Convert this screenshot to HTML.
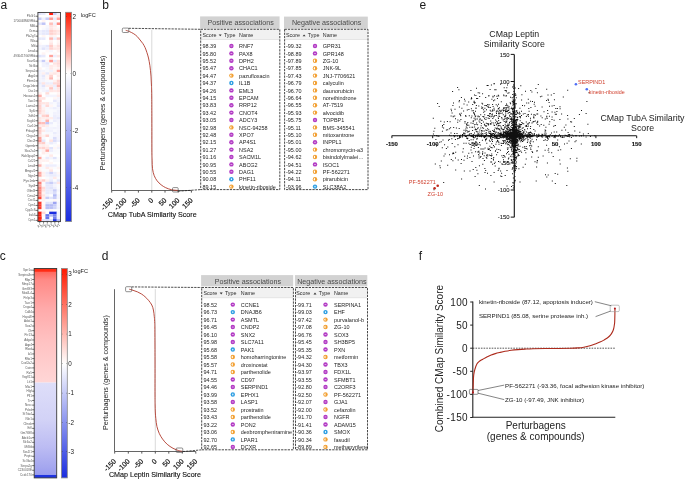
<!DOCTYPE html>
<html><head><meta charset="utf-8"><style>
html,body{margin:0;padding:0;background:#fff;}
svg{display:block;will-change:transform;}
text{font-family:"Liberation Sans",sans-serif;}
</style></head><body>
<svg width="685" height="479" viewBox="0 0 685 479" font-family="Liberation Sans, sans-serif">
<rect width="685" height="479" fill="#fff"/>
<text x="0.60" y="8.70" font-size="12" fill="#1a1a1a">a</text>
<text x="102.30" y="8.70" font-size="12" fill="#1a1a1a">b</text>
<text x="-0.20" y="260.20" font-size="12" fill="#1a1a1a">c</text>
<text x="101.80" y="260.20" font-size="12" fill="#1a1a1a">d</text>
<text x="419.60" y="8.90" font-size="12" fill="#1a1a1a">e</text>
<text x="418.80" y="260.20" font-size="12" fill="#1a1a1a">f</text>
<rect x="37.90" y="12.50" width="3.82" height="2.54" fill="#e1e4fb"/>
<rect x="41.67" y="12.50" width="3.82" height="2.54" fill="#e8eafc"/>
<rect x="49.20" y="12.50" width="3.82" height="2.54" fill="#ff1a0a"/>
<rect x="52.97" y="12.50" width="3.82" height="2.54" fill="#c8cdf8"/>
<rect x="56.73" y="12.50" width="3.82" height="2.54" fill="#f1f2fd"/>
<rect x="49.20" y="14.99" width="3.82" height="2.54" fill="#fff1f0"/>
<rect x="52.97" y="14.99" width="3.82" height="2.54" fill="#fff6f5"/>
<rect x="56.73" y="14.99" width="3.82" height="2.54" fill="#ffedeb"/>
<rect x="37.90" y="17.48" width="3.82" height="2.54" fill="#c8cdf8"/>
<rect x="41.67" y="17.48" width="3.82" height="2.54" fill="#eff0fd"/>
<rect x="45.43" y="17.48" width="3.82" height="2.54" fill="#c8cdf8"/>
<rect x="49.20" y="17.48" width="3.82" height="2.54" fill="#ff9a93"/>
<rect x="52.97" y="17.48" width="3.82" height="2.54" fill="#e8eafc"/>
<rect x="56.73" y="17.48" width="3.82" height="2.54" fill="#ffa39d"/>
<rect x="41.67" y="19.97" width="3.82" height="2.54" fill="#fff4f3"/>
<rect x="49.20" y="19.97" width="3.82" height="2.54" fill="#fffafa"/>
<rect x="52.97" y="19.97" width="3.82" height="2.54" fill="#fff6f5"/>
<rect x="37.90" y="22.46" width="3.82" height="2.54" fill="#e1e4fb"/>
<rect x="41.67" y="22.46" width="3.82" height="2.54" fill="#bfc4f6"/>
<rect x="49.20" y="22.46" width="3.82" height="2.54" fill="#ffbfba"/>
<rect x="52.97" y="22.46" width="3.82" height="2.54" fill="#f1f2fd"/>
<rect x="56.73" y="22.46" width="3.82" height="2.54" fill="#ff8c84"/>
<rect x="37.90" y="24.95" width="3.82" height="2.54" fill="#fffafa"/>
<rect x="41.67" y="24.95" width="3.82" height="2.54" fill="#fffafa"/>
<rect x="45.43" y="24.95" width="3.82" height="2.54" fill="#f6f7fe"/>
<rect x="49.20" y="24.95" width="3.82" height="2.54" fill="#ffe4e2"/>
<rect x="52.97" y="24.95" width="3.82" height="2.54" fill="#ffefee"/>
<rect x="41.67" y="27.44" width="3.82" height="2.54" fill="#f8f9fe"/>
<rect x="45.43" y="27.44" width="3.82" height="2.54" fill="#f1f2fd"/>
<rect x="49.20" y="27.44" width="3.82" height="2.54" fill="#ffe6e4"/>
<rect x="52.97" y="27.44" width="3.82" height="2.54" fill="#fff1f0"/>
<rect x="56.73" y="27.44" width="3.82" height="2.54" fill="#fff6f5"/>
<rect x="37.90" y="29.93" width="3.82" height="2.54" fill="#eff0fd"/>
<rect x="41.67" y="29.93" width="3.82" height="2.54" fill="#e6e8fc"/>
<rect x="45.43" y="29.93" width="3.82" height="2.54" fill="#e6e8fc"/>
<rect x="49.20" y="29.93" width="3.82" height="2.54" fill="#ffd1ce"/>
<rect x="52.97" y="29.93" width="3.82" height="2.54" fill="#ffddda"/>
<rect x="56.73" y="29.93" width="3.82" height="2.54" fill="#ffe6e4"/>
<rect x="37.90" y="32.41" width="3.82" height="2.54" fill="#eff0fd"/>
<rect x="41.67" y="32.41" width="3.82" height="2.54" fill="#e6e8fc"/>
<rect x="45.43" y="32.41" width="3.82" height="2.54" fill="#e6e8fc"/>
<rect x="49.20" y="32.41" width="3.82" height="2.54" fill="#ffd1ce"/>
<rect x="52.97" y="32.41" width="3.82" height="2.54" fill="#ffddda"/>
<rect x="56.73" y="32.41" width="3.82" height="2.54" fill="#ffeae9"/>
<rect x="41.67" y="34.90" width="3.82" height="2.54" fill="#fff6f5"/>
<rect x="49.20" y="34.90" width="3.82" height="2.54" fill="#fff1f0"/>
<rect x="52.97" y="34.90" width="3.82" height="2.54" fill="#fff6f5"/>
<rect x="37.90" y="37.39" width="3.82" height="2.54" fill="#e8eafc"/>
<rect x="41.67" y="37.39" width="3.82" height="2.54" fill="#e8eafc"/>
<rect x="49.20" y="37.39" width="3.82" height="2.54" fill="#ffb8b3"/>
<rect x="52.97" y="37.39" width="3.82" height="2.54" fill="#edeefd"/>
<rect x="56.73" y="37.39" width="3.82" height="2.54" fill="#ffc6c2"/>
<rect x="49.20" y="39.88" width="3.82" height="2.54" fill="#fff1f0"/>
<rect x="56.73" y="39.88" width="3.82" height="2.54" fill="#fff6f5"/>
<rect x="37.90" y="42.37" width="3.82" height="2.54" fill="#fffafa"/>
<rect x="49.20" y="42.37" width="3.82" height="2.54" fill="#ffe6e4"/>
<rect x="56.73" y="42.37" width="3.82" height="2.54" fill="#fff1f0"/>
<rect x="37.90" y="44.86" width="3.82" height="2.54" fill="#f1f2fd"/>
<rect x="41.67" y="44.86" width="3.82" height="2.54" fill="#eff0fd"/>
<rect x="45.43" y="44.86" width="3.82" height="2.54" fill="#e6e8fc"/>
<rect x="49.20" y="44.86" width="3.82" height="2.54" fill="#ffcdc9"/>
<rect x="52.97" y="44.86" width="3.82" height="2.54" fill="#fff1f0"/>
<rect x="56.73" y="44.86" width="3.82" height="2.54" fill="#ffdfdd"/>
<rect x="37.90" y="47.35" width="3.82" height="2.54" fill="#f4f4fd"/>
<rect x="41.67" y="47.35" width="3.82" height="2.54" fill="#e1e4fb"/>
<rect x="45.43" y="47.35" width="3.82" height="2.54" fill="#edeefd"/>
<rect x="49.20" y="47.35" width="3.82" height="2.54" fill="#ffd3d0"/>
<rect x="52.97" y="47.35" width="3.82" height="2.54" fill="#ffe6e4"/>
<rect x="56.73" y="47.35" width="3.82" height="2.54" fill="#ffe4e2"/>
<rect x="45.43" y="49.84" width="3.82" height="2.54" fill="#fff8f8"/>
<rect x="49.20" y="49.84" width="3.82" height="2.54" fill="#f6f7fe"/>
<rect x="56.73" y="49.84" width="3.82" height="2.54" fill="#fff1f0"/>
<rect x="41.67" y="52.33" width="3.82" height="2.54" fill="#fff4f3"/>
<rect x="52.97" y="52.33" width="3.82" height="2.54" fill="#fff8f8"/>
<rect x="37.90" y="54.82" width="3.82" height="2.54" fill="#e1e4fb"/>
<rect x="41.67" y="54.82" width="3.82" height="2.54" fill="#e8eafc"/>
<rect x="49.20" y="54.82" width="3.82" height="2.54" fill="#ffa39d"/>
<rect x="52.97" y="54.82" width="3.82" height="2.54" fill="#edeefd"/>
<rect x="56.73" y="54.82" width="3.82" height="2.54" fill="#ffe4e2"/>
<rect x="49.20" y="57.31" width="3.82" height="2.54" fill="#fff1f0"/>
<rect x="37.90" y="59.80" width="3.82" height="2.54" fill="#f1f2fd"/>
<rect x="41.67" y="59.80" width="3.82" height="2.54" fill="#c8cdf8"/>
<rect x="45.43" y="59.80" width="3.82" height="2.54" fill="#fff6f5"/>
<rect x="49.20" y="59.80" width="3.82" height="2.54" fill="#ff9a93"/>
<rect x="52.97" y="59.80" width="3.82" height="2.54" fill="#e8eafc"/>
<rect x="56.73" y="59.80" width="3.82" height="2.54" fill="#ffdfdd"/>
<rect x="41.67" y="62.29" width="3.82" height="2.54" fill="#f1f2fd"/>
<rect x="45.43" y="62.29" width="3.82" height="2.54" fill="#e6e8fc"/>
<rect x="52.97" y="62.29" width="3.82" height="2.54" fill="#ffe4e2"/>
<rect x="56.73" y="62.29" width="3.82" height="2.54" fill="#ffdad8"/>
<rect x="41.67" y="64.78" width="3.82" height="2.54" fill="#f1f2fd"/>
<rect x="45.43" y="64.78" width="3.82" height="2.54" fill="#f1f2fd"/>
<rect x="49.20" y="64.78" width="3.82" height="2.54" fill="#ffeae9"/>
<rect x="52.97" y="64.78" width="3.82" height="2.54" fill="#fff1f0"/>
<rect x="56.73" y="64.78" width="3.82" height="2.54" fill="#ffe4e2"/>
<rect x="37.90" y="67.26" width="3.82" height="2.54" fill="#fff4f3"/>
<rect x="45.43" y="67.26" width="3.82" height="2.54" fill="#f6f7fe"/>
<rect x="49.20" y="67.26" width="3.82" height="2.54" fill="#ffeae9"/>
<rect x="52.97" y="67.26" width="3.82" height="2.54" fill="#fff6f5"/>
<rect x="56.73" y="67.26" width="3.82" height="2.54" fill="#fff1f0"/>
<rect x="37.90" y="69.75" width="3.82" height="2.54" fill="#f1f2fd"/>
<rect x="41.67" y="69.75" width="3.82" height="2.54" fill="#f4f4fd"/>
<rect x="45.43" y="69.75" width="3.82" height="2.54" fill="#f8f9fe"/>
<rect x="49.20" y="69.75" width="3.82" height="2.54" fill="#f1f2fd"/>
<rect x="52.97" y="69.75" width="3.82" height="2.54" fill="#fff4f3"/>
<rect x="56.73" y="69.75" width="3.82" height="2.54" fill="#ffa39d"/>
<rect x="37.90" y="72.24" width="3.82" height="2.54" fill="#f4f4fd"/>
<rect x="41.67" y="72.24" width="3.82" height="2.54" fill="#ffefee"/>
<rect x="45.43" y="72.24" width="3.82" height="2.54" fill="#e6e8fc"/>
<rect x="49.20" y="72.24" width="3.82" height="2.54" fill="#ffedeb"/>
<rect x="52.97" y="72.24" width="3.82" height="2.54" fill="#ffe6e4"/>
<rect x="56.73" y="72.24" width="3.82" height="2.54" fill="#fff1f0"/>
<rect x="37.90" y="74.73" width="3.82" height="2.54" fill="#f4f4fd"/>
<rect x="41.67" y="74.73" width="3.82" height="2.54" fill="#e6e8fc"/>
<rect x="45.43" y="74.73" width="3.82" height="2.54" fill="#fff6f5"/>
<rect x="49.20" y="74.73" width="3.82" height="2.54" fill="#ffd3d0"/>
<rect x="56.73" y="74.73" width="3.82" height="2.54" fill="#ffeae9"/>
<rect x="37.90" y="77.22" width="3.82" height="2.54" fill="#f4f4fd"/>
<rect x="41.67" y="77.22" width="3.82" height="2.54" fill="#edeefd"/>
<rect x="45.43" y="77.22" width="3.82" height="2.54" fill="#fff6f5"/>
<rect x="49.20" y="77.22" width="3.82" height="2.54" fill="#ffb8b3"/>
<rect x="56.73" y="77.22" width="3.82" height="2.54" fill="#fff6f5"/>
<rect x="37.90" y="79.71" width="3.82" height="2.54" fill="#f4f4fd"/>
<rect x="41.67" y="79.71" width="3.82" height="2.54" fill="#f4f4fd"/>
<rect x="45.43" y="79.71" width="3.82" height="2.54" fill="#f8f9fe"/>
<rect x="49.20" y="79.71" width="3.82" height="2.54" fill="#f8f9fe"/>
<rect x="52.97" y="79.71" width="3.82" height="2.54" fill="#fff1f0"/>
<rect x="56.73" y="79.71" width="3.82" height="2.54" fill="#ffd3d0"/>
<rect x="37.90" y="82.20" width="3.82" height="2.54" fill="#eaecfc"/>
<rect x="41.67" y="82.20" width="3.82" height="2.54" fill="#ffe4e2"/>
<rect x="45.43" y="82.20" width="3.82" height="2.54" fill="#edeefd"/>
<rect x="49.20" y="82.20" width="3.82" height="2.54" fill="#edeefd"/>
<rect x="52.97" y="82.20" width="3.82" height="2.54" fill="#ffdad8"/>
<rect x="56.73" y="82.20" width="3.82" height="2.54" fill="#ffd3d0"/>
<rect x="37.90" y="84.69" width="3.82" height="2.54" fill="#f4f4fd"/>
<rect x="41.67" y="84.69" width="3.82" height="2.54" fill="#e1e4fb"/>
<rect x="45.43" y="84.69" width="3.82" height="2.54" fill="#ffedeb"/>
<rect x="49.20" y="84.69" width="3.82" height="2.54" fill="#ffeae9"/>
<rect x="52.97" y="84.69" width="3.82" height="2.54" fill="#edeefd"/>
<rect x="56.73" y="84.69" width="3.82" height="2.54" fill="#ffb8b3"/>
<rect x="37.90" y="87.18" width="3.82" height="2.54" fill="#f4f4fd"/>
<rect x="41.67" y="87.18" width="3.82" height="2.54" fill="#f1f2fd"/>
<rect x="45.43" y="87.18" width="3.82" height="2.54" fill="#fafbfe"/>
<rect x="49.20" y="87.18" width="3.82" height="2.54" fill="#ffc6c2"/>
<rect x="52.97" y="87.18" width="3.82" height="2.54" fill="#f1f2fd"/>
<rect x="56.73" y="87.18" width="3.82" height="2.54" fill="#ffe4e2"/>
<rect x="37.90" y="89.67" width="3.82" height="2.54" fill="#fafbfe"/>
<rect x="41.67" y="89.67" width="3.82" height="2.54" fill="#f4f4fd"/>
<rect x="45.43" y="89.67" width="3.82" height="2.54" fill="#edeefd"/>
<rect x="49.20" y="89.67" width="3.82" height="2.54" fill="#ffe6e4"/>
<rect x="52.97" y="89.67" width="3.82" height="2.54" fill="#ffeae9"/>
<rect x="56.73" y="89.67" width="3.82" height="2.54" fill="#ffe4e2"/>
<rect x="37.90" y="92.16" width="3.82" height="2.54" fill="#fff1f0"/>
<rect x="45.43" y="92.16" width="3.82" height="2.54" fill="#ffddda"/>
<rect x="56.73" y="92.16" width="3.82" height="2.54" fill="#fff6f5"/>
<rect x="37.90" y="94.65" width="3.82" height="2.54" fill="#ffb1ac"/>
<rect x="45.43" y="94.65" width="3.82" height="2.54" fill="#f4f4fd"/>
<rect x="49.20" y="94.65" width="3.82" height="2.54" fill="#f4f4fd"/>
<rect x="52.97" y="94.65" width="3.82" height="2.54" fill="#f4f4fd"/>
<rect x="56.73" y="94.65" width="3.82" height="2.54" fill="#ffeae9"/>
<rect x="37.90" y="97.14" width="3.82" height="2.54" fill="#ffe4e2"/>
<rect x="41.67" y="97.14" width="3.82" height="2.54" fill="#ffe4e2"/>
<rect x="52.97" y="97.14" width="3.82" height="2.54" fill="#fff6f5"/>
<rect x="56.73" y="97.14" width="3.82" height="2.54" fill="#f4f4fd"/>
<rect x="37.90" y="99.62" width="3.82" height="2.54" fill="#ffcdc9"/>
<rect x="52.97" y="99.62" width="3.82" height="2.54" fill="#e6e8fc"/>
<rect x="56.73" y="99.62" width="3.82" height="2.54" fill="#f4f4fd"/>
<rect x="37.90" y="102.11" width="3.82" height="2.54" fill="#ffdad8"/>
<rect x="41.67" y="102.11" width="3.82" height="2.54" fill="#ffe6e4"/>
<rect x="45.43" y="102.11" width="3.82" height="2.54" fill="#ffe6e4"/>
<rect x="49.20" y="102.11" width="3.82" height="2.54" fill="#f4f4fd"/>
<rect x="52.97" y="102.11" width="3.82" height="2.54" fill="#f8f9fe"/>
<rect x="56.73" y="102.11" width="3.82" height="2.54" fill="#eaecfc"/>
<rect x="37.90" y="104.60" width="3.82" height="2.54" fill="#ffd3d0"/>
<rect x="41.67" y="104.60" width="3.82" height="2.54" fill="#f6f7fe"/>
<rect x="45.43" y="104.60" width="3.82" height="2.54" fill="#ffdad8"/>
<rect x="49.20" y="104.60" width="3.82" height="2.54" fill="#fff6f5"/>
<rect x="52.97" y="104.60" width="3.82" height="2.54" fill="#fafbfe"/>
<rect x="56.73" y="104.60" width="3.82" height="2.54" fill="#e6e8fc"/>
<rect x="37.90" y="107.09" width="3.82" height="2.54" fill="#ffd3d0"/>
<rect x="41.67" y="107.09" width="3.82" height="2.54" fill="#fff1f0"/>
<rect x="45.43" y="107.09" width="3.82" height="2.54" fill="#f8f9fe"/>
<rect x="49.20" y="107.09" width="3.82" height="2.54" fill="#f4f4fd"/>
<rect x="52.97" y="107.09" width="3.82" height="2.54" fill="#edeefd"/>
<rect x="56.73" y="107.09" width="3.82" height="2.54" fill="#f4f4fd"/>
<rect x="37.90" y="109.58" width="3.82" height="2.54" fill="#ffd3d0"/>
<rect x="41.67" y="109.58" width="3.82" height="2.54" fill="#ffeae9"/>
<rect x="45.43" y="109.58" width="3.82" height="2.54" fill="#f8f9fe"/>
<rect x="49.20" y="109.58" width="3.82" height="2.54" fill="#fafbfe"/>
<rect x="52.97" y="109.58" width="3.82" height="2.54" fill="#f8f9fe"/>
<rect x="56.73" y="109.58" width="3.82" height="2.54" fill="#f1f2fd"/>
<rect x="37.90" y="112.07" width="3.82" height="2.54" fill="#ffdad8"/>
<rect x="41.67" y="112.07" width="3.82" height="2.54" fill="#ffedeb"/>
<rect x="45.43" y="112.07" width="3.82" height="2.54" fill="#f4f4fd"/>
<rect x="49.20" y="112.07" width="3.82" height="2.54" fill="#fafbfe"/>
<rect x="52.97" y="112.07" width="3.82" height="2.54" fill="#f1f2fd"/>
<rect x="56.73" y="112.07" width="3.82" height="2.54" fill="#f1f2fd"/>
<rect x="37.90" y="114.56" width="3.82" height="2.54" fill="#f6f7fe"/>
<rect x="41.67" y="114.56" width="3.82" height="2.54" fill="#ffd3d0"/>
<rect x="45.43" y="114.56" width="3.82" height="2.54" fill="#ffc6c2"/>
<rect x="49.20" y="114.56" width="3.82" height="2.54" fill="#fafbfe"/>
<rect x="52.97" y="114.56" width="3.82" height="2.54" fill="#edeefd"/>
<rect x="56.73" y="114.56" width="3.82" height="2.54" fill="#f1f2fd"/>
<rect x="37.90" y="117.05" width="3.82" height="2.54" fill="#ffe6e4"/>
<rect x="41.67" y="117.05" width="3.82" height="2.54" fill="#ffedeb"/>
<rect x="45.43" y="117.05" width="3.82" height="2.54" fill="#ffeae9"/>
<rect x="49.20" y="117.05" width="3.82" height="2.54" fill="#ffedeb"/>
<rect x="52.97" y="117.05" width="3.82" height="2.54" fill="#edeefd"/>
<rect x="56.73" y="117.05" width="3.82" height="2.54" fill="#e6e8fc"/>
<rect x="37.90" y="119.54" width="3.82" height="2.54" fill="#ffe6e4"/>
<rect x="41.67" y="119.54" width="3.82" height="2.54" fill="#f4f4fd"/>
<rect x="45.43" y="119.54" width="3.82" height="2.54" fill="#ffb1ac"/>
<rect x="49.20" y="119.54" width="3.82" height="2.54" fill="#fafbfe"/>
<rect x="52.97" y="119.54" width="3.82" height="2.54" fill="#edeefd"/>
<rect x="56.73" y="119.54" width="3.82" height="2.54" fill="#f4f4fd"/>
<rect x="37.90" y="122.03" width="3.82" height="2.54" fill="#ffb8b3"/>
<rect x="41.67" y="122.03" width="3.82" height="2.54" fill="#ffbfba"/>
<rect x="45.43" y="122.03" width="3.82" height="2.54" fill="#c1c6f7"/>
<rect x="49.20" y="122.03" width="3.82" height="2.54" fill="#eaecfc"/>
<rect x="52.97" y="122.03" width="3.82" height="2.54" fill="#fafbfe"/>
<rect x="56.73" y="122.03" width="3.82" height="2.54" fill="#f4f4fd"/>
<rect x="37.90" y="124.52" width="3.82" height="2.54" fill="#ffeae9"/>
<rect x="41.67" y="124.52" width="3.82" height="2.54" fill="#ffe4e2"/>
<rect x="45.43" y="124.52" width="3.82" height="2.54" fill="#ffedeb"/>
<rect x="49.20" y="124.52" width="3.82" height="2.54" fill="#f8f9fe"/>
<rect x="52.97" y="124.52" width="3.82" height="2.54" fill="#fafbfe"/>
<rect x="56.73" y="124.52" width="3.82" height="2.54" fill="#f4f4fd"/>
<rect x="37.90" y="127.01" width="3.82" height="2.54" fill="#ffc6c2"/>
<rect x="41.67" y="127.01" width="3.82" height="2.54" fill="#fffafa"/>
<rect x="45.43" y="127.01" width="3.82" height="2.54" fill="#f4f4fd"/>
<rect x="49.20" y="127.01" width="3.82" height="2.54" fill="#f4f4fd"/>
<rect x="52.97" y="127.01" width="3.82" height="2.54" fill="#f1f2fd"/>
<rect x="56.73" y="127.01" width="3.82" height="2.54" fill="#f4f4fd"/>
<rect x="37.90" y="129.50" width="3.82" height="2.54" fill="#ffcdc9"/>
<rect x="41.67" y="129.50" width="3.82" height="2.54" fill="#ffeae9"/>
<rect x="45.43" y="129.50" width="3.82" height="2.54" fill="#f1f2fd"/>
<rect x="49.20" y="129.50" width="3.82" height="2.54" fill="#f1f2fd"/>
<rect x="52.97" y="129.50" width="3.82" height="2.54" fill="#f8f9fe"/>
<rect x="56.73" y="129.50" width="3.82" height="2.54" fill="#f4f4fd"/>
<rect x="37.90" y="131.99" width="3.82" height="2.54" fill="#ffd3d0"/>
<rect x="41.67" y="131.99" width="3.82" height="2.54" fill="#fafbfe"/>
<rect x="45.43" y="131.99" width="3.82" height="2.54" fill="#f8f9fe"/>
<rect x="49.20" y="131.99" width="3.82" height="2.54" fill="#f8f9fe"/>
<rect x="52.97" y="131.99" width="3.82" height="2.54" fill="#eaecfc"/>
<rect x="56.73" y="131.99" width="3.82" height="2.54" fill="#f4f4fd"/>
<rect x="37.90" y="134.48" width="3.82" height="2.54" fill="#ffdfdd"/>
<rect x="41.67" y="134.48" width="3.82" height="2.54" fill="#fff1f0"/>
<rect x="45.43" y="134.48" width="3.82" height="2.54" fill="#ffd3d0"/>
<rect x="49.20" y="134.48" width="3.82" height="2.54" fill="#f8f9fe"/>
<rect x="52.97" y="134.48" width="3.82" height="2.54" fill="#f4f4fd"/>
<rect x="56.73" y="134.48" width="3.82" height="2.54" fill="#f4f4fd"/>
<rect x="37.90" y="136.96" width="3.82" height="2.54" fill="#ffa69f"/>
<rect x="41.67" y="136.96" width="3.82" height="2.54" fill="#f8f9fe"/>
<rect x="49.20" y="136.96" width="3.82" height="2.54" fill="#f8f9fe"/>
<rect x="52.97" y="136.96" width="3.82" height="2.54" fill="#daddfa"/>
<rect x="56.73" y="136.96" width="3.82" height="2.54" fill="#f4f4fd"/>
<rect x="37.90" y="139.45" width="3.82" height="2.54" fill="#ff9a93"/>
<rect x="41.67" y="139.45" width="3.82" height="2.54" fill="#e6e8fc"/>
<rect x="49.20" y="139.45" width="3.82" height="2.54" fill="#ffe4e2"/>
<rect x="52.97" y="139.45" width="3.82" height="2.54" fill="#daddfa"/>
<rect x="56.73" y="139.45" width="3.82" height="2.54" fill="#edeefd"/>
<rect x="37.90" y="141.94" width="3.82" height="2.54" fill="#ffd3d0"/>
<rect x="41.67" y="141.94" width="3.82" height="2.54" fill="#ffcdc9"/>
<rect x="45.43" y="141.94" width="3.82" height="2.54" fill="#f8f9fe"/>
<rect x="49.20" y="141.94" width="3.82" height="2.54" fill="#eaecfc"/>
<rect x="52.97" y="141.94" width="3.82" height="2.54" fill="#f4f4fd"/>
<rect x="37.90" y="144.43" width="3.82" height="2.54" fill="#fff1f0"/>
<rect x="41.67" y="144.43" width="3.82" height="2.54" fill="#ffedeb"/>
<rect x="45.43" y="144.43" width="3.82" height="2.54" fill="#fff1f0"/>
<rect x="52.97" y="144.43" width="3.82" height="2.54" fill="#fafbfe"/>
<rect x="56.73" y="144.43" width="3.82" height="2.54" fill="#fff6f5"/>
<rect x="37.90" y="146.92" width="3.82" height="2.54" fill="#ffdad8"/>
<rect x="41.67" y="146.92" width="3.82" height="2.54" fill="#ffd3d0"/>
<rect x="45.43" y="146.92" width="3.82" height="2.54" fill="#ffe4e2"/>
<rect x="49.20" y="146.92" width="3.82" height="2.54" fill="#e1e4fb"/>
<rect x="52.97" y="146.92" width="3.82" height="2.54" fill="#fff6f5"/>
<rect x="56.73" y="146.92" width="3.82" height="2.54" fill="#f1f2fd"/>
<rect x="37.90" y="149.41" width="3.82" height="2.54" fill="#f8f9fe"/>
<rect x="41.67" y="149.41" width="3.82" height="2.54" fill="#fff1f0"/>
<rect x="45.43" y="149.41" width="3.82" height="2.54" fill="#ffa8a2"/>
<rect x="49.20" y="149.41" width="3.82" height="2.54" fill="#edeefd"/>
<rect x="52.97" y="149.41" width="3.82" height="2.54" fill="#f8f9fe"/>
<rect x="56.73" y="149.41" width="3.82" height="2.54" fill="#fafbfe"/>
<rect x="41.67" y="151.90" width="3.82" height="2.54" fill="#ffedeb"/>
<rect x="45.43" y="151.90" width="3.82" height="2.54" fill="#fff6f5"/>
<rect x="49.20" y="151.90" width="3.82" height="2.54" fill="#fafbfe"/>
<rect x="52.97" y="151.90" width="3.82" height="2.54" fill="#fafbfe"/>
<rect x="56.73" y="151.90" width="3.82" height="2.54" fill="#fafbfe"/>
<rect x="37.90" y="154.39" width="3.82" height="2.54" fill="#fff6f5"/>
<rect x="45.43" y="154.39" width="3.82" height="2.54" fill="#fafbfe"/>
<rect x="49.20" y="154.39" width="3.82" height="2.54" fill="#ffeae9"/>
<rect x="37.90" y="156.88" width="3.82" height="2.54" fill="#ffa69f"/>
<rect x="41.67" y="156.88" width="3.82" height="2.54" fill="#fafbfe"/>
<rect x="45.43" y="156.88" width="3.82" height="2.54" fill="#eaecfc"/>
<rect x="49.20" y="156.88" width="3.82" height="2.54" fill="#f4f4fd"/>
<rect x="52.97" y="156.88" width="3.82" height="2.54" fill="#e1e4fb"/>
<rect x="56.73" y="156.88" width="3.82" height="2.54" fill="#fafbfe"/>
<rect x="37.90" y="159.37" width="3.82" height="2.54" fill="#fff1f0"/>
<rect x="41.67" y="159.37" width="3.82" height="2.54" fill="#fff1f0"/>
<rect x="45.43" y="159.37" width="3.82" height="2.54" fill="#fff1f0"/>
<rect x="52.97" y="159.37" width="3.82" height="2.54" fill="#f8f9fe"/>
<rect x="56.73" y="159.37" width="3.82" height="2.54" fill="#fafbfe"/>
<rect x="37.90" y="161.86" width="3.82" height="2.54" fill="#fff1f0"/>
<rect x="49.20" y="161.86" width="3.82" height="2.54" fill="#fff6f5"/>
<rect x="37.90" y="164.35" width="3.82" height="2.54" fill="#ffb1ac"/>
<rect x="41.67" y="164.35" width="3.82" height="2.54" fill="#fff6f5"/>
<rect x="45.43" y="164.35" width="3.82" height="2.54" fill="#edeefd"/>
<rect x="49.20" y="164.35" width="3.82" height="2.54" fill="#edeefd"/>
<rect x="52.97" y="164.35" width="3.82" height="2.54" fill="#edeefd"/>
<rect x="56.73" y="164.35" width="3.82" height="2.54" fill="#fafbfe"/>
<rect x="37.90" y="166.84" width="3.82" height="2.54" fill="#fff6f5"/>
<rect x="41.67" y="166.84" width="3.82" height="2.54" fill="#f8f9fe"/>
<rect x="45.43" y="166.84" width="3.82" height="2.54" fill="#ffeae9"/>
<rect x="49.20" y="166.84" width="3.82" height="2.54" fill="#fff6f5"/>
<rect x="52.97" y="166.84" width="3.82" height="2.54" fill="#fafbfe"/>
<rect x="56.73" y="166.84" width="3.82" height="2.54" fill="#fff4f3"/>
<rect x="37.90" y="169.32" width="3.82" height="2.54" fill="#fff1f0"/>
<rect x="41.67" y="169.32" width="3.82" height="2.54" fill="#fafbfe"/>
<rect x="45.43" y="169.32" width="3.82" height="2.54" fill="#fafbfe"/>
<rect x="49.20" y="169.32" width="3.82" height="2.54" fill="#ffe6e4"/>
<rect x="37.90" y="171.81" width="3.82" height="2.54" fill="#ffa8a2"/>
<rect x="41.67" y="171.81" width="3.82" height="2.54" fill="#fff1f0"/>
<rect x="45.43" y="171.81" width="3.82" height="2.54" fill="#edeefd"/>
<rect x="49.20" y="171.81" width="3.82" height="2.54" fill="#d1d5f9"/>
<rect x="52.97" y="171.81" width="3.82" height="2.54" fill="#edeefd"/>
<rect x="56.73" y="171.81" width="3.82" height="2.54" fill="#fff6f5"/>
<rect x="37.90" y="174.30" width="3.82" height="2.54" fill="#ffa8a2"/>
<rect x="41.67" y="174.30" width="3.82" height="2.54" fill="#fff1f0"/>
<rect x="45.43" y="174.30" width="3.82" height="2.54" fill="#f1f2fd"/>
<rect x="49.20" y="174.30" width="3.82" height="2.54" fill="#eaecfc"/>
<rect x="52.97" y="174.30" width="3.82" height="2.54" fill="#eaecfc"/>
<rect x="56.73" y="174.30" width="3.82" height="2.54" fill="#f4f4fd"/>
<rect x="37.90" y="176.79" width="3.82" height="2.54" fill="#fff6f5"/>
<rect x="45.43" y="176.79" width="3.82" height="2.54" fill="#fafbfe"/>
<rect x="49.20" y="176.79" width="3.82" height="2.54" fill="#f4f4fd"/>
<rect x="52.97" y="176.79" width="3.82" height="2.54" fill="#ffeae9"/>
<rect x="56.73" y="176.79" width="3.82" height="2.54" fill="#fafbfe"/>
<rect x="37.90" y="179.28" width="3.82" height="2.54" fill="#ffe4e2"/>
<rect x="41.67" y="179.28" width="3.82" height="2.54" fill="#ffcdc9"/>
<rect x="45.43" y="179.28" width="3.82" height="2.54" fill="#fff1f0"/>
<rect x="49.20" y="179.28" width="3.82" height="2.54" fill="#eaecfc"/>
<rect x="52.97" y="179.28" width="3.82" height="2.54" fill="#fafbfe"/>
<rect x="56.73" y="179.28" width="3.82" height="2.54" fill="#e6e8fc"/>
<rect x="37.90" y="181.77" width="3.82" height="2.54" fill="#ff7f76"/>
<rect x="41.67" y="181.77" width="3.82" height="2.54" fill="#fafbfe"/>
<rect x="45.43" y="181.77" width="3.82" height="2.54" fill="#daddfa"/>
<rect x="49.20" y="181.77" width="3.82" height="2.54" fill="#c8cdf8"/>
<rect x="52.97" y="181.77" width="3.82" height="2.54" fill="#e6e8fc"/>
<rect x="56.73" y="181.77" width="3.82" height="2.54" fill="#ffe6e4"/>
<rect x="37.90" y="184.26" width="3.82" height="2.54" fill="#ffa69f"/>
<rect x="41.67" y="184.26" width="3.82" height="2.54" fill="#fafbfe"/>
<rect x="45.43" y="184.26" width="3.82" height="2.54" fill="#e6e8fc"/>
<rect x="49.20" y="184.26" width="3.82" height="2.54" fill="#e6e8fc"/>
<rect x="52.97" y="184.26" width="3.82" height="2.54" fill="#f4f4fd"/>
<rect x="56.73" y="184.26" width="3.82" height="2.54" fill="#fafbfe"/>
<rect x="37.90" y="186.75" width="3.82" height="2.54" fill="#ff8880"/>
<rect x="41.67" y="186.75" width="3.82" height="2.54" fill="#ffdad8"/>
<rect x="45.43" y="186.75" width="3.82" height="2.54" fill="#e8eafc"/>
<rect x="49.20" y="186.75" width="3.82" height="2.54" fill="#e1e4fb"/>
<rect x="52.97" y="186.75" width="3.82" height="2.54" fill="#edeefd"/>
<rect x="56.73" y="186.75" width="3.82" height="2.54" fill="#fafbfe"/>
<rect x="37.90" y="189.24" width="3.82" height="2.54" fill="#ff8a82"/>
<rect x="41.67" y="189.24" width="3.82" height="2.54" fill="#ffe1df"/>
<rect x="45.43" y="189.24" width="3.82" height="2.54" fill="#e8eafc"/>
<rect x="49.20" y="189.24" width="3.82" height="2.54" fill="#e8eafc"/>
<rect x="52.97" y="189.24" width="3.82" height="2.54" fill="#c8cdf8"/>
<rect x="56.73" y="189.24" width="3.82" height="2.54" fill="#f4f4fd"/>
<rect x="37.90" y="191.73" width="3.82" height="2.54" fill="#ff8a82"/>
<rect x="41.67" y="191.73" width="3.82" height="2.54" fill="#fff4f3"/>
<rect x="45.43" y="191.73" width="3.82" height="2.54" fill="#e8eafc"/>
<rect x="49.20" y="191.73" width="3.82" height="2.54" fill="#edeefd"/>
<rect x="52.97" y="191.73" width="3.82" height="2.54" fill="#daddfa"/>
<rect x="56.73" y="191.73" width="3.82" height="2.54" fill="#fafbfe"/>
<rect x="37.90" y="194.22" width="3.82" height="2.54" fill="#ff8f87"/>
<rect x="41.67" y="194.22" width="3.82" height="2.54" fill="#ffe4e2"/>
<rect x="45.43" y="194.22" width="3.82" height="2.54" fill="#f4f4fd"/>
<rect x="52.97" y="194.22" width="3.82" height="2.54" fill="#b3baf5"/>
<rect x="56.73" y="194.22" width="3.82" height="2.54" fill="#f4f4fd"/>
<rect x="37.90" y="196.71" width="3.82" height="2.54" fill="#ff483b"/>
<rect x="41.67" y="196.71" width="3.82" height="2.54" fill="#ffedeb"/>
<rect x="45.43" y="196.71" width="3.82" height="2.54" fill="#c8cdf8"/>
<rect x="49.20" y="196.71" width="3.82" height="2.54" fill="#e1e4fb"/>
<rect x="52.97" y="196.71" width="3.82" height="2.54" fill="#c8cdf8"/>
<rect x="56.73" y="196.71" width="3.82" height="2.54" fill="#f4f4fd"/>
<rect x="41.67" y="199.20" width="3.82" height="2.54" fill="#fff1f0"/>
<rect x="45.43" y="199.20" width="3.82" height="2.54" fill="#fafbfe"/>
<rect x="49.20" y="199.20" width="3.82" height="2.54" fill="#fafbfe"/>
<rect x="52.97" y="199.20" width="3.82" height="2.54" fill="#fff6f5"/>
<rect x="56.73" y="199.20" width="3.82" height="2.54" fill="#fafbfe"/>
<rect x="37.90" y="201.69" width="3.82" height="2.54" fill="#ff382a"/>
<rect x="41.67" y="201.69" width="3.82" height="2.54" fill="#fffafa"/>
<rect x="45.43" y="201.69" width="3.82" height="2.54" fill="#e1e4fb"/>
<rect x="49.20" y="201.69" width="3.82" height="2.54" fill="#e1e4fb"/>
<rect x="52.97" y="201.69" width="3.82" height="2.54" fill="#9da5f2"/>
<rect x="56.73" y="201.69" width="3.82" height="2.54" fill="#f4f4fd"/>
<rect x="37.90" y="204.18" width="3.82" height="2.54" fill="#ff382a"/>
<rect x="41.67" y="204.18" width="3.82" height="2.54" fill="#fff6f5"/>
<rect x="45.43" y="204.18" width="3.82" height="2.54" fill="#b3baf5"/>
<rect x="49.20" y="204.18" width="3.82" height="2.54" fill="#b3baf5"/>
<rect x="52.97" y="204.18" width="3.82" height="2.54" fill="#c8cdf8"/>
<rect x="56.73" y="204.18" width="3.82" height="2.54" fill="#f4f4fd"/>
<rect x="37.90" y="206.66" width="3.82" height="2.54" fill="#ff382a"/>
<rect x="41.67" y="206.66" width="3.82" height="2.54" fill="#fff6f5"/>
<rect x="45.43" y="206.66" width="3.82" height="2.54" fill="#bac0f6"/>
<rect x="49.20" y="206.66" width="3.82" height="2.54" fill="#bac0f6"/>
<rect x="52.97" y="206.66" width="3.82" height="2.54" fill="#d1d5f9"/>
<rect x="56.73" y="206.66" width="3.82" height="2.54" fill="#f1f2fd"/>
<rect x="41.67" y="209.15" width="3.82" height="2.54" fill="#fff6f5"/>
<rect x="49.20" y="209.15" width="3.82" height="2.54" fill="#fff6f5"/>
<rect x="56.73" y="209.15" width="3.82" height="2.54" fill="#fafbfe"/>
<rect x="37.90" y="211.64" width="3.82" height="2.54" fill="#ff2111"/>
<rect x="41.67" y="211.64" width="3.82" height="2.54" fill="#ffdad8"/>
<rect x="49.20" y="211.64" width="3.82" height="2.54" fill="#1a2de0"/>
<rect x="52.97" y="211.64" width="3.82" height="2.54" fill="#1a2de0"/>
<rect x="56.73" y="211.64" width="3.82" height="2.54" fill="#f4f4fd"/>
<rect x="37.90" y="214.13" width="3.82" height="2.54" fill="#ff2111"/>
<rect x="41.67" y="214.13" width="3.82" height="2.54" fill="#fff6f5"/>
<rect x="45.43" y="214.13" width="3.82" height="2.54" fill="#6a76eb"/>
<rect x="49.20" y="214.13" width="3.82" height="2.54" fill="#b3baf5"/>
<rect x="52.97" y="214.13" width="3.82" height="2.54" fill="#7681ec"/>
<rect x="56.73" y="214.13" width="3.82" height="2.54" fill="#f1f2fd"/>
<rect x="37.90" y="216.62" width="3.82" height="2.54" fill="#ff2111"/>
<rect x="45.43" y="216.62" width="3.82" height="2.54" fill="#6a76eb"/>
<rect x="52.97" y="216.62" width="3.82" height="2.54" fill="#7681ec"/>
<rect x="56.73" y="216.62" width="3.82" height="2.54" fill="#f1f2fd"/>
<rect x="37.90" y="219.11" width="3.82" height="2.54" fill="#ff2111"/>
<rect x="41.67" y="219.11" width="3.82" height="2.54" fill="#e1e4fb"/>
<rect x="45.43" y="219.11" width="3.82" height="2.54" fill="#d6d9f9"/>
<rect x="49.20" y="219.11" width="3.82" height="2.54" fill="#e1e4fb"/>
<rect x="52.97" y="219.11" width="3.82" height="2.54" fill="#2335e1"/>
<rect x="56.73" y="219.11" width="3.82" height="2.54" fill="#b3baf5"/>
<rect x="37.90" y="12.50" width="22.60" height="209.10" fill="none" stroke="#3a3a3a" stroke-width="0.9"/>
<text x="35.30" y="17.28" font-size="3.0" fill="#5a5a5a" text-anchor="end">Pik3r1</text>
<line x1="35.50" y1="16.23" x2="37.90" y2="16.23" stroke="#333" stroke-width="0.7"/>
<text x="35.30" y="22.26" font-size="3.0" fill="#5a5a5a" text-anchor="end">1700048M09Rik</text>
<line x1="35.50" y1="21.21" x2="37.90" y2="21.21" stroke="#333" stroke-width="0.7"/>
<text x="35.30" y="27.24" font-size="3.0" fill="#5a5a5a" text-anchor="end">Mlkl</text>
<line x1="35.50" y1="26.19" x2="37.90" y2="26.19" stroke="#333" stroke-width="0.7"/>
<text x="35.30" y="32.22" font-size="3.0" fill="#5a5a5a" text-anchor="end">Ocm</text>
<line x1="35.50" y1="31.17" x2="37.90" y2="31.17" stroke="#333" stroke-width="0.7"/>
<text x="35.30" y="37.20" font-size="3.0" fill="#5a5a5a" text-anchor="end">Pla2g7</text>
<line x1="35.50" y1="36.15" x2="37.90" y2="36.15" stroke="#333" stroke-width="0.7"/>
<text x="35.30" y="42.18" font-size="3.0" fill="#5a5a5a" text-anchor="end">Wls</text>
<line x1="35.50" y1="41.13" x2="37.90" y2="41.13" stroke="#333" stroke-width="0.7"/>
<text x="35.30" y="47.16" font-size="3.0" fill="#5a5a5a" text-anchor="end">Mif</text>
<line x1="35.50" y1="46.11" x2="37.90" y2="46.11" stroke="#333" stroke-width="0.7"/>
<text x="35.30" y="52.13" font-size="3.0" fill="#5a5a5a" text-anchor="end">Lmo4</text>
<line x1="35.50" y1="51.08" x2="37.90" y2="51.08" stroke="#333" stroke-width="0.7"/>
<text x="35.30" y="57.11" font-size="3.0" fill="#5a5a5a" text-anchor="end">4930417G09Rik</text>
<line x1="35.50" y1="56.06" x2="37.90" y2="56.06" stroke="#333" stroke-width="0.7"/>
<text x="35.30" y="62.09" font-size="3.0" fill="#5a5a5a" text-anchor="end">Scarf1</text>
<line x1="35.50" y1="61.04" x2="37.90" y2="61.04" stroke="#333" stroke-width="0.7"/>
<text x="35.30" y="67.07" font-size="3.0" fill="#5a5a5a" text-anchor="end">Ncf4</text>
<line x1="35.50" y1="66.02" x2="37.90" y2="66.02" stroke="#333" stroke-width="0.7"/>
<text x="35.30" y="72.05" font-size="3.0" fill="#5a5a5a" text-anchor="end">Snrpa1</text>
<line x1="35.50" y1="71.00" x2="37.90" y2="71.00" stroke="#333" stroke-width="0.7"/>
<text x="35.30" y="77.03" font-size="3.0" fill="#5a5a5a" text-anchor="end">Aqp1</text>
<line x1="35.50" y1="75.98" x2="37.90" y2="75.98" stroke="#333" stroke-width="0.7"/>
<text x="35.30" y="82.01" font-size="3.0" fill="#5a5a5a" text-anchor="end">Pitrm1</text>
<line x1="35.50" y1="80.96" x2="37.90" y2="80.96" stroke="#333" stroke-width="0.7"/>
<text x="35.30" y="86.98" font-size="3.0" fill="#5a5a5a" text-anchor="end">Cnga1nb</text>
<line x1="35.50" y1="85.93" x2="37.90" y2="85.93" stroke="#333" stroke-width="0.7"/>
<text x="35.30" y="91.96" font-size="3.0" fill="#5a5a5a" text-anchor="end">Dsc1</text>
<line x1="35.50" y1="90.91" x2="37.90" y2="90.91" stroke="#333" stroke-width="0.7"/>
<text x="35.30" y="96.94" font-size="3.0" fill="#5a5a5a" text-anchor="end">Hoxaas1</text>
<line x1="35.50" y1="95.89" x2="37.90" y2="95.89" stroke="#333" stroke-width="0.7"/>
<text x="35.30" y="101.92" font-size="3.0" fill="#5a5a5a" text-anchor="end">Tacr2</text>
<line x1="35.50" y1="100.87" x2="37.90" y2="100.87" stroke="#333" stroke-width="0.7"/>
<text x="35.30" y="106.90" font-size="3.0" fill="#5a5a5a" text-anchor="end">Lama1</text>
<line x1="35.50" y1="105.85" x2="37.90" y2="105.85" stroke="#333" stroke-width="0.7"/>
<text x="35.30" y="111.88" font-size="3.0" fill="#5a5a5a" text-anchor="end">Syt5</text>
<line x1="35.50" y1="110.83" x2="37.90" y2="110.83" stroke="#333" stroke-width="0.7"/>
<text x="35.30" y="116.86" font-size="3.0" fill="#5a5a5a" text-anchor="end">Xdh1</text>
<line x1="35.50" y1="115.81" x2="37.90" y2="115.81" stroke="#333" stroke-width="0.7"/>
<text x="35.30" y="121.83" font-size="3.0" fill="#5a5a5a" text-anchor="end">Scgb1</text>
<line x1="35.50" y1="120.78" x2="37.90" y2="120.78" stroke="#333" stroke-width="0.7"/>
<text x="35.30" y="126.81" font-size="3.0" fill="#5a5a5a" text-anchor="end">Car10</text>
<line x1="35.50" y1="125.76" x2="37.90" y2="125.76" stroke="#333" stroke-width="0.7"/>
<text x="35.30" y="131.79" font-size="3.0" fill="#5a5a5a" text-anchor="end">Prkag3</text>
<line x1="35.50" y1="130.74" x2="37.90" y2="130.74" stroke="#333" stroke-width="0.7"/>
<text x="35.30" y="136.77" font-size="3.0" fill="#5a5a5a" text-anchor="end">Chga1</text>
<line x1="35.50" y1="135.72" x2="37.90" y2="135.72" stroke="#333" stroke-width="0.7"/>
<text x="35.30" y="141.75" font-size="3.0" fill="#5a5a5a" text-anchor="end">Clec2l</text>
<line x1="35.50" y1="140.70" x2="37.90" y2="140.70" stroke="#333" stroke-width="0.7"/>
<text x="35.30" y="146.73" font-size="3.0" fill="#5a5a5a" text-anchor="end">Gpnmb</text>
<line x1="35.50" y1="145.68" x2="37.90" y2="145.68" stroke="#333" stroke-width="0.7"/>
<text x="35.30" y="151.71" font-size="3.0" fill="#5a5a5a" text-anchor="end">Slco2a1</text>
<line x1="35.50" y1="150.66" x2="37.90" y2="150.66" stroke="#333" stroke-width="0.7"/>
<text x="35.30" y="156.68" font-size="3.0" fill="#5a5a5a" text-anchor="end">Rab3gap2</text>
<line x1="35.50" y1="155.63" x2="37.90" y2="155.63" stroke="#333" stroke-width="0.7"/>
<text x="35.30" y="161.66" font-size="3.0" fill="#5a5a5a" text-anchor="end">Ccl21</text>
<line x1="35.50" y1="160.61" x2="37.90" y2="160.61" stroke="#333" stroke-width="0.7"/>
<text x="35.30" y="166.64" font-size="3.0" fill="#5a5a5a" text-anchor="end">Lmo3</text>
<line x1="35.50" y1="165.59" x2="37.90" y2="165.59" stroke="#333" stroke-width="0.7"/>
<text x="35.30" y="171.62" font-size="3.0" fill="#5a5a5a" text-anchor="end">Mmgal1</text>
<line x1="35.50" y1="170.57" x2="37.90" y2="170.57" stroke="#333" stroke-width="0.7"/>
<text x="35.30" y="176.60" font-size="3.0" fill="#5a5a5a" text-anchor="end">Ngn1</text>
<line x1="35.50" y1="175.55" x2="37.90" y2="175.55" stroke="#333" stroke-width="0.7"/>
<text x="35.30" y="181.58" font-size="3.0" fill="#5a5a5a" text-anchor="end">Pyrc1mb</text>
<line x1="35.50" y1="180.53" x2="37.90" y2="180.53" stroke="#333" stroke-width="0.7"/>
<text x="35.30" y="186.56" font-size="3.0" fill="#5a5a5a" text-anchor="end">Syn3</text>
<line x1="35.50" y1="185.51" x2="37.90" y2="185.51" stroke="#333" stroke-width="0.7"/>
<text x="35.30" y="191.53" font-size="3.0" fill="#5a5a5a" text-anchor="end">Olfml3</text>
<line x1="35.50" y1="190.48" x2="37.90" y2="190.48" stroke="#333" stroke-width="0.7"/>
<text x="35.30" y="196.51" font-size="3.0" fill="#5a5a5a" text-anchor="end">Cma1</text>
<line x1="35.50" y1="195.46" x2="37.90" y2="195.46" stroke="#333" stroke-width="0.7"/>
<text x="35.30" y="201.49" font-size="3.0" fill="#5a5a5a" text-anchor="end">Cxcl1</text>
<line x1="35.50" y1="200.44" x2="37.90" y2="200.44" stroke="#333" stroke-width="0.7"/>
<text x="35.30" y="206.47" font-size="3.0" fill="#5a5a5a" text-anchor="end">Cpn1</text>
<line x1="35.50" y1="205.42" x2="37.90" y2="205.42" stroke="#333" stroke-width="0.7"/>
<text x="35.30" y="211.45" font-size="3.0" fill="#5a5a5a" text-anchor="end">Cyp2c8</text>
<line x1="35.50" y1="210.40" x2="37.90" y2="210.40" stroke="#333" stroke-width="0.7"/>
<text x="35.30" y="216.43" font-size="3.0" fill="#5a5a5a" text-anchor="end">Irak3</text>
<line x1="35.50" y1="215.38" x2="37.90" y2="215.38" stroke="#333" stroke-width="0.7"/>
<text x="35.30" y="221.41" font-size="3.0" fill="#5a5a5a" text-anchor="end">Cpn1</text>
<line x1="35.50" y1="220.36" x2="37.90" y2="220.36" stroke="#333" stroke-width="0.7"/>
<line x1="39.78" y1="221.60" x2="39.78" y2="223.20" stroke="#333" stroke-width="0.6"/>
<text font-size="3.4" fill="#444" font-style="italic" text-anchor="end" transform="translate(41.38,225.00) rotate(-40)">A1</text>
<line x1="43.55" y1="221.60" x2="43.55" y2="223.20" stroke="#333" stroke-width="0.6"/>
<text font-size="3.4" fill="#444" font-style="italic" text-anchor="end" transform="translate(45.15,225.00) rotate(-40)">A2</text>
<line x1="47.32" y1="221.60" x2="47.32" y2="223.20" stroke="#333" stroke-width="0.6"/>
<text font-size="3.4" fill="#444" font-style="italic" text-anchor="end" transform="translate(48.92,225.00) rotate(-40)">E3</text>
<line x1="51.08" y1="221.60" x2="51.08" y2="223.20" stroke="#333" stroke-width="0.6"/>
<text font-size="3.4" fill="#444" font-style="italic" text-anchor="end" transform="translate(52.68,225.00) rotate(-40)">X3</text>
<line x1="54.85" y1="221.60" x2="54.85" y2="223.20" stroke="#333" stroke-width="0.6"/>
<text font-size="3.4" fill="#444" font-style="italic" text-anchor="end" transform="translate(56.45,225.00) rotate(-40)">X2</text>
<line x1="58.62" y1="221.60" x2="58.62" y2="223.20" stroke="#333" stroke-width="0.6"/>
<text font-size="3.4" fill="#444" font-style="italic" text-anchor="end" transform="translate(60.22,225.00) rotate(-40)">V1</text>
<defs><linearGradient id="cba" x1="0" y1="0" x2="0" y2="1"><stop offset="0" stop-color="#ff1a00"/><stop offset="0.29" stop-color="#ffffff"/><stop offset="1" stop-color="#1a2de0"/></linearGradient><linearGradient id="cbc" x1="0" y1="0" x2="0" y2="1"><stop offset="0" stop-color="#ff1a00"/><stop offset="0.455" stop-color="#ffffff"/><stop offset="1" stop-color="#1a2de0"/></linearGradient></defs>
<rect x="65.60" y="12.30" width="5.80" height="209.30" fill="url(#cba)" stroke="#888" stroke-width="0.8"/>
<text x="72.60" y="18.80" font-size="6.3" fill="#222">2</text>
<circle cx="66.4" cy="16.60" r="0.35" fill="#333"/><circle cx="70.6" cy="16.60" r="0.35" fill="#333"/>
<text x="72.60" y="75.95" font-size="6.3" fill="#222">0</text>
<circle cx="66.4" cy="73.75" r="0.35" fill="#333"/><circle cx="70.6" cy="73.75" r="0.35" fill="#333"/>
<text x="72.60" y="132.80" font-size="6.3" fill="#222">-2</text>
<circle cx="66.4" cy="130.60" r="0.35" fill="#333"/><circle cx="70.6" cy="130.60" r="0.35" fill="#333"/>
<text x="72.60" y="189.70" font-size="6.3" fill="#222">-4</text>
<circle cx="66.4" cy="187.50" r="0.35" fill="#333"/><circle cx="70.6" cy="187.50" r="0.35" fill="#333"/>
<text x="80.80" y="16.60" font-size="5.6" fill="#222">logFC</text>
<defs><linearGradient id="hcr" x1="0" y1="0" x2="0" y2="1"><stop offset="0" stop-color="#ff5a4c"/><stop offset="0.1" stop-color="#ff8a86"/><stop offset="0.35" stop-color="#ffaaaa"/><stop offset="0.65" stop-color="#ffc3c3"/><stop offset="1" stop-color="#ffd6d6"/></linearGradient><linearGradient id="hcb" x1="0" y1="0" x2="0" y2="1"><stop offset="0" stop-color="#dedef9"/><stop offset="0.4" stop-color="#d2d2f6"/><stop offset="0.7" stop-color="#bcbcf3"/><stop offset="0.92" stop-color="#a4a6ef"/><stop offset="1" stop-color="#9a9cee"/></linearGradient></defs>
<rect x="34.20" y="268.50" width="22.50" height="114.10" fill="url(#hcr)"/>
<rect x="34.20" y="268.50" width="22.50" height="3.20" fill="#ff2c14"/>
<rect x="34.20" y="382.60" width="22.50" height="92.30" fill="url(#hcb)"/>
<rect x="34.20" y="474.90" width="22.50" height="3.00" fill="#1f33df"/>
<rect x="34.20" y="268.50" width="22.50" height="209.40" fill="none" stroke="#3a3a3a" stroke-width="0.9"/>
<text x="31.90" y="271.23" font-size="3.0" fill="#5a5a5a" text-anchor="end">Sprr1a</text>
<line x1="32.20" y1="270.18" x2="34.20" y2="270.18" stroke="#333" stroke-width="0.7"/>
<text x="31.90" y="275.88" font-size="3.0" fill="#5a5a5a" text-anchor="end">Serpina3n</text>
<line x1="32.20" y1="274.83" x2="34.20" y2="274.83" stroke="#333" stroke-width="0.7"/>
<text x="31.90" y="280.53" font-size="3.0" fill="#5a5a5a" text-anchor="end">Rbp1</text>
<line x1="32.20" y1="279.48" x2="34.20" y2="279.48" stroke="#333" stroke-width="0.7"/>
<text x="31.90" y="285.19" font-size="3.0" fill="#5a5a5a" text-anchor="end">Mmp17</text>
<line x1="32.20" y1="284.14" x2="34.20" y2="284.14" stroke="#333" stroke-width="0.7"/>
<text x="31.90" y="289.84" font-size="3.0" fill="#5a5a5a" text-anchor="end">Gm693</text>
<line x1="32.20" y1="288.79" x2="34.20" y2="288.79" stroke="#333" stroke-width="0.7"/>
<text x="31.90" y="294.49" font-size="3.0" fill="#5a5a5a" text-anchor="end">Mxd4-4</text>
<line x1="32.20" y1="293.44" x2="34.20" y2="293.44" stroke="#333" stroke-width="0.7"/>
<text x="31.90" y="299.15" font-size="3.0" fill="#5a5a5a" text-anchor="end">Pnlip3</text>
<line x1="32.20" y1="298.10" x2="34.20" y2="298.10" stroke="#333" stroke-width="0.7"/>
<text x="31.90" y="303.80" font-size="3.0" fill="#5a5a5a" text-anchor="end">Tacr1</text>
<line x1="32.20" y1="302.75" x2="34.20" y2="302.75" stroke="#333" stroke-width="0.7"/>
<text x="31.90" y="308.45" font-size="3.0" fill="#5a5a5a" text-anchor="end">Cnga4</text>
<line x1="32.20" y1="307.40" x2="34.20" y2="307.40" stroke="#333" stroke-width="0.7"/>
<text x="31.90" y="313.11" font-size="3.0" fill="#5a5a5a" text-anchor="end">Cd44</text>
<line x1="32.20" y1="312.06" x2="34.20" y2="312.06" stroke="#333" stroke-width="0.7"/>
<text x="31.90" y="317.76" font-size="3.0" fill="#5a5a5a" text-anchor="end">Hspa8l</text>
<line x1="32.20" y1="316.71" x2="34.20" y2="316.71" stroke="#333" stroke-width="0.7"/>
<text x="31.90" y="322.41" font-size="3.0" fill="#5a5a5a" text-anchor="end">Adat1</text>
<line x1="32.20" y1="321.36" x2="34.20" y2="321.36" stroke="#333" stroke-width="0.7"/>
<text x="31.90" y="327.07" font-size="3.0" fill="#5a5a5a" text-anchor="end">Sox2</text>
<line x1="32.20" y1="326.02" x2="34.20" y2="326.02" stroke="#333" stroke-width="0.7"/>
<text x="31.90" y="331.72" font-size="3.0" fill="#5a5a5a" text-anchor="end">Olr</text>
<line x1="32.20" y1="330.67" x2="34.20" y2="330.67" stroke="#333" stroke-width="0.7"/>
<text x="31.90" y="336.37" font-size="3.0" fill="#5a5a5a" text-anchor="end">Prr13</text>
<line x1="32.20" y1="335.32" x2="34.20" y2="335.32" stroke="#333" stroke-width="0.7"/>
<text x="31.90" y="341.03" font-size="3.0" fill="#5a5a5a" text-anchor="end">Adgal</text>
<line x1="32.20" y1="339.98" x2="34.20" y2="339.98" stroke="#333" stroke-width="0.7"/>
<text x="31.90" y="345.68" font-size="3.0" fill="#5a5a5a" text-anchor="end">Aqp4</text>
<line x1="32.20" y1="344.63" x2="34.20" y2="344.63" stroke="#333" stroke-width="0.7"/>
<text x="31.90" y="350.33" font-size="3.0" fill="#5a5a5a" text-anchor="end">Rlwd</text>
<line x1="32.20" y1="349.28" x2="34.20" y2="349.28" stroke="#333" stroke-width="0.7"/>
<text x="31.90" y="354.99" font-size="3.0" fill="#5a5a5a" text-anchor="end">Ia5</text>
<line x1="32.20" y1="353.94" x2="34.20" y2="353.94" stroke="#333" stroke-width="0.7"/>
<text x="31.90" y="359.64" font-size="3.0" fill="#5a5a5a" text-anchor="end">Rfto1</text>
<line x1="32.20" y1="358.59" x2="34.20" y2="358.59" stroke="#333" stroke-width="0.7"/>
<text x="31.90" y="364.29" font-size="3.0" fill="#5a5a5a" text-anchor="end">Cxxl2a2</text>
<line x1="32.20" y1="363.24" x2="34.20" y2="363.24" stroke="#333" stroke-width="0.7"/>
<text x="31.90" y="368.95" font-size="3.0" fill="#5a5a5a" text-anchor="end">Cwin</text>
<line x1="32.20" y1="367.90" x2="34.20" y2="367.90" stroke="#333" stroke-width="0.7"/>
<text x="31.90" y="373.60" font-size="3.0" fill="#5a5a5a" text-anchor="end">Rx5</text>
<line x1="32.20" y1="372.55" x2="34.20" y2="372.55" stroke="#333" stroke-width="0.7"/>
<text x="31.90" y="378.25" font-size="3.0" fill="#5a5a5a" text-anchor="end">Vegfl11</text>
<line x1="32.20" y1="377.20" x2="34.20" y2="377.20" stroke="#333" stroke-width="0.7"/>
<text x="31.90" y="382.91" font-size="3.0" fill="#5a5a5a" text-anchor="end">Lit1</text>
<line x1="32.20" y1="381.86" x2="34.20" y2="381.86" stroke="#333" stroke-width="0.7"/>
<text x="31.90" y="387.56" font-size="3.0" fill="#5a5a5a" text-anchor="end">Mta1</text>
<line x1="32.20" y1="386.51" x2="34.20" y2="386.51" stroke="#333" stroke-width="0.7"/>
<text x="31.90" y="392.21" font-size="3.0" fill="#5a5a5a" text-anchor="end">Hlgf</text>
<line x1="32.20" y1="391.16" x2="34.20" y2="391.16" stroke="#333" stroke-width="0.7"/>
<text x="31.90" y="396.87" font-size="3.0" fill="#5a5a5a" text-anchor="end">Pll1</text>
<line x1="32.20" y1="395.82" x2="34.20" y2="395.82" stroke="#333" stroke-width="0.7"/>
<text x="31.90" y="401.52" font-size="3.0" fill="#5a5a5a" text-anchor="end">Trv</text>
<line x1="32.20" y1="400.47" x2="34.20" y2="400.47" stroke="#333" stroke-width="0.7"/>
<text x="31.90" y="406.17" font-size="3.0" fill="#5a5a5a" text-anchor="end">Necc</text>
<line x1="32.20" y1="405.12" x2="34.20" y2="405.12" stroke="#333" stroke-width="0.7"/>
<text x="31.90" y="410.83" font-size="3.0" fill="#5a5a5a" text-anchor="end">Pcbd</text>
<line x1="32.20" y1="409.78" x2="34.20" y2="409.78" stroke="#333" stroke-width="0.7"/>
<text x="31.90" y="415.48" font-size="3.0" fill="#5a5a5a" text-anchor="end">St7ita4</text>
<line x1="32.20" y1="414.43" x2="34.20" y2="414.43" stroke="#333" stroke-width="0.7"/>
<text x="31.90" y="420.13" font-size="3.0" fill="#5a5a5a" text-anchor="end">Nkr1</text>
<line x1="32.20" y1="419.08" x2="34.20" y2="419.08" stroke="#333" stroke-width="0.7"/>
<text x="31.90" y="424.79" font-size="3.0" fill="#5a5a5a" text-anchor="end">Cltnsb</text>
<line x1="32.20" y1="423.74" x2="34.20" y2="423.74" stroke="#333" stroke-width="0.7"/>
<text x="31.90" y="429.44" font-size="3.0" fill="#5a5a5a" text-anchor="end">Erll</text>
<line x1="32.20" y1="428.39" x2="34.20" y2="428.39" stroke="#333" stroke-width="0.7"/>
<text x="31.90" y="434.09" font-size="3.0" fill="#5a5a5a" text-anchor="end">Gm7698</text>
<line x1="32.20" y1="433.04" x2="34.20" y2="433.04" stroke="#333" stroke-width="0.7"/>
<text x="31.90" y="438.75" font-size="3.0" fill="#5a5a5a" text-anchor="end">Abcb1a</text>
<line x1="32.20" y1="437.70" x2="34.20" y2="437.70" stroke="#333" stroke-width="0.7"/>
<text x="31.90" y="443.40" font-size="3.0" fill="#5a5a5a" text-anchor="end">Slc6a2</text>
<line x1="32.20" y1="442.35" x2="34.20" y2="442.35" stroke="#333" stroke-width="0.7"/>
<text x="31.90" y="448.05" font-size="3.0" fill="#5a5a5a" text-anchor="end">Mt3fd</text>
<line x1="32.20" y1="447.00" x2="34.20" y2="447.00" stroke="#333" stroke-width="0.7"/>
<text x="31.90" y="452.71" font-size="3.0" fill="#5a5a5a" text-anchor="end">Sos1l1</text>
<line x1="32.20" y1="451.66" x2="34.20" y2="451.66" stroke="#333" stroke-width="0.7"/>
<text x="31.90" y="457.36" font-size="3.0" fill="#5a5a5a" text-anchor="end">Pepts</text>
<line x1="32.20" y1="456.31" x2="34.20" y2="456.31" stroke="#333" stroke-width="0.7"/>
<text x="31.90" y="462.01" font-size="3.0" fill="#5a5a5a" text-anchor="end">Sc3fa4</text>
<line x1="32.20" y1="460.96" x2="34.20" y2="460.96" stroke="#333" stroke-width="0.7"/>
<text x="31.90" y="466.67" font-size="3.0" fill="#5a5a5a" text-anchor="end">Serpa2g</text>
<line x1="32.20" y1="465.62" x2="34.20" y2="465.62" stroke="#333" stroke-width="0.7"/>
<text x="31.90" y="471.32" font-size="3.0" fill="#5a5a5a" text-anchor="end">C230018E</text>
<line x1="32.20" y1="470.27" x2="34.20" y2="470.27" stroke="#333" stroke-width="0.7"/>
<text x="31.90" y="475.97" font-size="3.0" fill="#5a5a5a" text-anchor="end">Ccdc170</text>
<line x1="32.20" y1="474.92" x2="34.20" y2="474.92" stroke="#333" stroke-width="0.7"/>
<rect x="61.40" y="268.50" width="5.90" height="209.40" fill="url(#cbc)" stroke="#888" stroke-width="0.8"/>
<text x="68.30" y="276.40" font-size="6.3" fill="#222">3</text>
<circle cx="62.2" cy="274.20" r="0.35" fill="#333"/><circle cx="66.5" cy="274.20" r="0.35" fill="#333"/>
<text x="68.30" y="306.60" font-size="6.3" fill="#222">2</text>
<circle cx="62.2" cy="304.40" r="0.35" fill="#333"/><circle cx="66.5" cy="304.40" r="0.35" fill="#333"/>
<text x="68.30" y="336.20" font-size="6.3" fill="#222">1</text>
<circle cx="62.2" cy="334.00" r="0.35" fill="#333"/><circle cx="66.5" cy="334.00" r="0.35" fill="#333"/>
<text x="68.30" y="365.80" font-size="6.3" fill="#222">0</text>
<circle cx="62.2" cy="363.60" r="0.35" fill="#333"/><circle cx="66.5" cy="363.60" r="0.35" fill="#333"/>
<text x="68.30" y="395.30" font-size="6.3" fill="#222">-1</text>
<circle cx="62.2" cy="393.10" r="0.35" fill="#333"/><circle cx="66.5" cy="393.10" r="0.35" fill="#333"/>
<text x="68.30" y="424.60" font-size="6.3" fill="#222">-2</text>
<circle cx="62.2" cy="422.40" r="0.35" fill="#333"/><circle cx="66.5" cy="422.40" r="0.35" fill="#333"/>
<text x="68.30" y="453.90" font-size="6.3" fill="#222">-3</text>
<circle cx="62.2" cy="451.70" r="0.35" fill="#333"/><circle cx="66.5" cy="451.70" r="0.35" fill="#333"/>
<text x="73.10" y="273.40" font-size="5.6" fill="#222">logFC</text>
<line x1="151.80" y1="30.00" x2="151.80" y2="190.50" stroke="#c8c8c8" stroke-width="0.7"/>
<line x1="111.50" y1="30.00" x2="111.50" y2="190.50" stroke="#555" stroke-width="0.9"/>
<line x1="111.50" y1="190.50" x2="191.40" y2="190.50" stroke="#555" stroke-width="0.9"/>
<line x1="111.70" y1="190.50" x2="111.70" y2="192.60" stroke="#444" stroke-width="0.9"/>
<text font-size="7.0" fill="#111" stroke="#111" stroke-width="0.18" text-anchor="end" transform="translate(113.60,200.80) rotate(-45)">-150</text>
<line x1="125.00" y1="190.50" x2="125.00" y2="192.60" stroke="#444" stroke-width="0.9"/>
<text font-size="7.0" fill="#111" stroke="#111" stroke-width="0.18" text-anchor="end" transform="translate(126.90,200.80) rotate(-45)">-100</text>
<line x1="138.40" y1="190.50" x2="138.40" y2="192.60" stroke="#444" stroke-width="0.9"/>
<text font-size="7.0" fill="#111" stroke="#111" stroke-width="0.18" text-anchor="end" transform="translate(140.30,200.80) rotate(-45)">-50</text>
<line x1="151.80" y1="190.50" x2="151.80" y2="192.60" stroke="#444" stroke-width="0.9"/>
<text font-size="7.0" fill="#111" stroke="#111" stroke-width="0.18" text-anchor="end" transform="translate(153.70,200.80) rotate(-45)">0</text>
<line x1="165.00" y1="190.50" x2="165.00" y2="192.60" stroke="#444" stroke-width="0.9"/>
<text font-size="7.0" fill="#111" stroke="#111" stroke-width="0.18" text-anchor="end" transform="translate(166.90,200.80) rotate(-45)">50</text>
<line x1="178.20" y1="190.50" x2="178.20" y2="192.60" stroke="#444" stroke-width="0.9"/>
<text font-size="7.0" fill="#111" stroke="#111" stroke-width="0.18" text-anchor="end" transform="translate(180.10,200.80) rotate(-45)">100</text>
<line x1="191.40" y1="190.50" x2="191.40" y2="192.60" stroke="#444" stroke-width="0.9"/>
<text font-size="7.0" fill="#111" stroke="#111" stroke-width="0.18" text-anchor="end" transform="translate(193.30,200.80) rotate(-45)">150</text>
<text x="107.80" y="216.50" font-size="7.15" fill="#111" stroke="#111" stroke-width="0.12">CMap TubA Similarity Score</text>
<text font-size="7.15" fill="#222" text-anchor="middle" transform="translate(104.80,112.90) rotate(-90)">Perturbagens (genes &amp; compounds)</text>
<path d="M125.70,30.30 C126.33,30.52 128.15,31.02 129.50,31.60 C130.85,32.18 132.50,32.97 133.80,33.80 C135.10,34.63 136.25,35.57 137.30,36.60 C138.35,37.63 139.17,38.83 140.10,40.00 C141.03,41.17 142.07,42.33 142.90,43.60 C143.73,44.87 144.43,46.12 145.10,47.60 C145.77,49.08 146.33,50.77 146.90,52.50 C147.47,54.23 148.00,55.80 148.50,58.00 C149.00,60.20 149.48,62.68 149.90,65.70 C150.32,68.72 150.73,72.63 151.00,76.10 C151.27,79.57 151.38,83.02 151.50,86.50 C151.62,89.98 151.69,91.42 151.75,97.00 C151.81,102.58 151.82,111.17 151.85,120.00 C151.88,128.83 151.86,143.32 151.90,150.00 C151.94,156.68 152.00,156.98 152.10,160.10 C152.20,163.22 152.15,166.12 152.50,168.70 C152.85,171.28 153.43,173.58 154.20,175.60 C154.97,177.62 155.95,179.27 157.10,180.80 C158.25,182.33 159.67,183.65 161.10,184.80 C162.53,185.95 163.98,186.88 165.70,187.70 C167.42,188.52 169.68,189.27 171.40,189.70 C173.12,190.13 174.90,190.18 176.00,190.30 C177.10,190.42 177.67,190.38 178.00,190.40" fill="none" stroke="#b0392b" stroke-width="0.9"/>
<rect x="122.30" y="28.10" width="6.50" height="4.40" fill="none" stroke="#444" stroke-width="0.6" rx="1"/>
<rect x="172.50" y="187.60" width="5.70" height="4.40" fill="none" stroke="#444" stroke-width="0.6" rx="1"/>
<line x1="155.30" y1="289.20" x2="155.30" y2="451.50" stroke="#c8c8c8" stroke-width="0.7"/>
<line x1="114.50" y1="289.20" x2="114.50" y2="451.50" stroke="#555" stroke-width="0.9"/>
<line x1="114.50" y1="451.50" x2="195.80" y2="451.50" stroke="#555" stroke-width="0.9"/>
<line x1="114.70" y1="451.50" x2="114.70" y2="453.60" stroke="#444" stroke-width="0.9"/>
<text font-size="7.0" fill="#111" stroke="#111" stroke-width="0.18" text-anchor="end" transform="translate(116.60,461.80) rotate(-45)">-150</text>
<line x1="128.30" y1="451.50" x2="128.30" y2="453.60" stroke="#444" stroke-width="0.9"/>
<text font-size="7.0" fill="#111" stroke="#111" stroke-width="0.18" text-anchor="end" transform="translate(130.20,461.80) rotate(-45)">-100</text>
<line x1="141.80" y1="451.50" x2="141.80" y2="453.60" stroke="#444" stroke-width="0.9"/>
<text font-size="7.0" fill="#111" stroke="#111" stroke-width="0.18" text-anchor="end" transform="translate(143.70,461.80) rotate(-45)">-50</text>
<line x1="155.30" y1="451.50" x2="155.30" y2="453.60" stroke="#444" stroke-width="0.9"/>
<text font-size="7.0" fill="#111" stroke="#111" stroke-width="0.18" text-anchor="end" transform="translate(157.20,461.80) rotate(-45)">0</text>
<line x1="168.80" y1="451.50" x2="168.80" y2="453.60" stroke="#444" stroke-width="0.9"/>
<text font-size="7.0" fill="#111" stroke="#111" stroke-width="0.18" text-anchor="end" transform="translate(170.70,461.80) rotate(-45)">50</text>
<line x1="182.30" y1="451.50" x2="182.30" y2="453.60" stroke="#444" stroke-width="0.9"/>
<text font-size="7.0" fill="#111" stroke="#111" stroke-width="0.18" text-anchor="end" transform="translate(184.20,461.80) rotate(-45)">100</text>
<line x1="195.80" y1="451.50" x2="195.80" y2="453.60" stroke="#444" stroke-width="0.9"/>
<text font-size="7.0" fill="#111" stroke="#111" stroke-width="0.18" text-anchor="end" transform="translate(197.70,461.80) rotate(-45)">150</text>
<text x="108.90" y="476.80" font-size="7.15" fill="#111" stroke="#111" stroke-width="0.12">CMap Leptin Similarity Score</text>
<text font-size="7.15" fill="#222" text-anchor="middle" transform="translate(108.40,372.60) rotate(-90)">Perturbagens (genes &amp; compounds)</text>
<path d="M129.20,289.20 C129.83,289.38 131.62,289.85 133.00,290.30 C134.38,290.75 136.08,291.28 137.50,291.90 C138.92,292.52 140.25,293.20 141.50,294.00 C142.75,294.80 143.83,295.65 145.00,296.70 C146.17,297.75 147.37,298.92 148.50,300.30 C149.63,301.68 150.98,303.38 151.80,305.00 C152.62,306.62 152.98,308.03 153.40,310.00 C153.82,311.97 154.08,314.57 154.30,316.80 C154.53,319.03 154.65,320.37 154.75,323.40 C154.85,326.43 154.86,328.90 154.90,335.00 C154.94,341.10 154.98,350.00 155.00,360.00 C155.02,370.00 154.98,387.50 155.00,395.00 C155.02,402.50 155.05,402.17 155.10,405.00 C155.15,407.83 155.18,409.75 155.30,412.00 C155.42,414.25 155.53,416.10 155.80,418.50 C156.07,420.90 156.33,423.93 156.90,426.40 C157.47,428.87 158.25,431.18 159.20,433.30 C160.15,435.42 161.27,437.27 162.60,439.10 C163.93,440.93 165.47,442.77 167.20,444.30 C168.93,445.83 171.08,447.25 173.00,448.30 C174.92,449.35 177.17,450.10 178.70,450.60 C180.23,451.10 181.62,451.18 182.20,451.30" fill="none" stroke="#b0392b" stroke-width="0.9"/>
<rect x="125.60" y="286.70" width="6.10" height="5.00" fill="none" stroke="#444" stroke-width="0.6" rx="1"/>
<rect x="176.10" y="448.00" width="6.70" height="4.40" fill="none" stroke="#444" stroke-width="0.6" rx="1"/>
<line x1="128.60" y1="28.30" x2="200.70" y2="29.30" stroke="#222" stroke-width="0.8" stroke-dasharray="2.3,1"/>
<line x1="178.20" y1="191.20" x2="200.70" y2="189.60" stroke="#222" stroke-width="0.8" stroke-dasharray="2.3,1"/>
<rect x="200.10" y="16.40" width="79.50" height="12.30" fill="#d2d2d2"/>
<text x="240.65" y="25.20" font-size="7.15" fill="#4a4a4a" text-anchor="middle">Positive associations</text>
<rect x="200.70" y="29.30" width="79.10" height="160.30" fill="#fff"/>
<rect x="201.10" y="29.90" width="78.30" height="9.60" fill="#f1f1f1"/>
<line x1="201.10" y1="39.50" x2="279.40" y2="39.50" stroke="#d8d8d8" stroke-width="0.6"/>
<text transform="translate(202.50,36.90) scale(0.92,1)" font-size="5.8" fill="#2a2a2a">Score</text>
<path d="M218.70,34.40 h3.0 l-1.5,1.9z" fill="#333"/>
<text transform="translate(223.90,36.90) scale(0.92,1)" font-size="5.8" fill="#2a2a2a">Type</text>
<text transform="translate(239.10,36.90) scale(0.92,1)" font-size="5.8" fill="#2a2a2a">Name</text>
<rect x="200.70" y="29.30" width="79.10" height="160.30" fill="none" stroke="#1a1a1a" stroke-width="0.8" stroke-dasharray="2.3,1"/>
<text transform="translate(202.50,48.15) scale(0.92,1)" font-size="5.95" fill="#1e1e1e">98.39</text>
<circle cx="231.40" cy="46.00" r="2.2" fill="#b23ac4"/><rect x="230.50" y="45.65" width="1.8" height="0.7" fill="#fff" fill-opacity="0.8"/>
<text transform="translate(239.10,48.15) scale(0.92,1)" font-size="5.95" fill="#1e1e1e">RNF7</text>
<text transform="translate(202.50,55.55) scale(0.92,1)" font-size="5.95" fill="#1e1e1e">95.80</text>
<circle cx="231.40" cy="53.40" r="2.2" fill="#b23ac4"/><rect x="230.50" y="53.05" width="1.8" height="0.7" fill="#fff" fill-opacity="0.8"/>
<text transform="translate(239.10,55.55) scale(0.92,1)" font-size="5.95" fill="#1e1e1e">PAX8</text>
<text transform="translate(202.50,62.95) scale(0.92,1)" font-size="5.95" fill="#1e1e1e">95.52</text>
<circle cx="231.40" cy="60.80" r="2.2" fill="#b23ac4"/><rect x="230.50" y="60.45" width="1.8" height="0.7" fill="#fff" fill-opacity="0.8"/>
<text transform="translate(239.10,62.95) scale(0.92,1)" font-size="5.95" fill="#1e1e1e">DPH2</text>
<text transform="translate(202.50,70.35) scale(0.92,1)" font-size="5.95" fill="#1e1e1e">95.47</text>
<circle cx="231.40" cy="68.20" r="2.2" fill="#b23ac4"/><rect x="230.50" y="67.85" width="1.8" height="0.7" fill="#fff" fill-opacity="0.8"/>
<text transform="translate(239.10,70.35) scale(0.92,1)" font-size="5.95" fill="#1e1e1e">CHAC1</text>
<text transform="translate(202.50,77.75) scale(0.92,1)" font-size="5.95" fill="#1e1e1e">94.47</text>
<circle cx="231.40" cy="75.60" r="2.2" fill="#f2a033"/><path d="M231.40,74.40 A1.2,1.2 0 0 0 231.40,76.80 Z" fill="#fff"/>
<text transform="translate(239.10,77.75) scale(0.92,1)" font-size="5.95" fill="#1e1e1e">pazufloxacin</text>
<text transform="translate(202.50,85.15) scale(0.92,1)" font-size="5.95" fill="#1e1e1e">94.37</text>
<circle cx="231.40" cy="83.00" r="2.2" fill="#2f9fe3"/><ellipse cx="231.40" cy="83.00" rx="0.6" ry="0.9" fill="#fff"/>
<text transform="translate(239.10,85.15) scale(0.92,1)" font-size="5.95" fill="#1e1e1e">IL1B</text>
<text transform="translate(202.50,92.55) scale(0.92,1)" font-size="5.95" fill="#1e1e1e">94.26</text>
<circle cx="231.40" cy="90.40" r="2.2" fill="#b23ac4"/><rect x="230.50" y="90.05" width="1.8" height="0.7" fill="#fff" fill-opacity="0.8"/>
<text transform="translate(239.10,92.55) scale(0.92,1)" font-size="5.95" fill="#1e1e1e">EML3</text>
<text transform="translate(202.50,99.95) scale(0.92,1)" font-size="5.95" fill="#1e1e1e">94.15</text>
<circle cx="231.40" cy="97.80" r="2.2" fill="#b23ac4"/><rect x="230.50" y="97.45" width="1.8" height="0.7" fill="#fff" fill-opacity="0.8"/>
<text transform="translate(239.10,99.95) scale(0.92,1)" font-size="5.95" fill="#1e1e1e">EPCAM</text>
<text transform="translate(202.50,107.35) scale(0.92,1)" font-size="5.95" fill="#1e1e1e">93.83</text>
<circle cx="231.40" cy="105.20" r="2.2" fill="#b23ac4"/><rect x="230.50" y="104.85" width="1.8" height="0.7" fill="#fff" fill-opacity="0.8"/>
<text transform="translate(239.10,107.35) scale(0.92,1)" font-size="5.95" fill="#1e1e1e">RRP12</text>
<text transform="translate(202.50,114.75) scale(0.92,1)" font-size="5.95" fill="#1e1e1e">93.42</text>
<circle cx="231.40" cy="112.60" r="2.2" fill="#b23ac4"/><rect x="230.50" y="112.25" width="1.8" height="0.7" fill="#fff" fill-opacity="0.8"/>
<text transform="translate(239.10,114.75) scale(0.92,1)" font-size="5.95" fill="#1e1e1e">CNOT4</text>
<text transform="translate(202.50,122.15) scale(0.92,1)" font-size="5.95" fill="#1e1e1e">93.05</text>
<circle cx="231.40" cy="120.00" r="2.2" fill="#b23ac4"/><rect x="230.50" y="119.65" width="1.8" height="0.7" fill="#fff" fill-opacity="0.8"/>
<text transform="translate(239.10,122.15) scale(0.92,1)" font-size="5.95" fill="#1e1e1e">ADCY3</text>
<text transform="translate(202.50,129.55) scale(0.92,1)" font-size="5.95" fill="#1e1e1e">92.98</text>
<circle cx="231.40" cy="127.40" r="2.2" fill="#f2a033"/><path d="M231.40,126.20 A1.2,1.2 0 0 0 231.40,128.60 Z" fill="#fff"/>
<text transform="translate(239.10,129.55) scale(0.92,1)" font-size="5.95" fill="#1e1e1e">NSC-94258</text>
<text transform="translate(202.50,136.95) scale(0.92,1)" font-size="5.95" fill="#1e1e1e">92.48</text>
<circle cx="231.40" cy="134.80" r="2.2" fill="#b23ac4"/><rect x="230.50" y="134.45" width="1.8" height="0.7" fill="#fff" fill-opacity="0.8"/>
<text transform="translate(239.10,136.95) scale(0.92,1)" font-size="5.95" fill="#1e1e1e">XPO7</text>
<text transform="translate(202.50,144.35) scale(0.92,1)" font-size="5.95" fill="#1e1e1e">92.15</text>
<circle cx="231.40" cy="142.20" r="2.2" fill="#b23ac4"/><rect x="230.50" y="141.85" width="1.8" height="0.7" fill="#fff" fill-opacity="0.8"/>
<text transform="translate(239.10,144.35) scale(0.92,1)" font-size="5.95" fill="#1e1e1e">AP4S1</text>
<text transform="translate(202.50,151.75) scale(0.92,1)" font-size="5.95" fill="#1e1e1e">91.27</text>
<circle cx="231.40" cy="149.60" r="2.2" fill="#b23ac4"/><rect x="230.50" y="149.25" width="1.8" height="0.7" fill="#fff" fill-opacity="0.8"/>
<text transform="translate(239.10,151.75) scale(0.92,1)" font-size="5.95" fill="#1e1e1e">NSA2</text>
<text transform="translate(202.50,159.15) scale(0.92,1)" font-size="5.95" fill="#1e1e1e">91.16</text>
<circle cx="231.40" cy="157.00" r="2.2" fill="#b23ac4"/><rect x="230.50" y="156.65" width="1.8" height="0.7" fill="#fff" fill-opacity="0.8"/>
<text transform="translate(239.10,159.15) scale(0.92,1)" font-size="5.95" fill="#1e1e1e">SACM1L</text>
<text transform="translate(202.50,166.55) scale(0.92,1)" font-size="5.95" fill="#1e1e1e">90.95</text>
<circle cx="231.40" cy="164.40" r="2.2" fill="#b23ac4"/><rect x="230.50" y="164.05" width="1.8" height="0.7" fill="#fff" fill-opacity="0.8"/>
<text transform="translate(239.10,166.55) scale(0.92,1)" font-size="5.95" fill="#1e1e1e">ABCG2</text>
<text transform="translate(202.50,173.95) scale(0.92,1)" font-size="5.95" fill="#1e1e1e">90.55</text>
<circle cx="231.40" cy="171.80" r="2.2" fill="#b23ac4"/><rect x="230.50" y="171.45" width="1.8" height="0.7" fill="#fff" fill-opacity="0.8"/>
<text transform="translate(239.10,173.95) scale(0.92,1)" font-size="5.95" fill="#1e1e1e">DAG1</text>
<text transform="translate(202.50,181.35) scale(0.92,1)" font-size="5.95" fill="#1e1e1e">90.08</text>
<circle cx="231.40" cy="179.20" r="2.2" fill="#2f9fe3"/><ellipse cx="231.40" cy="179.20" rx="0.6" ry="0.9" fill="#fff"/>
<text transform="translate(239.10,181.35) scale(0.92,1)" font-size="5.95" fill="#1e1e1e">PHF11</text>
<text transform="translate(202.50,188.75) scale(0.92,1)" font-size="5.95" fill="#1e1e1e">89.15</text>
<circle cx="231.40" cy="186.60" r="2.2" fill="#f2a033"/><path d="M231.40,185.40 A1.2,1.2 0 0 0 231.40,187.80 Z" fill="#fff"/>
<text transform="translate(239.10,188.75) scale(0.92,1)" font-size="5.95" fill="#1e1e1e">kinetin-riboside</text>
<rect x="284.00" y="16.60" width="83.80" height="12.10" fill="#d2d2d2"/>
<text x="326.70" y="25.40" font-size="7.15" fill="#4a4a4a" text-anchor="middle">Negative associations</text>
<rect x="284.60" y="29.30" width="83.40" height="160.30" fill="#fff"/>
<rect x="285.00" y="29.90" width="82.60" height="9.60" fill="#f1f1f1"/>
<line x1="285.00" y1="39.50" x2="367.60" y2="39.50" stroke="#d8d8d8" stroke-width="0.6"/>
<text transform="translate(286.00,36.90) scale(0.92,1)" font-size="5.8" fill="#2a2a2a">Score</text>
<path d="M302.60,36.30 h3.0 l-1.5,-1.9z" fill="#333"/>
<text transform="translate(307.80,36.90) scale(0.92,1)" font-size="5.8" fill="#2a2a2a">Type</text>
<text transform="translate(322.80,36.90) scale(0.92,1)" font-size="5.8" fill="#2a2a2a">Name</text>
<rect x="284.60" y="29.30" width="83.40" height="160.30" fill="none" stroke="#1a1a1a" stroke-width="0.8" stroke-dasharray="2.3,1"/>
<text transform="translate(286.00,48.15) scale(0.92,1)" font-size="5.95" fill="#1e1e1e">-99.32</text>
<circle cx="315.00" cy="46.00" r="2.2" fill="#b23ac4"/><rect x="314.10" y="45.65" width="1.8" height="0.7" fill="#fff" fill-opacity="0.8"/>
<text transform="translate(322.80,48.15) scale(0.92,1)" font-size="5.95" fill="#1e1e1e">GPR31</text>
<text transform="translate(286.00,55.55) scale(0.92,1)" font-size="5.95" fill="#1e1e1e">-98.89</text>
<circle cx="315.00" cy="53.40" r="2.2" fill="#b23ac4"/><rect x="314.10" y="53.05" width="1.8" height="0.7" fill="#fff" fill-opacity="0.8"/>
<text transform="translate(322.80,55.55) scale(0.92,1)" font-size="5.95" fill="#1e1e1e">GPR148</text>
<text transform="translate(286.00,62.95) scale(0.92,1)" font-size="5.95" fill="#1e1e1e">-97.89</text>
<circle cx="315.00" cy="60.80" r="2.2" fill="#f2a033"/><path d="M315.00,59.60 A1.2,1.2 0 0 0 315.00,62.00 Z" fill="#fff"/>
<text transform="translate(322.80,62.95) scale(0.92,1)" font-size="5.95" fill="#1e1e1e">ZG-10</text>
<text transform="translate(286.00,70.35) scale(0.92,1)" font-size="5.95" fill="#1e1e1e">-97.85</text>
<circle cx="315.00" cy="68.20" r="2.2" fill="#f2a033"/><path d="M315.00,67.00 A1.2,1.2 0 0 0 315.00,69.40 Z" fill="#fff"/>
<text transform="translate(322.80,70.35) scale(0.92,1)" font-size="5.95" fill="#1e1e1e">JNK-9L</text>
<text transform="translate(286.00,77.75) scale(0.92,1)" font-size="5.95" fill="#1e1e1e">-97.43</text>
<circle cx="315.00" cy="75.60" r="2.2" fill="#f2a033"/><path d="M315.00,74.40 A1.2,1.2 0 0 0 315.00,76.80 Z" fill="#fff"/>
<text transform="translate(322.80,77.75) scale(0.92,1)" font-size="5.95" fill="#1e1e1e">JNJ-7706621</text>
<text transform="translate(286.00,85.15) scale(0.92,1)" font-size="5.95" fill="#1e1e1e">-96.79</text>
<circle cx="315.00" cy="83.00" r="2.2" fill="#f2a033"/><path d="M315.00,81.80 A1.2,1.2 0 0 0 315.00,84.20 Z" fill="#fff"/>
<text transform="translate(322.80,85.15) scale(0.92,1)" font-size="5.95" fill="#1e1e1e">calyculin</text>
<text transform="translate(286.00,92.55) scale(0.92,1)" font-size="5.95" fill="#1e1e1e">-96.70</text>
<circle cx="315.00" cy="90.40" r="2.2" fill="#f2a033"/><path d="M315.00,89.20 A1.2,1.2 0 0 0 315.00,91.60 Z" fill="#fff"/>
<text transform="translate(322.80,92.55) scale(0.92,1)" font-size="5.95" fill="#1e1e1e">daunorubicin</text>
<text transform="translate(286.00,99.95) scale(0.92,1)" font-size="5.95" fill="#1e1e1e">-96.64</text>
<circle cx="315.00" cy="97.80" r="2.2" fill="#f2a033"/><path d="M315.00,96.60 A1.2,1.2 0 0 0 315.00,99.00 Z" fill="#fff"/>
<text transform="translate(322.80,99.95) scale(0.92,1)" font-size="5.95" fill="#1e1e1e">norethindrone</text>
<text transform="translate(286.00,107.35) scale(0.92,1)" font-size="5.95" fill="#1e1e1e">-96.55</text>
<circle cx="315.00" cy="105.20" r="2.2" fill="#f2a033"/><path d="M315.00,104.00 A1.2,1.2 0 0 0 315.00,106.40 Z" fill="#fff"/>
<text transform="translate(322.80,107.35) scale(0.92,1)" font-size="5.95" fill="#1e1e1e">AT-7519</text>
<text transform="translate(286.00,114.75) scale(0.92,1)" font-size="5.95" fill="#1e1e1e">-95.93</text>
<circle cx="315.00" cy="112.60" r="2.2" fill="#f2a033"/><path d="M315.00,111.40 A1.2,1.2 0 0 0 315.00,113.80 Z" fill="#fff"/>
<text transform="translate(322.80,114.75) scale(0.92,1)" font-size="5.95" fill="#1e1e1e">alvocidib</text>
<text transform="translate(286.00,122.15) scale(0.92,1)" font-size="5.95" fill="#1e1e1e">-95.75</text>
<circle cx="315.00" cy="120.00" r="2.2" fill="#b23ac4"/><rect x="314.10" y="119.65" width="1.8" height="0.7" fill="#fff" fill-opacity="0.8"/>
<text transform="translate(322.80,122.15) scale(0.92,1)" font-size="5.95" fill="#1e1e1e">TOPBP1</text>
<text transform="translate(286.00,129.55) scale(0.92,1)" font-size="5.95" fill="#1e1e1e">-95.11</text>
<circle cx="315.00" cy="127.40" r="2.2" fill="#f2a033"/><path d="M315.00,126.20 A1.2,1.2 0 0 0 315.00,128.60 Z" fill="#fff"/>
<text transform="translate(322.80,129.55) scale(0.92,1)" font-size="5.95" fill="#1e1e1e">BMS-345541</text>
<text transform="translate(286.00,136.95) scale(0.92,1)" font-size="5.95" fill="#1e1e1e">-95.10</text>
<circle cx="315.00" cy="134.80" r="2.2" fill="#f2a033"/><path d="M315.00,133.60 A1.2,1.2 0 0 0 315.00,136.00 Z" fill="#fff"/>
<text transform="translate(322.80,136.95) scale(0.92,1)" font-size="5.95" fill="#1e1e1e">mitoxantrone</text>
<text transform="translate(286.00,144.35) scale(0.92,1)" font-size="5.95" fill="#1e1e1e">-95.01</text>
<circle cx="315.00" cy="142.20" r="2.2" fill="#b23ac4"/><rect x="314.10" y="141.85" width="1.8" height="0.7" fill="#fff" fill-opacity="0.8"/>
<text transform="translate(322.80,144.35) scale(0.92,1)" font-size="5.95" fill="#1e1e1e">INPPL1</text>
<text transform="translate(286.00,151.75) scale(0.92,1)" font-size="5.95" fill="#1e1e1e">-95.00</text>
<circle cx="315.00" cy="149.60" r="2.2" fill="#f2a033"/><path d="M315.00,148.40 A1.2,1.2 0 0 0 315.00,150.80 Z" fill="#fff"/>
<text transform="translate(322.80,151.75) scale(0.92,1)" font-size="5.95" fill="#1e1e1e">chromomycin-a3</text>
<text transform="translate(286.00,159.15) scale(0.92,1)" font-size="5.95" fill="#1e1e1e">-94.62</text>
<circle cx="315.00" cy="157.00" r="2.2" fill="#f2a033"/><path d="M315.00,155.80 A1.2,1.2 0 0 0 315.00,158.20 Z" fill="#fff"/>
<text transform="translate(322.80,159.15) scale(0.92,1)" font-size="5.95" fill="#1e1e1e">bisindolylmalei…</text>
<text transform="translate(286.00,166.55) scale(0.92,1)" font-size="5.95" fill="#1e1e1e">-94.51</text>
<circle cx="315.00" cy="164.40" r="2.2" fill="#b23ac4"/><rect x="314.10" y="164.05" width="1.8" height="0.7" fill="#fff" fill-opacity="0.8"/>
<text transform="translate(322.80,166.55) scale(0.92,1)" font-size="5.95" fill="#1e1e1e">ISOC1</text>
<text transform="translate(286.00,173.95) scale(0.92,1)" font-size="5.95" fill="#1e1e1e">-94.22</text>
<circle cx="315.00" cy="171.80" r="2.2" fill="#f2a033"/><path d="M315.00,170.60 A1.2,1.2 0 0 0 315.00,173.00 Z" fill="#fff"/>
<text transform="translate(322.80,173.95) scale(0.92,1)" font-size="5.95" fill="#1e1e1e">PF-562271</text>
<text transform="translate(286.00,181.35) scale(0.92,1)" font-size="5.95" fill="#1e1e1e">-94.11</text>
<circle cx="315.00" cy="179.20" r="2.2" fill="#f2a033"/><path d="M315.00,178.00 A1.2,1.2 0 0 0 315.00,180.40 Z" fill="#fff"/>
<text transform="translate(322.80,181.35) scale(0.92,1)" font-size="5.95" fill="#1e1e1e">pirarubicin</text>
<text transform="translate(286.00,188.75) scale(0.92,1)" font-size="5.95" fill="#1e1e1e">-93.96</text>
<circle cx="315.00" cy="186.60" r="2.2" fill="#2f9fe3"/><ellipse cx="315.00" cy="186.60" rx="0.6" ry="0.9" fill="#fff"/>
<text transform="translate(322.80,188.75) scale(0.92,1)" font-size="5.95" fill="#1e1e1e">SLC38A2</text>
<line x1="131.50" y1="286.90" x2="201.70" y2="287.50" stroke="#222" stroke-width="0.8" stroke-dasharray="2.3,1"/>
<line x1="182.80" y1="451.60" x2="201.70" y2="449.80" stroke="#222" stroke-width="0.8" stroke-dasharray="2.3,1"/>
<rect x="201.10" y="275.10" width="92.10" height="11.30" fill="#d2d2d2"/>
<text x="247.95" y="283.90" font-size="7.15" fill="#4a4a4a" text-anchor="middle">Positive associations</text>
<rect x="201.70" y="287.50" width="91.70" height="162.30" fill="#fff"/>
<rect x="202.10" y="288.10" width="90.90" height="9.60" fill="#f1f1f1"/>
<line x1="202.10" y1="297.70" x2="293.00" y2="297.70" stroke="#d8d8d8" stroke-width="0.6"/>
<text transform="translate(203.40,295.10) scale(0.92,1)" font-size="5.8" fill="#2a2a2a">Score</text>
<path d="M219.70,292.60 h3.0 l-1.5,1.9z" fill="#333"/>
<text transform="translate(224.90,295.10) scale(0.92,1)" font-size="5.8" fill="#2a2a2a">Type</text>
<text transform="translate(240.80,295.10) scale(0.92,1)" font-size="5.8" fill="#2a2a2a">Name</text>
<rect x="201.70" y="287.50" width="91.70" height="162.30" fill="none" stroke="#1a1a1a" stroke-width="0.8" stroke-dasharray="2.3,1"/>
<text transform="translate(203.40,306.75) scale(0.92,1)" font-size="5.95" fill="#1e1e1e">98.52</text>
<circle cx="232.80" cy="304.60" r="2.2" fill="#b23ac4"/><rect x="231.90" y="304.25" width="1.8" height="0.7" fill="#fff" fill-opacity="0.8"/>
<text transform="translate(240.80,306.75) scale(0.92,1)" font-size="5.95" fill="#1e1e1e">CCNE1</text>
<text transform="translate(203.40,314.24) scale(0.92,1)" font-size="5.95" fill="#1e1e1e">96.73</text>
<circle cx="232.80" cy="312.09" r="2.2" fill="#2f9fe3"/><ellipse cx="232.80" cy="312.09" rx="0.6" ry="0.9" fill="#fff"/>
<text transform="translate(240.80,314.24) scale(0.92,1)" font-size="5.95" fill="#1e1e1e">DNAJB6</text>
<text transform="translate(203.40,321.73) scale(0.92,1)" font-size="5.95" fill="#1e1e1e">96.71</text>
<circle cx="232.80" cy="319.58" r="2.2" fill="#b23ac4"/><rect x="231.90" y="319.23" width="1.8" height="0.7" fill="#fff" fill-opacity="0.8"/>
<text transform="translate(240.80,321.73) scale(0.92,1)" font-size="5.95" fill="#1e1e1e">ASMTL</text>
<text transform="translate(203.40,329.22) scale(0.92,1)" font-size="5.95" fill="#1e1e1e">96.45</text>
<circle cx="232.80" cy="327.07" r="2.2" fill="#b23ac4"/><rect x="231.90" y="326.72" width="1.8" height="0.7" fill="#fff" fill-opacity="0.8"/>
<text transform="translate(240.80,329.22) scale(0.92,1)" font-size="5.95" fill="#1e1e1e">CNDP2</text>
<text transform="translate(203.40,336.71) scale(0.92,1)" font-size="5.95" fill="#1e1e1e">96.10</text>
<circle cx="232.80" cy="334.56" r="2.2" fill="#b23ac4"/><rect x="231.90" y="334.21" width="1.8" height="0.7" fill="#fff" fill-opacity="0.8"/>
<text transform="translate(240.80,336.71) scale(0.92,1)" font-size="5.95" fill="#1e1e1e">SNX2</text>
<text transform="translate(203.40,344.20) scale(0.92,1)" font-size="5.95" fill="#1e1e1e">95.98</text>
<circle cx="232.80" cy="342.05" r="2.2" fill="#b23ac4"/><rect x="231.90" y="341.70" width="1.8" height="0.7" fill="#fff" fill-opacity="0.8"/>
<text transform="translate(240.80,344.20) scale(0.92,1)" font-size="5.95" fill="#1e1e1e">SLC7A11</text>
<text transform="translate(203.40,351.69) scale(0.92,1)" font-size="5.95" fill="#1e1e1e">95.68</text>
<circle cx="232.80" cy="349.54" r="2.2" fill="#2f9fe3"/><ellipse cx="232.80" cy="349.54" rx="0.6" ry="0.9" fill="#fff"/>
<text transform="translate(240.80,351.69) scale(0.92,1)" font-size="5.95" fill="#1e1e1e">PAK1</text>
<text transform="translate(203.40,359.18) scale(0.92,1)" font-size="5.95" fill="#1e1e1e">95.58</text>
<circle cx="232.80" cy="357.03" r="2.2" fill="#f2a033"/><path d="M232.80,355.83 A1.2,1.2 0 0 0 232.80,358.23 Z" fill="#fff"/>
<text transform="translate(240.80,359.18) scale(0.92,1)" font-size="5.95" fill="#1e1e1e">homoharringtonine</text>
<text transform="translate(203.40,366.67) scale(0.92,1)" font-size="5.95" fill="#1e1e1e">95.57</text>
<circle cx="232.80" cy="364.52" r="2.2" fill="#f2a033"/><path d="M232.80,363.32 A1.2,1.2 0 0 0 232.80,365.72 Z" fill="#fff"/>
<text transform="translate(240.80,366.67) scale(0.92,1)" font-size="5.95" fill="#1e1e1e">droxinostat</text>
<text transform="translate(203.40,374.16) scale(0.92,1)" font-size="5.95" fill="#1e1e1e">94.71</text>
<circle cx="232.80" cy="372.01" r="2.2" fill="#f2a033"/><path d="M232.80,370.81 A1.2,1.2 0 0 0 232.80,373.21 Z" fill="#fff"/>
<text transform="translate(240.80,374.16) scale(0.92,1)" font-size="5.95" fill="#1e1e1e">parthenolide</text>
<text transform="translate(203.40,381.65) scale(0.92,1)" font-size="5.95" fill="#1e1e1e">94.55</text>
<circle cx="232.80" cy="379.50" r="2.2" fill="#b23ac4"/><rect x="231.90" y="379.15" width="1.8" height="0.7" fill="#fff" fill-opacity="0.8"/>
<text transform="translate(240.80,381.65) scale(0.92,1)" font-size="5.95" fill="#1e1e1e">CD97</text>
<text transform="translate(203.40,389.14) scale(0.92,1)" font-size="5.95" fill="#1e1e1e">94.46</text>
<circle cx="232.80" cy="386.99" r="2.2" fill="#b23ac4"/><rect x="231.90" y="386.64" width="1.8" height="0.7" fill="#fff" fill-opacity="0.8"/>
<text transform="translate(240.80,389.14) scale(0.92,1)" font-size="5.95" fill="#1e1e1e">SERPIND1</text>
<text transform="translate(203.40,396.63) scale(0.92,1)" font-size="5.95" fill="#1e1e1e">93.99</text>
<circle cx="232.80" cy="394.48" r="2.2" fill="#2f9fe3"/><ellipse cx="232.80" cy="394.48" rx="0.6" ry="0.9" fill="#fff"/>
<text transform="translate(240.80,396.63) scale(0.92,1)" font-size="5.95" fill="#1e1e1e">EPHX1</text>
<text transform="translate(203.40,404.12) scale(0.92,1)" font-size="5.95" fill="#1e1e1e">93.58</text>
<circle cx="232.80" cy="401.97" r="2.2" fill="#b23ac4"/><rect x="231.90" y="401.62" width="1.8" height="0.7" fill="#fff" fill-opacity="0.8"/>
<text transform="translate(240.80,404.12) scale(0.92,1)" font-size="5.95" fill="#1e1e1e">LASP1</text>
<text transform="translate(203.40,411.61) scale(0.92,1)" font-size="5.95" fill="#1e1e1e">93.52</text>
<circle cx="232.80" cy="409.46" r="2.2" fill="#f2a033"/><path d="M232.80,408.26 A1.2,1.2 0 0 0 232.80,410.66 Z" fill="#fff"/>
<text transform="translate(240.80,411.61) scale(0.92,1)" font-size="5.95" fill="#1e1e1e">prostratin</text>
<text transform="translate(203.40,419.10) scale(0.92,1)" font-size="5.95" fill="#1e1e1e">93.43</text>
<circle cx="232.80" cy="416.95" r="2.2" fill="#f2a033"/><path d="M232.80,415.75 A1.2,1.2 0 0 0 232.80,418.15 Z" fill="#fff"/>
<text transform="translate(240.80,419.10) scale(0.92,1)" font-size="5.95" fill="#1e1e1e">parthenolide</text>
<text transform="translate(203.40,426.59) scale(0.92,1)" font-size="5.95" fill="#1e1e1e">93.22</text>
<circle cx="232.80" cy="424.44" r="2.2" fill="#b23ac4"/><rect x="231.90" y="424.09" width="1.8" height="0.7" fill="#fff" fill-opacity="0.8"/>
<text transform="translate(240.80,426.59) scale(0.92,1)" font-size="5.95" fill="#1e1e1e">PON2</text>
<text transform="translate(203.40,434.08) scale(0.92,1)" font-size="5.95" fill="#1e1e1e">93.06</text>
<circle cx="232.80" cy="431.93" r="2.2" fill="#f2a033"/><path d="M232.80,430.73 A1.2,1.2 0 0 0 232.80,433.13 Z" fill="#fff"/>
<text transform="translate(240.80,434.08) scale(0.92,1)" font-size="5.95" fill="#1e1e1e">dexbrompheniramine</text>
<text transform="translate(203.40,441.57) scale(0.92,1)" font-size="5.95" fill="#1e1e1e">92.70</text>
<circle cx="232.80" cy="439.42" r="2.2" fill="#2f9fe3"/><ellipse cx="232.80" cy="439.42" rx="0.6" ry="0.9" fill="#fff"/>
<text transform="translate(240.80,441.57) scale(0.92,1)" font-size="5.95" fill="#1e1e1e">LPAR1</text>
<text transform="translate(203.40,449.06) scale(0.92,1)" font-size="5.95" fill="#1e1e1e">92.65</text>
<circle cx="232.80" cy="446.91" r="2.2" fill="#b23ac4"/><rect x="231.90" y="446.56" width="1.8" height="0.7" fill="#fff" fill-opacity="0.8"/>
<text transform="translate(240.80,449.06) scale(0.92,1)" font-size="5.95" fill="#1e1e1e">DCXR</text>
<rect x="294.90" y="275.10" width="72.40" height="11.30" fill="#d2d2d2"/>
<text x="331.90" y="283.90" font-size="7.15" fill="#4a4a4a" text-anchor="middle">Negative associations</text>
<rect x="295.50" y="287.50" width="72.00" height="162.30" fill="#fff"/>
<rect x="295.90" y="288.10" width="71.20" height="9.60" fill="#f1f1f1"/>
<line x1="295.90" y1="297.70" x2="367.10" y2="297.70" stroke="#d8d8d8" stroke-width="0.6"/>
<text transform="translate(296.30,295.10) scale(0.92,1)" font-size="5.8" fill="#2a2a2a">Score</text>
<path d="M313.50,294.50 h3.0 l-1.5,-1.9z" fill="#333"/>
<text transform="translate(318.70,295.10) scale(0.92,1)" font-size="5.8" fill="#2a2a2a">Type</text>
<text transform="translate(334.00,295.10) scale(0.92,1)" font-size="5.8" fill="#2a2a2a">Name</text>
<rect x="295.50" y="287.50" width="72.00" height="162.30" fill="none" stroke="#1a1a1a" stroke-width="0.8" stroke-dasharray="2.3,1"/>
<text transform="translate(296.30,306.75) scale(0.92,1)" font-size="5.95" fill="#1e1e1e">-99.71</text>
<circle cx="325.50" cy="304.60" r="2.2" fill="#b23ac4"/><rect x="324.60" y="304.25" width="1.8" height="0.7" fill="#fff" fill-opacity="0.8"/>
<text transform="translate(334.00,306.75) scale(0.92,1)" font-size="5.95" fill="#1e1e1e">SERPINA1</text>
<text transform="translate(296.30,314.24) scale(0.92,1)" font-size="5.95" fill="#1e1e1e">-99.03</text>
<circle cx="325.50" cy="312.09" r="2.2" fill="#2f9fe3"/><ellipse cx="325.50" cy="312.09" rx="0.6" ry="0.9" fill="#fff"/>
<text transform="translate(334.00,314.24) scale(0.92,1)" font-size="5.95" fill="#1e1e1e">EHF</text>
<text transform="translate(296.30,321.73) scale(0.92,1)" font-size="5.95" fill="#1e1e1e">-97.42</text>
<circle cx="325.50" cy="319.58" r="2.2" fill="#f2a033"/><path d="M325.50,318.38 A1.2,1.2 0 0 0 325.50,320.78 Z" fill="#fff"/>
<text transform="translate(334.00,321.73) scale(0.92,1)" font-size="5.95" fill="#1e1e1e">purvalanol-b</text>
<text transform="translate(296.30,329.22) scale(0.92,1)" font-size="5.95" fill="#1e1e1e">-97.08</text>
<circle cx="325.50" cy="327.07" r="2.2" fill="#f2a033"/><path d="M325.50,325.87 A1.2,1.2 0 0 0 325.50,328.27 Z" fill="#fff"/>
<text transform="translate(334.00,329.22) scale(0.92,1)" font-size="5.95" fill="#1e1e1e">ZG-10</text>
<text transform="translate(296.30,336.71) scale(0.92,1)" font-size="5.95" fill="#1e1e1e">-96.76</text>
<circle cx="325.50" cy="334.56" r="2.2" fill="#b23ac4"/><rect x="324.60" y="334.21" width="1.8" height="0.7" fill="#fff" fill-opacity="0.8"/>
<text transform="translate(334.00,336.71) scale(0.92,1)" font-size="5.95" fill="#1e1e1e">SOX3</text>
<text transform="translate(296.30,344.20) scale(0.92,1)" font-size="5.95" fill="#1e1e1e">-95.45</text>
<circle cx="325.50" cy="342.05" r="2.2" fill="#b23ac4"/><rect x="324.60" y="341.70" width="1.8" height="0.7" fill="#fff" fill-opacity="0.8"/>
<text transform="translate(334.00,344.20) scale(0.92,1)" font-size="5.95" fill="#1e1e1e">SH3BP5</text>
<text transform="translate(296.30,351.69) scale(0.92,1)" font-size="5.95" fill="#1e1e1e">-95.35</text>
<circle cx="325.50" cy="349.54" r="2.2" fill="#b23ac4"/><rect x="324.60" y="349.19" width="1.8" height="0.7" fill="#fff" fill-opacity="0.8"/>
<text transform="translate(334.00,351.69) scale(0.92,1)" font-size="5.95" fill="#1e1e1e">PXN</text>
<text transform="translate(296.30,359.18) scale(0.92,1)" font-size="5.95" fill="#1e1e1e">-94.32</text>
<circle cx="325.50" cy="357.03" r="2.2" fill="#f2a033"/><path d="M325.50,355.83 A1.2,1.2 0 0 0 325.50,358.23 Z" fill="#fff"/>
<text transform="translate(334.00,359.18) scale(0.92,1)" font-size="5.95" fill="#1e1e1e">metformin</text>
<text transform="translate(296.30,366.67) scale(0.92,1)" font-size="5.95" fill="#1e1e1e">-94.30</text>
<circle cx="325.50" cy="364.52" r="2.2" fill="#b23ac4"/><rect x="324.60" y="364.17" width="1.8" height="0.7" fill="#fff" fill-opacity="0.8"/>
<text transform="translate(334.00,366.67) scale(0.92,1)" font-size="5.95" fill="#1e1e1e">TBX3</text>
<text transform="translate(296.30,374.16) scale(0.92,1)" font-size="5.95" fill="#1e1e1e">-93.97</text>
<circle cx="325.50" cy="372.01" r="2.2" fill="#b23ac4"/><rect x="324.60" y="371.66" width="1.8" height="0.7" fill="#fff" fill-opacity="0.8"/>
<text transform="translate(334.00,374.16) scale(0.92,1)" font-size="5.95" fill="#1e1e1e">FDX1L</text>
<text transform="translate(296.30,381.65) scale(0.92,1)" font-size="5.95" fill="#1e1e1e">-93.55</text>
<circle cx="325.50" cy="379.50" r="2.2" fill="#b23ac4"/><rect x="324.60" y="379.15" width="1.8" height="0.7" fill="#fff" fill-opacity="0.8"/>
<text transform="translate(334.00,381.65) scale(0.92,1)" font-size="5.95" fill="#1e1e1e">SFMBT1</text>
<text transform="translate(296.30,389.14) scale(0.92,1)" font-size="5.95" fill="#1e1e1e">-92.80</text>
<circle cx="325.50" cy="386.99" r="2.2" fill="#b23ac4"/><rect x="324.60" y="386.64" width="1.8" height="0.7" fill="#fff" fill-opacity="0.8"/>
<text transform="translate(334.00,389.14) scale(0.92,1)" font-size="5.95" fill="#1e1e1e">C2ORF3</text>
<text transform="translate(296.30,396.63) scale(0.92,1)" font-size="5.95" fill="#1e1e1e">-92.50</text>
<circle cx="325.50" cy="394.48" r="2.2" fill="#f2a033"/><path d="M325.50,393.28 A1.2,1.2 0 0 0 325.50,395.68 Z" fill="#fff"/>
<text transform="translate(334.00,396.63) scale(0.92,1)" font-size="5.95" fill="#1e1e1e">PF-562271</text>
<text transform="translate(296.30,404.12) scale(0.92,1)" font-size="5.95" fill="#1e1e1e">-92.07</text>
<circle cx="325.50" cy="401.97" r="2.2" fill="#b23ac4"/><rect x="324.60" y="401.62" width="1.8" height="0.7" fill="#fff" fill-opacity="0.8"/>
<text transform="translate(334.00,404.12) scale(0.92,1)" font-size="5.95" fill="#1e1e1e">GJA1</text>
<text transform="translate(296.30,411.61) scale(0.92,1)" font-size="5.95" fill="#1e1e1e">-92.00</text>
<circle cx="325.50" cy="409.46" r="2.2" fill="#f2a033"/><path d="M325.50,408.26 A1.2,1.2 0 0 0 325.50,410.66 Z" fill="#fff"/>
<text transform="translate(334.00,411.61) scale(0.92,1)" font-size="5.95" fill="#1e1e1e">cefazolin</text>
<text transform="translate(296.30,419.10) scale(0.92,1)" font-size="5.95" fill="#1e1e1e">-91.70</text>
<circle cx="325.50" cy="416.95" r="2.2" fill="#b23ac4"/><rect x="324.60" y="416.60" width="1.8" height="0.7" fill="#fff" fill-opacity="0.8"/>
<text transform="translate(334.00,419.10) scale(0.92,1)" font-size="5.95" fill="#1e1e1e">NGFR</text>
<text transform="translate(296.30,426.59) scale(0.92,1)" font-size="5.95" fill="#1e1e1e">-91.41</text>
<circle cx="325.50" cy="424.44" r="2.2" fill="#b23ac4"/><rect x="324.60" y="424.09" width="1.8" height="0.7" fill="#fff" fill-opacity="0.8"/>
<text transform="translate(334.00,426.59) scale(0.92,1)" font-size="5.95" fill="#1e1e1e">ADAM15</text>
<text transform="translate(296.30,434.08) scale(0.92,1)" font-size="5.95" fill="#1e1e1e">-90.36</text>
<circle cx="325.50" cy="431.93" r="2.2" fill="#2f9fe3"/><ellipse cx="325.50" cy="431.93" rx="0.6" ry="0.9" fill="#fff"/>
<text transform="translate(334.00,434.08) scale(0.92,1)" font-size="5.95" fill="#1e1e1e">SMOX</text>
<text transform="translate(296.30,441.57) scale(0.92,1)" font-size="5.95" fill="#1e1e1e">-90.34</text>
<circle cx="325.50" cy="439.42" r="2.2" fill="#f2a033"/><path d="M325.50,438.22 A1.2,1.2 0 0 0 325.50,440.62 Z" fill="#fff"/>
<text transform="translate(334.00,441.57) scale(0.92,1)" font-size="5.95" fill="#1e1e1e">fasudil</text>
<text transform="translate(296.30,449.06) scale(0.92,1)" font-size="5.95" fill="#1e1e1e">-89.89</text>
<circle cx="325.50" cy="446.91" r="2.2" fill="#f2a033"/><path d="M325.50,445.71 A1.2,1.2 0 0 0 325.50,448.11 Z" fill="#fff"/>
<text transform="translate(334.00,449.06) scale(0.92,1)" font-size="5.95" fill="#1e1e1e">methapyrilene</text>
<text x="391.90" y="146.20" font-size="6.0" fill="#111" text-anchor="middle" font-weight="bold" stroke="#111" stroke-width="0.12">-150</text>
<text x="432.70" y="146.20" font-size="6.0" fill="#111" text-anchor="middle" font-weight="bold" stroke="#111" stroke-width="0.12">-100</text>
<text x="473.50" y="146.20" font-size="6.0" fill="#111" text-anchor="middle" font-weight="bold" stroke="#111" stroke-width="0.12">-50</text>
<text x="555.10" y="146.20" font-size="6.0" fill="#111" text-anchor="middle" font-weight="bold" stroke="#111" stroke-width="0.12">50</text>
<text x="595.90" y="146.20" font-size="6.0" fill="#111" text-anchor="middle" font-weight="bold" stroke="#111" stroke-width="0.12">100</text>
<text x="636.70" y="146.20" font-size="6.0" fill="#111" text-anchor="middle" font-weight="bold" stroke="#111" stroke-width="0.12">150</text>
<text x="509.60" y="56.59" font-size="5.9" fill="#1a1a1a" text-anchor="end" stroke="#1a1a1a" stroke-width="0.08">150</text>
<text x="509.60" y="83.71" font-size="5.9" fill="#1a1a1a" text-anchor="end" stroke="#1a1a1a" stroke-width="0.08">100</text>
<text x="509.60" y="110.83" font-size="5.9" fill="#1a1a1a" text-anchor="end" stroke="#1a1a1a" stroke-width="0.08">50</text>
<text x="509.60" y="165.07" font-size="5.9" fill="#1a1a1a" text-anchor="end" stroke="#1a1a1a" stroke-width="0.08">-50</text>
<text x="509.60" y="192.19" font-size="5.9" fill="#1a1a1a" text-anchor="end" stroke="#1a1a1a" stroke-width="0.08">-100</text>
<text x="509.60" y="219.31" font-size="5.9" fill="#1a1a1a" text-anchor="end" stroke="#1a1a1a" stroke-width="0.08">-150</text>
<path d="M528.0 115.7h1v1h-1zM491.2 153.6h1v1h-1zM554.6 125.0h1v1h-1zM470.6 139.2h1v1h-1zM557.2 139.5h1v1h-1zM483.2 111.7h1v1h-1zM458.9 106.4h1v1h-1zM512.2 94.0h1v1h-1zM472.7 121.3h1v1h-1zM487.9 124.0h1v1h-1zM503.7 118.8h1v1h-1zM513.4 126.2h1v1h-1zM500.6 126.6h1v1h-1zM494.0 83.2h1v1h-1zM498.2 123.1h1v1h-1zM568.5 140.5h1v1h-1zM525.8 121.4h1v1h-1zM491.4 136.0h1v1h-1zM514.6 145.3h1v1h-1zM507.4 92.7h1v1h-1zM479.6 118.3h1v1h-1zM481.7 148.5h1v1h-1zM504.2 137.1h1v1h-1zM518.9 116.3h1v1h-1zM512.8 102.0h1v1h-1zM464.4 132.7h1v1h-1zM513.2 137.8h1v1h-1zM485.1 140.3h1v1h-1zM467.3 122.0h1v1h-1zM586.4 101.0h1v1h-1zM510.1 130.4h1v1h-1zM498.0 103.8h1v1h-1zM536.1 166.4h1v1h-1zM506.7 133.1h1v1h-1zM507.6 126.2h1v1h-1zM463.4 142.8h1v1h-1zM507.6 112.7h1v1h-1zM521.0 110.8h1v1h-1zM520.2 124.0h1v1h-1zM487.9 115.1h1v1h-1zM519.7 120.2h1v1h-1zM534.6 105.8h1v1h-1zM495.9 134.8h1v1h-1zM487.1 128.3h1v1h-1zM463.8 170.5h1v1h-1zM468.2 101.4h1v1h-1zM521.1 124.1h1v1h-1zM491.4 98.7h1v1h-1zM505.9 107.2h1v1h-1zM475.8 130.7h1v1h-1zM560.2 149.3h1v1h-1zM567.4 118.4h1v1h-1zM571.6 134.5h1v1h-1zM463.2 133.4h1v1h-1zM468.7 140.1h1v1h-1zM513.9 135.3h1v1h-1zM573.8 126.0h1v1h-1zM497.9 134.2h1v1h-1zM518.6 154.9h1v1h-1zM539.9 96.2h1v1h-1zM526.5 137.7h1v1h-1zM470.7 98.6h1v1h-1zM467.0 155.4h1v1h-1zM493.6 171.9h1v1h-1zM561.4 129.8h1v1h-1zM497.9 118.1h1v1h-1zM487.6 117.6h1v1h-1zM484.4 107.8h1v1h-1zM461.0 158.9h1v1h-1zM494.1 124.9h1v1h-1zM491.9 115.5h1v1h-1zM501.7 163.9h1v1h-1zM529.5 141.7h1v1h-1zM513.8 154.1h1v1h-1zM530.9 113.7h1v1h-1zM489.2 113.0h1v1h-1zM493.7 115.7h1v1h-1zM474.7 134.8h1v1h-1zM486.1 105.3h1v1h-1zM579.3 131.8h1v1h-1zM495.8 131.7h1v1h-1zM546.3 176.6h1v1h-1zM530.0 135.8h1v1h-1zM505.5 125.2h1v1h-1zM490.4 123.7h1v1h-1zM565.1 129.6h1v1h-1zM500.6 142.8h1v1h-1zM505.5 110.4h1v1h-1zM522.0 104.9h1v1h-1zM491.1 161.6h1v1h-1zM476.3 144.4h1v1h-1zM488.9 139.7h1v1h-1zM553.6 104.9h1v1h-1zM503.7 87.3h1v1h-1zM507.5 123.5h1v1h-1zM484.2 114.2h1v1h-1zM520.2 125.6h1v1h-1zM459.9 114.2h1v1h-1zM504.6 115.4h1v1h-1zM475.8 129.1h1v1h-1zM505.4 95.6h1v1h-1zM488.7 154.5h1v1h-1zM498.1 107.9h1v1h-1zM452.4 160.3h1v1h-1zM552.7 155.9h1v1h-1zM515.5 131.3h1v1h-1zM501.2 117.1h1v1h-1zM449.0 154.2h1v1h-1zM482.5 158.1h1v1h-1zM465.4 116.0h1v1h-1zM490.9 84.5h1v1h-1zM511.2 149.5h1v1h-1zM485.6 117.3h1v1h-1zM476.0 138.4h1v1h-1zM506.8 124.9h1v1h-1zM503.2 109.8h1v1h-1zM445.9 129.6h1v1h-1zM515.2 129.5h1v1h-1zM492.6 106.1h1v1h-1zM492.3 117.9h1v1h-1zM533.0 116.5h1v1h-1zM505.9 111.1h1v1h-1zM546.3 116.4h1v1h-1zM511.2 132.4h1v1h-1zM522.7 127.3h1v1h-1zM453.2 152.9h1v1h-1zM442.0 125.0h1v1h-1zM497.8 128.4h1v1h-1zM512.2 137.4h1v1h-1zM506.4 128.3h1v1h-1zM496.3 128.3h1v1h-1zM463.5 129.7h1v1h-1zM446.9 121.1h1v1h-1zM488.5 149.0h1v1h-1zM542.6 155.6h1v1h-1zM486.3 142.8h1v1h-1zM534.5 161.2h1v1h-1zM505.0 111.1h1v1h-1zM530.3 131.9h1v1h-1zM490.3 161.4h1v1h-1zM469.3 126.7h1v1h-1zM470.5 149.4h1v1h-1zM554.4 111.7h1v1h-1zM495.3 131.6h1v1h-1zM516.1 119.0h1v1h-1zM481.6 119.8h1v1h-1zM504.1 134.5h1v1h-1zM492.3 109.2h1v1h-1zM489.6 88.9h1v1h-1zM505.3 105.0h1v1h-1zM490.6 136.1h1v1h-1zM502.7 119.6h1v1h-1zM559.2 159.4h1v1h-1zM528.1 135.2h1v1h-1zM486.6 84.9h1v1h-1zM486.8 154.2h1v1h-1zM496.2 128.5h1v1h-1zM479.3 129.5h1v1h-1zM472.9 110.2h1v1h-1zM557.2 173.8h1v1h-1zM506.5 104.8h1v1h-1zM506.3 136.6h1v1h-1zM531.2 156.4h1v1h-1zM500.9 145.1h1v1h-1zM528.3 132.7h1v1h-1zM517.7 153.7h1v1h-1zM465.2 115.1h1v1h-1zM564.0 143.6h1v1h-1zM482.3 163.7h1v1h-1zM475.4 141.1h1v1h-1zM474.2 114.5h1v1h-1zM524.0 146.3h1v1h-1zM509.5 133.8h1v1h-1zM514.6 133.8h1v1h-1zM496.3 148.7h1v1h-1zM442.5 139.4h1v1h-1zM477.2 98.1h1v1h-1zM526.2 102.4h1v1h-1zM450.6 108.7h1v1h-1zM551.0 132.6h1v1h-1zM505.3 122.0h1v1h-1zM512.8 151.9h1v1h-1zM499.2 115.9h1v1h-1zM477.4 173.2h1v1h-1zM508.1 110.0h1v1h-1zM463.1 110.6h1v1h-1zM527.3 140.4h1v1h-1zM547.5 98.7h1v1h-1zM513.6 130.3h1v1h-1zM506.9 128.4h1v1h-1zM465.8 135.9h1v1h-1zM513.0 127.4h1v1h-1zM454.9 138.9h1v1h-1zM485.0 139.1h1v1h-1zM537.2 113.6h1v1h-1zM504.9 116.3h1v1h-1zM534.0 101.8h1v1h-1zM488.4 131.3h1v1h-1zM459.3 120.5h1v1h-1zM511.0 119.3h1v1h-1zM503.1 155.0h1v1h-1zM490.3 122.9h1v1h-1zM487.2 155.5h1v1h-1zM542.3 134.6h1v1h-1zM499.6 130.2h1v1h-1zM479.1 92.5h1v1h-1zM547.7 174.5h1v1h-1zM545.4 126.8h1v1h-1zM533.4 114.5h1v1h-1zM499.3 122.5h1v1h-1zM485.3 129.4h1v1h-1zM482.9 109.2h1v1h-1zM507.0 84.4h1v1h-1zM522.6 166.8h1v1h-1zM522.1 122.7h1v1h-1zM474.6 175.9h1v1h-1zM477.5 135.5h1v1h-1zM503.0 143.0h1v1h-1zM506.3 87.3h1v1h-1zM468.8 130.8h1v1h-1zM473.6 117.8h1v1h-1zM544.8 118.4h1v1h-1zM497.5 125.5h1v1h-1zM479.2 96.0h1v1h-1zM588.5 92.2h1v1h-1zM513.7 100.7h1v1h-1zM504.2 118.4h1v1h-1zM507.4 105.5h1v1h-1zM483.9 123.8h1v1h-1zM500.4 113.1h1v1h-1zM506.0 153.3h1v1h-1zM519.5 181.5h1v1h-1zM490.6 133.6h1v1h-1zM470.5 122.5h1v1h-1zM484.0 118.3h1v1h-1zM461.4 107.8h1v1h-1zM553.7 131.5h1v1h-1zM443.1 127.4h1v1h-1zM489.1 133.0h1v1h-1zM537.8 83.9h1v1h-1zM497.1 140.7h1v1h-1zM563.8 126.7h1v1h-1zM493.0 131.0h1v1h-1zM494.3 89.3h1v1h-1zM478.4 150.7h1v1h-1zM546.9 137.3h1v1h-1zM496.0 124.3h1v1h-1zM518.5 140.3h1v1h-1zM536.7 160.6h1v1h-1zM514.0 132.4h1v1h-1zM480.9 131.6h1v1h-1zM478.6 157.6h1v1h-1zM533.6 114.1h1v1h-1zM509.8 119.1h1v1h-1zM531.5 122.4h1v1h-1zM500.5 134.0h1v1h-1zM475.5 108.1h1v1h-1zM470.4 89.9h1v1h-1zM505.2 112.4h1v1h-1zM503.7 161.4h1v1h-1zM479.4 121.8h1v1h-1zM444.6 153.6h1v1h-1zM500.2 122.0h1v1h-1zM535.4 87.9h1v1h-1zM493.6 136.8h1v1h-1zM440.3 120.7h1v1h-1zM488.1 135.1h1v1h-1zM474.7 129.2h1v1h-1zM562.8 96.5h1v1h-1zM467.7 134.6h1v1h-1zM567.6 131.9h1v1h-1zM491.3 143.2h1v1h-1zM455.0 157.4h1v1h-1zM501.7 143.0h1v1h-1zM485.7 139.0h1v1h-1zM478.4 143.7h1v1h-1zM474.9 128.6h1v1h-1zM512.5 162.7h1v1h-1zM507.0 152.1h1v1h-1zM540.4 115.5h1v1h-1zM475.5 124.0h1v1h-1zM475.3 118.4h1v1h-1zM506.0 133.0h1v1h-1zM488.7 118.0h1v1h-1zM503.6 128.7h1v1h-1zM490.5 147.0h1v1h-1zM474.5 119.6h1v1h-1zM517.1 118.8h1v1h-1zM484.3 124.8h1v1h-1zM510.9 160.0h1v1h-1zM491.7 138.7h1v1h-1zM480.4 135.8h1v1h-1zM550.8 94.4h1v1h-1zM471.0 133.3h1v1h-1zM506.3 121.3h1v1h-1zM478.9 116.3h1v1h-1zM513.5 100.2h1v1h-1zM480.2 114.2h1v1h-1zM497.2 152.1h1v1h-1zM477.6 115.6h1v1h-1zM495.7 104.3h1v1h-1zM510.1 113.6h1v1h-1zM465.6 142.8h1v1h-1zM477.7 92.2h1v1h-1zM500.4 131.7h1v1h-1zM530.8 132.5h1v1h-1zM473.2 112.2h1v1h-1zM506.7 118.5h1v1h-1zM511.2 116.7h1v1h-1zM523.5 132.3h1v1h-1zM475.3 167.1h1v1h-1zM453.0 102.5h1v1h-1zM486.4 130.0h1v1h-1zM489.4 145.8h1v1h-1zM435.6 144.0h1v1h-1zM553.6 119.8h1v1h-1zM450.8 159.1h1v1h-1zM546.9 162.5h1v1h-1zM498.3 111.5h1v1h-1zM487.6 105.7h1v1h-1zM543.4 140.1h1v1h-1zM474.5 102.0h1v1h-1zM509.4 116.2h1v1h-1zM438.7 105.9h1v1h-1zM475.0 110.8h1v1h-1zM460.4 119.1h1v1h-1zM457.4 119.6h1v1h-1zM511.4 121.4h1v1h-1zM518.1 88.1h1v1h-1zM501.5 118.2h1v1h-1zM466.8 131.4h1v1h-1zM504.6 90.1h1v1h-1zM516.0 151.9h1v1h-1zM445.9 148.0h1v1h-1zM476.9 138.2h1v1h-1zM489.9 113.1h1v1h-1zM483.7 155.2h1v1h-1zM505.7 90.1h1v1h-1zM511.0 120.6h1v1h-1zM511.5 119.0h1v1h-1zM440.8 160.6h1v1h-1zM484.4 105.1h1v1h-1zM547.1 110.0h1v1h-1zM499.9 149.7h1v1h-1zM492.4 110.3h1v1h-1zM528.6 110.7h1v1h-1zM489.3 114.4h1v1h-1zM527.8 124.6h1v1h-1zM534.9 114.8h1v1h-1zM498.5 114.5h1v1h-1zM511.1 129.5h1v1h-1zM485.8 156.8h1v1h-1zM455.0 118.2h1v1h-1zM501.1 172.8h1v1h-1zM494.0 95.3h1v1h-1zM493.1 116.4h1v1h-1zM545.0 174.3h1v1h-1zM533.3 116.5h1v1h-1zM454.5 108.8h1v1h-1zM486.1 125.6h1v1h-1zM466.5 123.2h1v1h-1zM548.9 115.7h1v1h-1zM559.6 108.2h1v1h-1zM511.8 113.3h1v1h-1zM548.0 99.8h1v1h-1zM466.7 124.9h1v1h-1zM545.2 130.2h1v1h-1zM455.9 127.4h1v1h-1zM487.9 123.3h1v1h-1zM521.8 136.2h1v1h-1zM493.9 131.2h1v1h-1zM466.8 157.7h1v1h-1zM505.8 91.2h1v1h-1zM555.9 113.8h1v1h-1zM516.4 138.8h1v1h-1zM489.1 135.2h1v1h-1zM488.4 94.9h1v1h-1zM505.1 143.2h1v1h-1zM490.2 120.4h1v1h-1zM487.4 106.2h1v1h-1zM490.5 116.2h1v1h-1zM434.3 127.7h1v1h-1zM480.9 122.9h1v1h-1zM507.4 144.2h1v1h-1zM541.7 117.2h1v1h-1zM507.0 140.9h1v1h-1zM497.8 132.5h1v1h-1zM458.6 101.2h1v1h-1zM553.9 99.2h1v1h-1zM526.0 131.6h1v1h-1zM500.1 170.5h1v1h-1zM453.2 126.9h1v1h-1zM505.9 121.4h1v1h-1zM513.8 95.6h1v1h-1zM483.9 160.1h1v1h-1zM530.4 148.9h1v1h-1zM483.5 116.6h1v1h-1zM527.8 98.8h1v1h-1zM496.1 154.3h1v1h-1zM511.2 139.8h1v1h-1zM478.9 165.3h1v1h-1zM466.6 104.4h1v1h-1zM476.0 87.8h1v1h-1zM435.4 139.1h1v1h-1zM508.9 132.2h1v1h-1zM558.9 146.3h1v1h-1zM480.4 148.4h1v1h-1zM443.3 124.0h1v1h-1zM533.5 120.9h1v1h-1zM518.8 137.2h1v1h-1zM447.2 164.8h1v1h-1zM457.5 144.3h1v1h-1zM506.9 147.6h1v1h-1zM462.0 135.1h1v1h-1zM457.1 138.2h1v1h-1zM537.8 156.8h1v1h-1zM432.9 133.5h1v1h-1zM499.2 137.7h1v1h-1zM473.3 111.9h1v1h-1zM472.5 123.0h1v1h-1zM479.1 142.0h1v1h-1zM496.7 134.7h1v1h-1zM517.1 117.0h1v1h-1zM506.9 161.2h1v1h-1zM512.4 147.7h1v1h-1zM450.6 115.5h1v1h-1zM452.1 91.1h1v1h-1zM496.8 127.5h1v1h-1zM464.2 155.8h1v1h-1zM498.2 113.1h1v1h-1zM497.9 132.2h1v1h-1zM498.9 107.2h1v1h-1zM506.4 119.5h1v1h-1zM508.4 124.9h1v1h-1zM506.6 117.1h1v1h-1zM498.9 129.0h1v1h-1zM476.4 169.8h1v1h-1zM472.2 104.1h1v1h-1zM520.0 117.3h1v1h-1zM517.9 154.5h1v1h-1zM490.4 174.9h1v1h-1zM481.2 134.7h1v1h-1zM508.0 131.3h1v1h-1zM547.4 112.9h1v1h-1zM496.1 128.0h1v1h-1zM520.3 85.3h1v1h-1zM491.4 155.0h1v1h-1zM533.8 133.1h1v1h-1zM490.9 155.6h1v1h-1zM530.1 126.1h1v1h-1zM536.9 109.9h1v1h-1zM511.0 186.0h1v1h-1zM439.4 165.3h1v1h-1zM498.2 119.9h1v1h-1zM494.2 99.4h1v1h-1zM485.8 122.8h1v1h-1zM497.9 141.4h1v1h-1zM514.5 126.0h1v1h-1zM521.7 127.7h1v1h-1zM469.5 132.9h1v1h-1zM472.8 120.2h1v1h-1zM496.7 123.2h1v1h-1zM551.5 119.0h1v1h-1zM494.0 134.9h1v1h-1zM498.3 149.0h1v1h-1zM489.7 109.8h1v1h-1zM474.0 94.4h1v1h-1zM510.2 129.9h1v1h-1zM532.6 121.2h1v1h-1zM500.9 110.4h1v1h-1zM509.0 122.1h1v1h-1zM493.2 122.4h1v1h-1zM475.5 107.4h1v1h-1zM495.9 115.0h1v1h-1zM452.7 116.3h1v1h-1zM503.2 94.5h1v1h-1zM500.8 101.3h1v1h-1zM460.6 163.1h1v1h-1zM517.9 126.6h1v1h-1zM433.4 130.7h1v1h-1zM519.5 113.3h1v1h-1zM484.6 147.4h1v1h-1zM493.9 163.1h1v1h-1zM546.6 118.1h1v1h-1zM498.4 132.7h1v1h-1zM538.2 133.7h1v1h-1zM452.7 115.7h1v1h-1zM551.6 111.6h1v1h-1zM460.2 115.3h1v1h-1zM497.7 108.6h1v1h-1zM543.3 124.7h1v1h-1zM502.8 131.3h1v1h-1zM519.6 127.1h1v1h-1zM509.7 129.1h1v1h-1zM485.2 169.9h1v1h-1zM521.3 122.1h1v1h-1zM494.5 138.0h1v1h-1zM481.6 133.0h1v1h-1zM477.1 124.2h1v1h-1zM511.0 118.9h1v1h-1zM539.1 125.6h1v1h-1zM548.4 151.8h1v1h-1zM516.6 145.2h1v1h-1zM458.8 135.0h1v1h-1zM530.0 117.8h1v1h-1zM464.6 100.6h1v1h-1zM495.1 150.2h1v1h-1zM561.1 113.5h1v1h-1zM502.9 140.8h1v1h-1zM537.3 124.0h1v1h-1zM457.2 121.7h1v1h-1zM450.1 127.3h1v1h-1zM507.2 139.6h1v1h-1zM505.8 137.6h1v1h-1zM493.8 146.5h1v1h-1zM527.9 113.9h1v1h-1zM489.8 150.1h1v1h-1zM529.9 128.0h1v1h-1zM530.1 100.7h1v1h-1zM482.5 133.5h1v1h-1zM493.5 107.8h1v1h-1zM554.8 182.9h1v1h-1zM493.9 109.6h1v1h-1zM480.3 133.6h1v1h-1zM505.3 114.8h1v1h-1zM482.0 127.2h1v1h-1zM487.0 172.8h1v1h-1zM503.2 132.2h1v1h-1zM443.8 121.6h1v1h-1zM531.6 151.0h1v1h-1zM508.3 157.6h1v1h-1zM565.4 124.5h1v1h-1zM553.4 136.7h1v1h-1zM517.3 149.4h1v1h-1zM533.7 103.7h1v1h-1zM471.2 98.0h1v1h-1zM479.4 118.9h1v1h-1zM457.4 138.1h1v1h-1zM485.7 132.1h1v1h-1zM514.9 130.9h1v1h-1zM463.5 159.8h1v1h-1zM521.1 99.4h1v1h-1zM509.0 123.4h1v1h-1zM460.7 112.8h1v1h-1zM470.9 108.3h1v1h-1zM492.0 110.4h1v1h-1zM497.2 121.4h1v1h-1zM485.1 125.4h1v1h-1zM527.5 126.0h1v1h-1zM441.9 130.7h1v1h-1zM544.9 136.4h1v1h-1zM468.4 142.8h1v1h-1zM488.2 129.3h1v1h-1zM496.5 95.7h1v1h-1zM471.4 115.6h1v1h-1zM496.1 120.8h1v1h-1zM482.0 153.7h1v1h-1zM500.1 83.7h1v1h-1zM476.1 122.6h1v1h-1zM469.5 170.4h1v1h-1zM473.0 155.4h1v1h-1zM474.0 113.6h1v1h-1zM504.0 131.6h1v1h-1zM503.3 141.7h1v1h-1zM451.0 110.2h1v1h-1zM546.3 115.8h1v1h-1zM479.8 144.4h1v1h-1zM478.4 135.0h1v1h-1zM485.7 105.1h1v1h-1zM472.7 168.9h1v1h-1zM473.9 124.2h1v1h-1zM502.1 134.0h1v1h-1zM494.9 150.7h1v1h-1zM481.2 106.4h1v1h-1zM502.6 125.0h1v1h-1zM525.7 158.5h1v1h-1zM570.9 147.9h1v1h-1zM516.6 144.6h1v1h-1zM502.5 156.9h1v1h-1zM525.3 152.3h1v1h-1zM544.6 149.8h1v1h-1zM451.6 112.4h1v1h-1zM491.7 139.2h1v1h-1zM483.3 148.4h1v1h-1zM483.1 116.2h1v1h-1zM491.6 147.2h1v1h-1zM493.7 130.4h1v1h-1zM511.7 168.8h1v1h-1zM468.4 109.0h1v1h-1zM509.1 128.6h1v1h-1zM511.8 140.3h1v1h-1zM530.4 140.7h1v1h-1zM511.8 135.0h1v1h-1zM504.5 141.6h1v1h-1zM528.2 102.4h1v1h-1zM474.1 126.5h1v1h-1zM546.1 144.8h1v1h-1zM479.2 152.4h1v1h-1zM506.9 110.9h1v1h-1zM488.4 132.4h1v1h-1zM492.1 163.8h1v1h-1zM503.1 161.2h1v1h-1zM497.3 110.5h1v1h-1zM492.5 96.6h1v1h-1zM498.4 128.1h1v1h-1zM587.4 123.8h1v1h-1zM508.2 117.9h1v1h-1zM485.0 188.4h1v1h-1zM437.1 103.0h1v1h-1zM487.3 115.1h1v1h-1zM482.2 152.8h1v1h-1zM473.7 100.8h1v1h-1zM508.5 92.2h1v1h-1zM504.0 116.3h1v1h-1zM515.8 132.0h1v1h-1zM546.1 99.9h1v1h-1zM501.1 137.2h1v1h-1zM507.9 144.1h1v1h-1zM502.4 139.9h1v1h-1zM555.3 135.2h1v1h-1zM457.7 159.6h1v1h-1zM452.7 152.2h1v1h-1zM506.5 185.4h1v1h-1zM527.9 122.7h1v1h-1zM441.8 147.2h1v1h-1zM493.9 129.2h1v1h-1zM493.2 157.0h1v1h-1zM535.7 180.4h1v1h-1zM512.0 109.2h1v1h-1zM490.2 134.3h1v1h-1zM503.0 129.0h1v1h-1zM512.2 111.0h1v1h-1zM508.6 106.3h1v1h-1zM489.8 130.9h1v1h-1zM529.7 132.0h1v1h-1zM481.1 130.0h1v1h-1zM533.7 134.6h1v1h-1zM493.0 144.9h1v1h-1zM500.6 128.4h1v1h-1zM499.6 161.4h1v1h-1zM441.9 126.4h1v1h-1zM580.8 143.5h1v1h-1zM485.2 96.9h1v1h-1zM482.1 103.4h1v1h-1zM484.4 167.9h1v1h-1zM530.0 119.7h1v1h-1zM567.2 89.7h1v1h-1zM486.3 157.8h1v1h-1zM556.9 108.0h1v1h-1zM503.0 159.3h1v1h-1zM482.9 121.4h1v1h-1zM489.7 123.6h1v1h-1zM472.1 129.9h1v1h-1zM514.8 157.3h1v1h-1zM463.5 103.4h1v1h-1zM537.8 146.2h1v1h-1zM436.0 145.5h1v1h-1zM487.6 85.0h1v1h-1zM491.4 122.2h1v1h-1zM505.7 138.5h1v1h-1zM499.6 125.3h1v1h-1zM495.1 119.6h1v1h-1zM447.3 146.6h1v1h-1zM546.6 139.9h1v1h-1zM451.3 138.2h1v1h-1zM524.2 139.3h1v1h-1zM513.2 129.5h1v1h-1zM537.7 135.7h1v1h-1zM531.6 138.8h1v1h-1zM498.5 143.8h1v1h-1zM510.6 113.2h1v1h-1zM459.0 113.4h1v1h-1zM466.4 130.1h1v1h-1zM507.5 117.5h1v1h-1zM503.0 110.4h1v1h-1zM515.2 122.5h1v1h-1zM532.6 121.6h1v1h-1zM484.5 152.6h1v1h-1zM496.0 113.1h1v1h-1zM504.7 174.9h1v1h-1zM507.2 149.0h1v1h-1zM525.0 90.7h1v1h-1zM454.3 146.3h1v1h-1zM480.4 156.1h1v1h-1zM507.7 124.4h1v1h-1zM482.2 130.6h1v1h-1zM575.6 140.3h1v1h-1zM460.9 96.9h1v1h-1zM513.5 126.9h1v1h-1zM439.8 167.2h1v1h-1zM547.6 149.7h1v1h-1zM460.0 136.7h1v1h-1zM482.2 107.3h1v1h-1zM466.8 109.5h1v1h-1zM554.9 125.1h1v1h-1zM515.3 123.7h1v1h-1zM569.8 158.3h1v1h-1zM486.0 154.8h1v1h-1zM501.4 155.3h1v1h-1zM485.8 134.0h1v1h-1zM507.9 158.4h1v1h-1zM480.8 119.7h1v1h-1zM524.2 129.0h1v1h-1zM567.3 170.8h1v1h-1zM509.0 114.8h1v1h-1zM467.8 131.3h1v1h-1zM512.1 144.4h1v1h-1zM525.7 146.1h1v1h-1zM512.5 122.6h1v1h-1zM477.1 128.2h1v1h-1zM497.7 170.0h1v1h-1zM517.8 130.2h1v1h-1zM540.7 124.0h1v1h-1zM493.4 124.4h1v1h-1zM549.2 121.2h1v1h-1zM553.2 125.8h1v1h-1zM473.4 112.7h1v1h-1zM491.5 115.6h1v1h-1zM566.9 167.6h1v1h-1zM490.4 132.4h1v1h-1zM502.8 114.2h1v1h-1zM524.5 112.9h1v1h-1zM529.0 122.2h1v1h-1zM490.9 158.1h1v1h-1zM493.6 181.4h1v1h-1zM507.3 162.1h1v1h-1zM548.6 123.8h1v1h-1zM478.6 131.6h1v1h-1zM465.8 126.5h1v1h-1zM520.2 150.6h1v1h-1zM495.8 111.4h1v1h-1zM554.7 172.9h1v1h-1zM536.4 113.5h1v1h-1zM452.2 153.2h1v1h-1zM471.4 152.2h1v1h-1zM475.1 151.3h1v1h-1zM512.0 173.3h1v1h-1zM458.4 89.2h1v1h-1zM458.7 128.0h1v1h-1zM448.9 128.3h1v1h-1zM484.5 172.1h1v1h-1zM532.1 152.1h1v1h-1zM504.9 140.2h1v1h-1zM470.8 146.7h1v1h-1zM516.1 113.8h1v1h-1zM526.8 114.5h1v1h-1zM533.4 117.6h1v1h-1zM471.0 97.3h1v1h-1zM449.6 121.3h1v1h-1zM494.7 165.4h1v1h-1zM465.3 128.5h1v1h-1zM528.2 134.2h1v1h-1zM476.5 131.2h1v1h-1zM513.4 170.6h1v1h-1zM494.7 161.7h1v1h-1zM468.3 124.8h1v1h-1zM512.6 116.4h1v1h-1zM557.7 149.7h1v1h-1zM487.9 124.5h1v1h-1zM497.8 116.4h1v1h-1zM537.1 121.7h1v1h-1zM482.4 115.9h1v1h-1zM432.8 117.7h1v1h-1zM464.5 121.1h1v1h-1zM493.9 146.2h1v1h-1zM448.8 139.0h1v1h-1zM497.0 139.9h1v1h-1zM501.7 109.6h1v1h-1zM570.1 121.2h1v1h-1zM498.3 168.4h1v1h-1zM485.8 135.5h1v1h-1zM507.6 161.4h1v1h-1zM492.2 129.9h1v1h-1zM512.9 177.6h1v1h-1zM496.9 97.9h1v1h-1zM454.2 115.4h1v1h-1zM473.5 148.0h1v1h-1zM481.5 102.7h1v1h-1zM513.0 84.4h1v1h-1zM496.2 110.4h1v1h-1zM477.5 116.3h1v1h-1zM549.0 105.7h1v1h-1zM483.7 130.6h1v1h-1zM530.3 140.2h1v1h-1zM514.1 131.8h1v1h-1zM478.5 155.5h1v1h-1zM488.9 116.0h1v1h-1zM521.1 151.8h1v1h-1zM478.6 120.5h1v1h-1zM530.3 90.0h1v1h-1zM481.9 139.8h1v1h-1zM536.9 160.0h1v1h-1zM536.5 162.2h1v1h-1zM528.3 107.9h1v1h-1zM559.5 106.3h1v1h-1zM501.3 175.9h1v1h-1zM465.0 130.6h1v1h-1zM496.8 138.2h1v1h-1zM554.8 113.8h1v1h-1zM491.1 139.6h1v1h-1zM509.7 121.2h1v1h-1zM553.5 93.1h1v1h-1zM559.4 118.9h1v1h-1zM496.4 127.8h1v1h-1zM551.8 180.5h1v1h-1zM536.0 139.3h1v1h-1zM498.6 167.8h1v1h-1zM499.9 111.2h1v1h-1zM536.3 122.4h1v1h-1zM479.9 156.8h1v1h-1zM510.0 96.8h1v1h-1zM544.8 139.3h1v1h-1zM488.3 107.1h1v1h-1zM503.5 95.3h1v1h-1zM475.9 104.9h1v1h-1zM527.5 138.9h1v1h-1zM480.7 125.3h1v1h-1zM474.8 116.3h1v1h-1zM511.6 97.3h1v1h-1zM525.9 116.1h1v1h-1zM491.5 114.0h1v1h-1zM489.8 155.0h1v1h-1zM457.1 86.9h1v1h-1zM475.4 94.9h1v1h-1zM493.0 159.6h1v1h-1zM525.6 148.0h1v1h-1zM544.6 129.6h1v1h-1zM555.3 108.1h1v1h-1zM541.6 106.5h1v1h-1zM499.5 110.1h1v1h-1zM506.0 103.5h1v1h-1zM481.4 108.1h1v1h-1zM451.7 142.9h1v1h-1zM468.8 115.2h1v1h-1zM509.3 163.4h1v1h-1zM485.6 138.7h1v1h-1zM566.6 142.8h1v1h-1zM521.4 94.2h1v1h-1zM452.4 105.1h1v1h-1zM505.7 132.0h1v1h-1zM472.2 126.7h1v1h-1zM491.9 113.4h1v1h-1zM506.0 95.2h1v1h-1zM522.8 113.6h1v1h-1zM497.1 122.7h1v1h-1zM504.6 156.5h1v1h-1zM476.8 118.5h1v1h-1zM492.0 141.1h1v1h-1zM444.1 144.3h1v1h-1zM478.8 184.9h1v1h-1zM478.3 105.6h1v1h-1zM518.4 168.3h1v1h-1zM495.5 89.2h1v1h-1zM499.2 109.7h1v1h-1zM459.0 136.8h1v1h-1zM464.0 98.7h1v1h-1zM469.4 157.0h1v1h-1zM450.5 132.4h1v1h-1zM517.1 112.1h1v1h-1zM498.2 137.9h1v1h-1zM546.2 88.7h1v1h-1zM478.2 154.1h1v1h-1zM493.0 100.3h1v1h-1zM551.6 105.5h1v1h-1zM471.5 161.0h1v1h-1zM495.4 143.7h1v1h-1zM493.4 83.3h1v1h-1zM487.5 147.8h1v1h-1zM502.7 130.5h1v1h-1zM455.2 169.5h1v1h-1zM501.8 112.5h1v1h-1zM567.1 115.0h1v1h-1zM574.5 141.2h1v1h-1zM498.0 160.9h1v1h-1zM487.2 104.0h1v1h-1zM448.0 139.7h1v1h-1zM494.4 115.0h1v1h-1zM536.8 150.3h1v1h-1zM447.2 129.2h1v1h-1zM530.3 144.8h1v1h-1zM488.8 148.3h1v1h-1zM530.4 107.0h1v1h-1zM487.7 149.0h1v1h-1zM581.0 110.0h1v1h-1zM497.0 105.4h1v1h-1zM489.6 140.9h1v1h-1zM503.7 120.9h1v1h-1zM492.5 95.7h1v1h-1zM492.1 103.9h1v1h-1zM551.2 152.2h1v1h-1zM494.7 127.4h1v1h-1zM541.3 95.8h1v1h-1zM471.5 126.8h1v1h-1zM513.1 127.9h1v1h-1zM474.2 102.8h1v1h-1zM474.0 132.6h1v1h-1zM485.4 119.1h1v1h-1zM511.2 123.0h1v1h-1zM497.8 94.8h1v1h-1zM462.8 148.2h1v1h-1zM488.6 104.3h1v1h-1zM523.1 140.3h1v1h-1zM538.0 135.9h1v1h-1zM504.7 123.8h1v1h-1zM518.7 150.9h1v1h-1zM475.2 115.5h1v1h-1zM548.2 148.3h1v1h-1zM531.4 91.6h1v1h-1zM529.4 134.0h1v1h-1zM513.2 128.4h1v1h-1zM578.9 114.0h1v1h-1zM526.9 142.0h1v1h-1zM509.8 116.0h1v1h-1zM509.5 111.7h1v1h-1zM498.2 124.8h1v1h-1zM458.9 100.1h1v1h-1zM443.5 155.4h1v1h-1zM505.2 114.4h1v1h-1zM455.2 151.8h1v1h-1zM463.2 132.4h1v1h-1zM477.7 127.3h1v1h-1zM466.4 137.8h1v1h-1zM495.1 122.2h1v1h-1zM492.5 137.1h1v1h-1zM529.0 145.3h1v1h-1zM573.8 118.0h1v1h-1zM486.9 123.2h1v1h-1zM519.4 107.8h1v1h-1zM530.2 147.6h1v1h-1zM524.9 125.5h1v1h-1zM470.8 117.3h1v1h-1zM515.0 119.6h1v1h-1zM473.9 145.8h1v1h-1zM519.8 115.9h1v1h-1zM468.3 152.7h1v1h-1zM511.6 144.1h1v1h-1zM505.5 117.9h1v1h-1zM519.0 111.7h1v1h-1zM511.8 100.8h1v1h-1zM488.3 95.6h1v1h-1zM505.0 133.1h1v1h-1zM518.8 125.2h1v1h-1zM526.8 123.5h1v1h-1zM566.3 185.1h1v1h-1zM466.5 124.5h1v1h-1zM476.1 97.9h1v1h-1zM472.7 139.2h1v1h-1zM466.0 123.7h1v1h-1zM524.1 105.2h1v1h-1zM496.3 95.8h1v1h-1zM483.1 127.7h1v1h-1zM536.2 150.6h1v1h-1zM532.0 100.9h1v1h-1zM508.6 111.9h1v1h-1zM512.4 111.0h1v1h-1zM443.2 182.1h1v1h-1zM440.7 141.3h1v1h-1zM554.6 144.4h1v1h-1zM529.9 131.6h1v1h-1zM477.9 146.9h1v1h-1zM508.5 153.8h1v1h-1zM556.4 110.9h1v1h-1zM500.9 127.7h1v1h-1zM482.2 151.3h1v1h-1zM512.9 115.4h1v1h-1zM477.3 151.4h1v1h-1zM482.1 93.2h1v1h-1zM502.7 132.5h1v1h-1zM505.4 120.7h1v1h-1zM571.1 121.4h1v1h-1zM506.5 169.9h1v1h-1zM509.7 102.3h1v1h-1zM536.9 92.3h1v1h-1zM461.1 178.5h1v1h-1zM476.8 131.6h1v1h-1zM524.4 147.7h1v1h-1zM498.4 125.0h1v1h-1zM489.7 130.7h1v1h-1zM478.0 151.4h1v1h-1zM543.5 111.3h1v1h-1zM484.3 110.8h1v1h-1zM500.2 175.5h1v1h-1zM585.6 112.9h1v1h-1zM548.6 102.1h1v1h-1zM574.3 130.4h1v1h-1zM517.5 113.1h1v1h-1zM511.3 106.8h1v1h-1zM532.8 141.2h1v1h-1zM537.2 120.8h1v1h-1zM495.9 141.4h1v1h-1zM503.9 155.6h1v1h-1zM512.5 135.5h1v1h-1zM518.9 126.8h1v1h-1zM466.7 127.4h1v1h-1zM576.4 157.8h1v1h-1zM547.2 138.3h1v1h-1zM498.4 141.7h1v1h-1zM489.8 107.0h1v1h-1zM547.5 94.5h1v1h-1zM480.3 127.5h1v1h-1zM490.5 110.7h1v1h-1zM534.8 120.4h1v1h-1zM508.9 136.9h1v1h-1zM524.8 163.7h1v1h-1zM515.8 127.0h1v1h-1zM439.2 141.8h1v1h-1zM434.8 163.6h1v1h-1zM503.0 125.0h1v1h-1zM485.6 125.3h1v1h-1zM503.2 108.3h1v1h-1zM464.5 122.5h1v1h-1zM551.6 116.6h1v1h-1zM433.5 189.2h1v1h-1zM486.0 109.3h1v1h-1zM462.3 151.5h1v1h-1zM474.0 143.0h1v1h-1zM435.9 134.9h1v1h-1zM498.9 112.8h1v1h-1zM534.6 130.6h1v1h-1zM472.0 136.3h1v1h-1zM473.4 101.7h1v1h-1zM505.7 131.0h1v1h-1zM576.3 160.5h1v1h-1zM492.8 158.4h1v1h-1zM559.7 163.4h1v1h-1zM498.2 95.6h1v1h-1zM471.6 110.2h1v1h-1zM514.0 127.4h1v1h-1zM522.4 139.3h1v1h-1zM513.6 131.9h1v1h-1zM512.6 130.2h1v1h-1zM516.9 148.5h1v1h-1zM486.2 137.8h1v1h-1zM512.2 129.5h1v1h-1zM518.5 134.2h1v1h-1zM519.5 135.1h1v1h-1zM512.4 127.1h1v1h-1zM512.7 136.5h1v1h-1zM511.5 136.8h1v1h-1zM514.5 130.9h1v1h-1zM510.9 136.8h1v1h-1zM519.5 136.3h1v1h-1zM516.7 135.0h1v1h-1zM507.5 124.8h1v1h-1zM513.7 136.9h1v1h-1zM518.1 148.8h1v1h-1zM512.6 133.9h1v1h-1zM516.9 139.0h1v1h-1zM513.8 134.1h1v1h-1zM508.3 138.7h1v1h-1zM519.4 126.2h1v1h-1zM514.6 138.6h1v1h-1zM515.0 137.1h1v1h-1zM512.1 141.1h1v1h-1zM522.9 132.8h1v1h-1zM515.1 137.6h1v1h-1zM513.5 150.2h1v1h-1zM512.2 130.9h1v1h-1zM514.0 134.3h1v1h-1zM510.6 137.7h1v1h-1zM512.1 127.5h1v1h-1zM509.5 132.1h1v1h-1zM514.9 141.5h1v1h-1zM512.6 131.8h1v1h-1zM509.9 134.7h1v1h-1zM516.9 134.5h1v1h-1zM507.5 134.7h1v1h-1zM513.4 139.5h1v1h-1zM519.4 138.1h1v1h-1zM518.1 129.7h1v1h-1zM519.1 132.4h1v1h-1zM514.0 104.1h1v1h-1zM508.1 137.9h1v1h-1zM514.9 126.4h1v1h-1zM508.5 134.7h1v1h-1zM512.4 135.1h1v1h-1zM504.3 127.6h1v1h-1zM520.2 131.6h1v1h-1zM514.2 132.8h1v1h-1zM517.5 131.4h1v1h-1zM495.0 134.7h1v1h-1zM516.9 136.5h1v1h-1zM512.6 125.2h1v1h-1zM505.2 130.3h1v1h-1zM509.7 135.7h1v1h-1zM513.5 139.8h1v1h-1zM518.5 138.5h1v1h-1zM507.7 132.9h1v1h-1zM514.0 136.5h1v1h-1zM514.2 138.2h1v1h-1zM519.3 132.6h1v1h-1zM521.2 138.7h1v1h-1zM514.2 130.5h1v1h-1zM504.2 135.8h1v1h-1zM514.6 127.3h1v1h-1zM513.7 140.4h1v1h-1zM513.1 136.7h1v1h-1zM513.8 141.9h1v1h-1zM512.0 132.6h1v1h-1zM519.8 135.3h1v1h-1zM519.5 133.1h1v1h-1zM515.3 132.8h1v1h-1zM514.9 138.0h1v1h-1zM520.1 134.9h1v1h-1zM512.3 137.5h1v1h-1zM506.0 128.3h1v1h-1zM514.5 132.3h1v1h-1zM512.9 134.5h1v1h-1zM499.1 136.2h1v1h-1zM500.5 133.5h1v1h-1zM513.4 138.3h1v1h-1zM514.0 138.7h1v1h-1zM507.2 136.0h1v1h-1zM522.1 130.0h1v1h-1zM513.0 132.8h1v1h-1zM511.2 133.3h1v1h-1zM512.7 131.7h1v1h-1zM511.5 136.6h1v1h-1zM518.7 133.4h1v1h-1zM506.9 137.0h1v1h-1zM518.7 131.1h1v1h-1zM507.1 135.0h1v1h-1zM508.0 137.5h1v1h-1zM511.6 132.5h1v1h-1zM509.9 138.6h1v1h-1zM521.5 136.9h1v1h-1zM513.2 139.6h1v1h-1zM505.5 126.6h1v1h-1zM506.5 128.0h1v1h-1zM524.8 133.3h1v1h-1zM529.8 143.1h1v1h-1zM514.6 137.9h1v1h-1zM505.2 133.6h1v1h-1zM512.1 133.8h1v1h-1zM513.0 133.3h1v1h-1zM508.8 135.0h1v1h-1zM509.1 136.5h1v1h-1zM511.4 145.1h1v1h-1zM518.8 129.8h1v1h-1zM508.5 135.2h1v1h-1zM507.2 138.5h1v1h-1zM517.0 132.4h1v1h-1zM509.9 133.0h1v1h-1zM513.4 126.6h1v1h-1zM515.4 145.3h1v1h-1zM515.4 140.3h1v1h-1zM513.3 131.5h1v1h-1zM513.1 132.2h1v1h-1zM513.5 132.7h1v1h-1zM518.5 132.6h1v1h-1zM526.0 125.0h1v1h-1zM511.7 136.1h1v1h-1zM512.5 132.8h1v1h-1zM513.1 144.6h1v1h-1zM522.2 133.9h1v1h-1zM499.6 134.0h1v1h-1zM524.8 138.3h1v1h-1zM516.1 140.7h1v1h-1zM514.0 135.1h1v1h-1zM508.8 137.4h1v1h-1zM511.8 143.3h1v1h-1zM512.3 139.4h1v1h-1zM516.6 132.3h1v1h-1zM497.4 137.8h1v1h-1zM511.9 135.8h1v1h-1zM513.4 128.0h1v1h-1zM517.0 133.7h1v1h-1zM507.5 134.1h1v1h-1zM521.2 134.3h1v1h-1zM509.1 134.5h1v1h-1zM518.5 126.3h1v1h-1zM508.2 130.4h1v1h-1zM506.5 139.2h1v1h-1zM504.8 131.9h1v1h-1zM515.1 133.6h1v1h-1zM514.5 140.5h1v1h-1zM513.4 134.0h1v1h-1zM517.7 136.4h1v1h-1zM512.9 135.6h1v1h-1zM510.9 134.4h1v1h-1zM506.5 132.7h1v1h-1zM507.6 130.9h1v1h-1zM510.4 142.8h1v1h-1zM516.2 133.8h1v1h-1zM513.7 135.7h1v1h-1zM511.6 132.8h1v1h-1zM513.8 133.5h1v1h-1zM521.0 114.9h1v1h-1zM515.9 137.3h1v1h-1zM513.7 144.7h1v1h-1zM519.6 137.2h1v1h-1zM514.3 138.9h1v1h-1zM508.7 141.5h1v1h-1zM515.4 150.3h1v1h-1zM515.1 143.2h1v1h-1zM525.9 136.1h1v1h-1zM506.6 129.7h1v1h-1zM516.4 135.4h1v1h-1zM499.8 136.4h1v1h-1zM511.3 141.3h1v1h-1zM518.6 136.6h1v1h-1zM533.3 129.0h1v1h-1zM510.2 135.5h1v1h-1zM515.8 132.6h1v1h-1zM507.9 138.8h1v1h-1zM500.0 135.5h1v1h-1zM519.7 134.2h1v1h-1zM510.8 131.5h1v1h-1zM508.5 137.7h1v1h-1zM499.6 133.0h1v1h-1zM517.9 132.2h1v1h-1zM514.8 135.4h1v1h-1zM508.3 130.9h1v1h-1zM521.5 134.1h1v1h-1zM510.6 131.7h1v1h-1zM514.4 140.1h1v1h-1zM514.9 138.7h1v1h-1zM514.3 135.8h1v1h-1zM505.9 138.8h1v1h-1zM520.3 129.2h1v1h-1zM510.1 135.9h1v1h-1zM507.5 133.7h1v1h-1zM495.9 137.1h1v1h-1zM510.8 136.5h1v1h-1zM514.0 128.7h1v1h-1zM513.7 143.8h1v1h-1zM515.3 130.6h1v1h-1zM512.7 132.5h1v1h-1zM516.6 139.4h1v1h-1zM519.2 135.1h1v1h-1zM509.7 139.9h1v1h-1zM510.9 135.4h1v1h-1zM512.1 134.3h1v1h-1zM500.7 132.8h1v1h-1zM512.5 136.1h1v1h-1zM519.3 131.0h1v1h-1zM515.1 132.9h1v1h-1zM517.8 145.6h1v1h-1zM519.2 138.9h1v1h-1zM515.7 127.0h1v1h-1zM512.9 137.4h1v1h-1zM510.9 141.5h1v1h-1zM503.6 136.2h1v1h-1zM513.0 133.9h1v1h-1zM509.7 136.4h1v1h-1zM513.0 139.9h1v1h-1zM511.3 132.1h1v1h-1zM518.7 133.0h1v1h-1zM516.0 141.1h1v1h-1zM518.7 123.6h1v1h-1zM509.5 132.4h1v1h-1zM501.9 136.7h1v1h-1zM503.7 139.9h1v1h-1zM510.1 134.8h1v1h-1zM513.9 141.3h1v1h-1zM510.1 140.6h1v1h-1zM517.4 134.6h1v1h-1zM508.7 136.3h1v1h-1zM513.3 141.6h1v1h-1zM515.1 134.8h1v1h-1zM528.2 136.6h1v1h-1zM520.4 130.9h1v1h-1zM509.0 140.5h1v1h-1zM510.0 128.7h1v1h-1zM520.0 136.9h1v1h-1zM510.5 134.6h1v1h-1zM520.7 134.7h1v1h-1zM514.3 137.5h1v1h-1zM512.4 128.4h1v1h-1zM514.8 141.2h1v1h-1zM512.7 147.2h1v1h-1zM510.7 139.7h1v1h-1zM511.3 131.4h1v1h-1zM544.5 131.4h1v1h-1zM507.8 133.1h1v1h-1zM507.8 133.8h1v1h-1zM514.9 132.2h1v1h-1zM513.4 134.6h1v1h-1zM516.2 128.7h1v1h-1zM513.1 138.9h1v1h-1zM512.4 130.8h1v1h-1zM512.7 129.3h1v1h-1zM517.3 140.8h1v1h-1zM513.6 137.8h1v1h-1zM516.8 152.3h1v1h-1zM514.4 134.6h1v1h-1zM512.8 130.4h1v1h-1zM514.1 137.5h1v1h-1zM510.4 136.9h1v1h-1zM514.9 134.5h1v1h-1zM517.4 134.9h1v1h-1zM520.0 135.9h1v1h-1zM512.5 141.8h1v1h-1zM513.5 111.0h1v1h-1zM507.8 132.6h1v1h-1zM504.5 136.5h1v1h-1zM518.8 138.2h1v1h-1zM510.2 137.9h1v1h-1zM513.0 141.3h1v1h-1zM512.9 149.6h1v1h-1zM514.2 138.9h1v1h-1zM512.0 129.9h1v1h-1zM513.8 136.8h1v1h-1zM510.1 130.8h1v1h-1zM512.6 134.7h1v1h-1zM513.0 131.2h1v1h-1zM519.2 133.7h1v1h-1zM521.8 134.4h1v1h-1zM510.8 129.1h1v1h-1zM515.6 134.4h1v1h-1zM499.8 134.4h1v1h-1zM531.2 145.4h1v1h-1zM509.1 141.3h1v1h-1zM507.5 134.8h1v1h-1zM515.7 137.9h1v1h-1zM502.6 136.8h1v1h-1zM516.7 134.0h1v1h-1zM515.1 136.0h1v1h-1zM513.1 136.8h1v1h-1zM507.8 141.8h1v1h-1zM513.4 129.3h1v1h-1zM508.6 127.6h1v1h-1zM510.4 147.0h1v1h-1zM511.3 135.2h1v1h-1zM508.8 139.0h1v1h-1zM509.1 130.0h1v1h-1zM506.6 143.2h1v1h-1zM509.3 130.5h1v1h-1zM503.1 134.7h1v1h-1zM531.7 133.3h1v1h-1zM513.7 125.3h1v1h-1zM516.2 132.9h1v1h-1zM516.4 124.6h1v1h-1zM508.1 135.3h1v1h-1zM510.3 142.2h1v1h-1zM517.3 133.9h1v1h-1zM521.1 135.5h1v1h-1zM517.9 133.7h1v1h-1zM514.8 134.1h1v1h-1zM511.8 137.1h1v1h-1zM509.0 138.5h1v1h-1zM514.5 141.2h1v1h-1zM516.6 136.7h1v1h-1zM506.0 141.7h1v1h-1zM506.0 138.4h1v1h-1zM519.5 145.8h1v1h-1zM518.3 134.3h1v1h-1zM512.7 136.8h1v1h-1zM516.3 110.7h1v1h-1zM515.8 129.6h1v1h-1zM515.3 126.2h1v1h-1zM509.6 146.5h1v1h-1zM522.8 138.6h1v1h-1zM514.4 132.8h1v1h-1zM515.9 135.9h1v1h-1zM513.4 122.3h1v1h-1zM516.1 133.7h1v1h-1zM512.0 131.4h1v1h-1zM504.7 133.8h1v1h-1zM508.9 135.8h1v1h-1zM525.5 134.6h1v1h-1zM507.5 131.3h1v1h-1zM513.5 136.3h1v1h-1zM527.0 128.3h1v1h-1zM507.0 128.8h1v1h-1zM511.9 127.9h1v1h-1zM525.9 126.1h1v1h-1zM512.4 121.6h1v1h-1zM513.2 146.3h1v1h-1zM507.4 132.0h1v1h-1zM507.9 151.1h1v1h-1zM515.4 124.2h1v1h-1zM512.2 138.8h1v1h-1zM511.4 134.5h1v1h-1zM505.1 130.8h1v1h-1zM496.2 138.1h1v1h-1zM514.3 134.9h1v1h-1zM515.0 139.0h1v1h-1zM522.4 132.2h1v1h-1zM522.0 141.0h1v1h-1zM517.3 138.4h1v1h-1zM513.0 132.7h1v1h-1zM521.8 134.8h1v1h-1zM507.8 134.8h1v1h-1zM520.4 138.0h1v1h-1zM517.4 133.2h1v1h-1zM517.0 142.4h1v1h-1zM507.2 134.1h1v1h-1zM508.8 133.2h1v1h-1zM490.3 138.0h1v1h-1zM511.7 137.8h1v1h-1zM509.8 138.8h1v1h-1zM516.1 124.1h1v1h-1zM510.3 140.1h1v1h-1zM501.5 133.7h1v1h-1zM510.3 134.0h1v1h-1zM509.4 132.9h1v1h-1zM515.4 135.7h1v1h-1zM513.2 135.2h1v1h-1zM515.6 133.8h1v1h-1zM513.7 118.9h1v1h-1zM499.1 133.6h1v1h-1zM513.5 135.8h1v1h-1zM519.4 124.2h1v1h-1zM526.6 148.4h1v1h-1zM515.9 119.7h1v1h-1zM497.3 140.2h1v1h-1zM518.4 137.9h1v1h-1zM512.0 143.1h1v1h-1zM511.7 135.7h1v1h-1zM506.7 135.0h1v1h-1zM513.5 137.7h1v1h-1zM519.9 131.2h1v1h-1zM515.4 133.6h1v1h-1zM512.2 129.2h1v1h-1zM510.0 142.6h1v1h-1zM510.1 132.1h1v1h-1zM504.1 131.9h1v1h-1zM513.3 130.9h1v1h-1zM510.9 133.2h1v1h-1zM509.1 135.4h1v1h-1zM522.3 146.7h1v1h-1zM504.3 126.6h1v1h-1zM506.9 131.2h1v1h-1zM504.6 133.4h1v1h-1zM510.2 137.5h1v1h-1zM517.3 133.6h1v1h-1zM512.7 133.6h1v1h-1zM507.9 127.1h1v1h-1zM522.6 135.8h1v1h-1zM510.5 135.9h1v1h-1zM509.1 134.0h1v1h-1zM513.6 142.8h1v1h-1zM510.4 136.6h1v1h-1zM515.4 128.7h1v1h-1zM512.0 132.1h1v1h-1zM518.4 135.9h1v1h-1zM506.3 131.2h1v1h-1zM503.0 133.2h1v1h-1zM513.2 124.9h1v1h-1zM508.2 129.2h1v1h-1zM513.9 125.1h1v1h-1zM515.7 145.1h1v1h-1zM507.1 137.6h1v1h-1zM509.7 134.7h1v1h-1zM509.6 133.4h1v1h-1zM514.3 136.7h1v1h-1zM511.1 138.0h1v1h-1zM521.2 137.6h1v1h-1zM508.6 135.7h1v1h-1zM522.9 131.3h1v1h-1zM515.8 143.1h1v1h-1zM509.1 144.8h1v1h-1zM513.6 128.9h1v1h-1zM511.2 154.3h1v1h-1zM515.4 132.6h1v1h-1zM515.8 122.0h1v1h-1zM516.6 128.4h1v1h-1zM520.7 135.3h1v1h-1zM513.8 142.5h1v1h-1zM520.4 139.7h1v1h-1zM514.6 120.4h1v1h-1zM515.2 140.6h1v1h-1zM511.7 141.0h1v1h-1zM512.3 138.3h1v1h-1zM524.3 150.1h1v1h-1zM506.0 136.1h1v1h-1zM510.8 134.9h1v1h-1zM511.8 128.4h1v1h-1zM524.3 130.4h1v1h-1zM506.9 126.6h1v1h-1zM516.0 136.5h1v1h-1zM528.6 132.0h1v1h-1zM514.2 130.0h1v1h-1zM516.0 141.4h1v1h-1zM506.3 133.5h1v1h-1zM529.0 134.9h1v1h-1zM521.9 136.5h1v1h-1zM519.4 137.5h1v1h-1zM519.3 133.5h1v1h-1zM516.5 131.8h1v1h-1zM520.3 141.2h1v1h-1zM517.2 141.3h1v1h-1zM513.6 143.6h1v1h-1zM517.5 130.7h1v1h-1zM507.7 147.5h1v1h-1zM509.8 134.0h1v1h-1zM512.3 140.9h1v1h-1zM511.7 124.4h1v1h-1zM529.8 137.8h1v1h-1zM513.1 141.0h1v1h-1zM521.1 140.1h1v1h-1zM514.2 131.7h1v1h-1zM522.6 136.5h1v1h-1zM507.4 137.6h1v1h-1zM517.0 135.5h1v1h-1zM525.2 134.6h1v1h-1zM500.2 137.1h1v1h-1zM515.7 131.0h1v1h-1zM502.0 128.8h1v1h-1zM517.9 131.5h1v1h-1zM523.2 123.3h1v1h-1zM502.8 137.4h1v1h-1zM517.9 143.7h1v1h-1zM517.7 125.2h1v1h-1zM506.3 134.1h1v1h-1zM513.3 144.8h1v1h-1zM517.4 136.0h1v1h-1zM494.0 133.8h1v1h-1zM514.7 128.6h1v1h-1zM516.1 128.2h1v1h-1zM511.8 135.3h1v1h-1zM512.9 125.7h1v1h-1zM514.3 121.3h1v1h-1zM515.1 139.3h1v1h-1zM512.7 99.2h1v1h-1zM515.3 94.5h1v1h-1zM513.8 121.5h1v1h-1zM512.2 114.4h1v1h-1zM512.1 86.4h1v1h-1zM514.3 141.9h1v1h-1zM513.4 99.7h1v1h-1zM512.6 111.9h1v1h-1zM513.0 107.8h1v1h-1zM513.6 93.5h1v1h-1zM513.7 124.7h1v1h-1zM515.7 141.0h1v1h-1zM515.5 139.8h1v1h-1zM513.8 143.9h1v1h-1zM514.7 143.6h1v1h-1zM514.1 157.2h1v1h-1zM514.6 149.1h1v1h-1zM514.1 146.1h1v1h-1zM514.6 167.3h1v1h-1zM515.9 135.3h1v1h-1zM512.5 120.7h1v1h-1zM512.9 119.8h1v1h-1zM517.9 127.8h1v1h-1zM514.9 140.1h1v1h-1zM511.2 144.5h1v1h-1zM513.2 182.4h1v1h-1zM513.4 95.9h1v1h-1zM516.5 128.9h1v1h-1zM513.7 125.1h1v1h-1zM517.6 129.5h1v1h-1zM515.4 114.1h1v1h-1zM514.7 152.2h1v1h-1zM512.7 137.9h1v1h-1zM514.7 165.1h1v1h-1zM514.5 145.0h1v1h-1zM512.2 137.9h1v1h-1zM513.4 153.5h1v1h-1zM511.3 127.0h1v1h-1zM514.2 147.7h1v1h-1zM514.7 150.8h1v1h-1zM516.3 130.1h1v1h-1zM510.9 148.6h1v1h-1zM514.1 103.3h1v1h-1zM516.3 109.9h1v1h-1zM514.8 99.4h1v1h-1zM515.4 112.2h1v1h-1zM512.4 123.8h1v1h-1zM513.8 147.1h1v1h-1zM513.8 140.9h1v1h-1zM513.2 131.4h1v1h-1zM513.6 168.2h1v1h-1zM513.9 145.0h1v1h-1zM513.4 133.5h1v1h-1zM511.8 145.8h1v1h-1zM513.3 147.0h1v1h-1zM512.5 116.2h1v1h-1zM512.7 125.3h1v1h-1zM509.9 155.8h1v1h-1zM513.4 120.5h1v1h-1zM515.8 138.7h1v1h-1zM514.1 118.0h1v1h-1zM513.2 138.5h1v1h-1zM514.9 116.5h1v1h-1zM513.6 102.5h1v1h-1zM513.9 106.5h1v1h-1zM514.6 102.8h1v1h-1zM513.3 121.9h1v1h-1zM516.1 127.3h1v1h-1zM512.0 139.6h1v1h-1zM513.7 134.9h1v1h-1zM514.5 105.0h1v1h-1zM512.3 160.5h1v1h-1zM514.3 154.2h1v1h-1zM513.7 145.7h1v1h-1zM513.3 87.7h1v1h-1zM516.9 147.5h1v1h-1zM513.8 136.1h1v1h-1zM513.8 148.9h1v1h-1zM513.0 112.8h1v1h-1zM513.7 159.3h1v1h-1zM513.8 127.1h1v1h-1zM514.3 109.9h1v1h-1zM513.9 170.4h1v1h-1zM514.1 121.9h1v1h-1zM514.2 161.2h1v1h-1zM515.9 130.2h1v1h-1zM512.4 167.2h1v1h-1zM514.3 135.5h1v1h-1zM512.8 153.1h1v1h-1zM510.6 129.4h1v1h-1zM513.9 117.3h1v1h-1zM516.8 120.2h1v1h-1zM512.5 140.1h1v1h-1zM511.5 156.3h1v1h-1zM514.2 93.5h1v1h-1zM515.8 157.8h1v1h-1zM513.9 125.9h1v1h-1zM512.0 124.3h1v1h-1zM516.3 141.9h1v1h-1zM514.3 149.6h1v1h-1zM513.8 140.1h1v1h-1zM517.2 144.4h1v1h-1zM510.8 159.0h1v1h-1zM515.2 125.5h1v1h-1zM512.5 104.8h1v1h-1zM513.4 112.8h1v1h-1zM518.6 128.6h1v1h-1zM512.4 104.5h1v1h-1zM513.9 123.5h1v1h-1zM513.8 159.6h1v1h-1zM512.3 182.2h1v1h-1zM514.3 153.6h1v1h-1zM512.6 110.3h1v1h-1zM513.8 129.2h1v1h-1zM514.7 144.7h1v1h-1zM515.1 146.8h1v1h-1zM514.3 141.7h1v1h-1zM511.6 161.5h1v1h-1zM513.8 123.0h1v1h-1zM511.4 150.8h1v1h-1zM513.3 140.9h1v1h-1zM513.3 149.6h1v1h-1zM514.4 130.6h1v1h-1zM511.7 129.2h1v1h-1zM513.7 157.0h1v1h-1zM513.9 115.8h1v1h-1zM514.4 124.2h1v1h-1zM514.1 109.8h1v1h-1zM513.8 149.4h1v1h-1zM513.3 87.9h1v1h-1zM515.1 145.7h1v1h-1zM514.2 165.5h1v1h-1zM514.6 160.1h1v1h-1zM513.5 127.3h1v1h-1zM514.9 113.7h1v1h-1zM512.6 130.7h1v1h-1zM513.8 144.3h1v1h-1zM513.2 140.3h1v1h-1zM514.0 148.5h1v1h-1zM512.3 143.8h1v1h-1zM512.5 124.7h1v1h-1zM515.8 110.7h1v1h-1zM512.9 126.6h1v1h-1zM515.2 144.8h1v1h-1zM514.5 164.4h1v1h-1zM511.8 139.8h1v1h-1zM512.3 122.0h1v1h-1zM513.9 129.6h1v1h-1zM511.3 113.5h1v1h-1zM513.3 118.1h1v1h-1zM515.8 167.8h1v1h-1zM511.4 146.5h1v1h-1zM513.3 151.4h1v1h-1zM515.0 130.0h1v1h-1zM514.5 150.5h1v1h-1zM514.4 132.1h1v1h-1zM512.9 120.5h1v1h-1zM512.8 146.1h1v1h-1zM515.6 119.3h1v1h-1zM515.5 137.1h1v1h-1zM514.0 159.0h1v1h-1zM512.4 139.2h1v1h-1zM514.1 123.8h1v1h-1zM514.9 149.4h1v1h-1zM513.4 111.7h1v1h-1zM516.0 122.5h1v1h-1zM512.4 108.7h1v1h-1zM514.7 148.3h1v1h-1zM512.7 108.8h1v1h-1zM513.7 106.8h1v1h-1zM512.3 119.5h1v1h-1zM512.7 159.0h1v1h-1zM514.9 126.0h1v1h-1zM514.5 119.9h1v1h-1zM516.0 139.4h1v1h-1zM513.2 155.5h1v1h-1zM514.9 170.0h1v1h-1zM514.3 154.5h1v1h-1zM514.5 103.8h1v1h-1zM515.4 142.0h1v1h-1zM514.4 129.7h1v1h-1zM513.0 142.8h1v1h-1zM514.4 147.1h1v1h-1zM514.0 151.9h1v1h-1zM513.8 153.1h1v1h-1zM513.3 156.6h1v1h-1zM512.8 148.8h1v1h-1zM516.0 149.7h1v1h-1zM513.0 148.5h1v1h-1zM516.9 138.7h1v1h-1zM514.7 150.0h1v1h-1zM513.4 121.1h1v1h-1zM516.2 144.6h1v1h-1zM514.4 116.5h1v1h-1zM516.4 116.6h1v1h-1zM515.8 103.2h1v1h-1zM512.8 119.3h1v1h-1zM513.5 165.0h1v1h-1zM517.2 112.6h1v1h-1zM508.6 142.2h1v1h-1zM514.2 122.4h1v1h-1zM513.1 128.8h1v1h-1zM512.8 154.3h1v1h-1zM512.8 142.0h1v1h-1zM513.2 102.7h1v1h-1zM512.1 119.6h1v1h-1zM514.4 153.1h1v1h-1zM515.8 156.2h1v1h-1zM513.4 157.7h1v1h-1zM514.4 142.3h1v1h-1zM515.7 132.1h1v1h-1zM514.3 181.2h1v1h-1zM513.5 138.9h1v1h-1zM515.1 120.6h1v1h-1zM514.4 104.3h1v1h-1zM514.8 143.7h1v1h-1zM513.0 124.3h1v1h-1zM513.6 132.9h1v1h-1zM515.2 159.4h1v1h-1zM514.1 139.4h1v1h-1zM513.9 110.9h1v1h-1zM512.9 113.8h1v1h-1zM516.4 147.1h1v1h-1zM514.6 155.3h1v1h-1zM514.4 162.6h1v1h-1zM516.0 131.3h1v1h-1zM514.8 128.2h1v1h-1zM510.6 140.3h1v1h-1zM512.9 100.7h1v1h-1zM514.3 111.2h1v1h-1zM513.7 161.1h1v1h-1zM514.4 122.2h1v1h-1zM514.8 143.8h1v1h-1zM514.8 107.5h1v1h-1zM514.5 148.2h1v1h-1zM514.7 169.4h1v1h-1zM513.4 155.5h1v1h-1zM514.1 159.9h1v1h-1zM511.6 137.6h1v1h-1zM515.4 156.7h1v1h-1zM513.1 136.1h1v1h-1zM510.1 103.2h1v1h-1zM515.4 130.2h1v1h-1zM513.5 111.9h1v1h-1zM512.3 127.4h1v1h-1zM517.3 118.9h1v1h-1zM513.6 123.4h1v1h-1zM513.3 118.7h1v1h-1zM514.4 145.8h1v1h-1zM516.1 125.8h1v1h-1zM513.9 106.2h1v1h-1zM514.2 151.4h1v1h-1zM512.5 145.7h1v1h-1zM514.5 115.7h1v1h-1zM512.5 145.1h1v1h-1zM515.9 156.8h1v1h-1zM514.8 179.8h1v1h-1zM512.9 122.4h1v1h-1zM512.9 126.9h1v1h-1zM514.8 166.1h1v1h-1zM513.3 103.9h1v1h-1zM513.8 186.2h1v1h-1zM515.4 129.0h1v1h-1zM513.0 121.5h1v1h-1zM513.8 112.8h1v1h-1zM511.3 142.8h1v1h-1zM512.5 185.1h1v1h-1zM516.9 125.8h1v1h-1zM511.7 118.2h1v1h-1zM518.7 132.1h1v1h-1zM510.8 146.4h1v1h-1zM512.3 102.5h1v1h-1zM514.2 100.9h1v1h-1zM512.7 97.2h1v1h-1zM514.0 157.7h1v1h-1zM514.0 106.8h1v1h-1zM514.3 171.6h1v1h-1zM511.2 125.0h1v1h-1zM513.7 146.6h1v1h-1zM514.8 165.0h1v1h-1zM513.7 124.0h1v1h-1zM515.5 125.7h1v1h-1zM514.4 176.0h1v1h-1zM515.4 163.3h1v1h-1zM513.1 142.6h1v1h-1zM514.1 114.5h1v1h-1zM511.7 130.1h1v1h-1zM513.4 91.1h1v1h-1zM515.6 121.1h1v1h-1zM513.0 150.1h1v1h-1zM509.8 118.6h1v1h-1zM510.8 141.1h1v1h-1zM514.2 131.1h1v1h-1zM514.0 156.5h1v1h-1zM514.8 93.2h1v1h-1zM514.1 107.4h1v1h-1zM510.3 126.2h1v1h-1zM514.6 137.2h1v1h-1zM511.2 139.0h1v1h-1zM512.4 101.0h1v1h-1zM514.2 143.5h1v1h-1zM515.4 168.2h1v1h-1zM513.7 123.0h1v1h-1zM513.0 153.6h1v1h-1zM512.9 150.6h1v1h-1zM515.3 143.0h1v1h-1zM513.9 125.5h1v1h-1zM516.8 130.4h1v1h-1zM515.2 94.9h1v1h-1zM516.0 161.5h1v1h-1zM518.8 149.0h1v1h-1zM515.6 122.8h1v1h-1zM514.0 146.5h1v1h-1zM515.3 149.2h1v1h-1zM513.4 121.7h1v1h-1zM510.7 118.1h1v1h-1zM513.7 119.4h1v1h-1zM515.4 126.7h1v1h-1zM513.5 102.1h1v1h-1zM514.7 87.6h1v1h-1zM518.9 113.5h1v1h-1zM512.7 127.8h1v1h-1zM512.7 143.0h1v1h-1zM514.5 133.6h1v1h-1zM512.0 133.2h1v1h-1zM512.6 151.1h1v1h-1zM517.4 155.5h1v1h-1zM514.7 106.2h1v1h-1zM517.1 130.1h1v1h-1zM512.3 153.2h1v1h-1zM512.0 167.4h1v1h-1zM515.0 136.6h1v1h-1zM513.3 152.9h1v1h-1zM513.3 115.8h1v1h-1zM513.8 152.3h1v1h-1zM514.2 180.0h1v1h-1zM515.4 136.1h1v1h-1zM515.8 97.3h1v1h-1zM515.0 132.4h1v1h-1zM513.8 120.7h1v1h-1zM513.3 166.3h1v1h-1zM512.9 187.6h1v1h-1zM513.3 86.3h1v1h-1zM516.0 165.9h1v1h-1zM511.9 142.6h1v1h-1zM513.2 118.2h1v1h-1zM513.5 94.7h1v1h-1zM515.9 139.0h1v1h-1zM514.8 157.0h1v1h-1zM516.1 150.4h1v1h-1zM513.5 117.6h1v1h-1zM515.2 151.9h1v1h-1zM514.7 126.3h1v1h-1zM514.2 124.5h1v1h-1zM514.0 126.4h1v1h-1zM515.5 158.4h1v1h-1zM517.2 155.4h1v1h-1zM514.4 160.4h1v1h-1zM517.4 137.0h1v1h-1zM506.5 134.5h1v1h-1zM476.6 134.2h1v1h-1zM496.8 134.6h1v1h-1zM508.7 133.9h1v1h-1zM539.0 134.8h1v1h-1zM538.5 134.7h1v1h-1zM499.0 134.9h1v1h-1zM456.7 135.2h1v1h-1zM529.0 136.8h1v1h-1zM469.2 134.1h1v1h-1zM528.4 135.9h1v1h-1zM493.6 135.4h1v1h-1zM473.9 134.8h1v1h-1zM527.1 136.6h1v1h-1zM558.4 135.1h1v1h-1zM504.9 135.2h1v1h-1zM527.5 132.4h1v1h-1zM537.9 135.0h1v1h-1zM569.2 134.3h1v1h-1zM531.7 135.7h1v1h-1zM501.1 134.7h1v1h-1zM529.6 135.5h1v1h-1zM522.6 135.7h1v1h-1zM530.6 135.9h1v1h-1zM492.7 134.9h1v1h-1zM541.5 133.7h1v1h-1zM436.7 135.6h1v1h-1zM548.9 136.0h1v1h-1zM479.8 135.5h1v1h-1zM566.7 135.7h1v1h-1zM516.6 136.2h1v1h-1zM580.7 135.1h1v1h-1zM497.5 135.5h1v1h-1zM505.4 135.1h1v1h-1zM494.1 134.4h1v1h-1zM486.1 135.0h1v1h-1zM501.6 135.4h1v1h-1zM554.3 135.1h1v1h-1zM543.9 133.4h1v1h-1zM503.1 136.4h1v1h-1zM467.1 137.9h1v1h-1zM536.5 135.6h1v1h-1zM548.7 135.4h1v1h-1zM502.0 134.7h1v1h-1zM548.3 136.2h1v1h-1zM434.2 135.0h1v1h-1zM505.7 137.8h1v1h-1zM510.1 136.3h1v1h-1zM563.8 136.5h1v1h-1zM510.5 135.7h1v1h-1zM490.9 135.4h1v1h-1zM477.1 135.5h1v1h-1zM472.8 135.5h1v1h-1zM476.4 135.3h1v1h-1zM493.1 134.7h1v1h-1zM499.9 133.3h1v1h-1zM459.0 135.7h1v1h-1zM502.1 135.4h1v1h-1zM499.5 135.2h1v1h-1zM438.4 135.8h1v1h-1zM541.7 134.7h1v1h-1zM520.5 136.3h1v1h-1zM567.7 136.0h1v1h-1zM464.1 135.3h1v1h-1zM528.5 135.5h1v1h-1zM491.3 134.1h1v1h-1zM504.0 136.3h1v1h-1zM510.3 135.2h1v1h-1zM589.9 136.0h1v1h-1zM520.6 132.7h1v1h-1zM467.0 135.0h1v1h-1zM500.1 134.8h1v1h-1zM454.1 133.0h1v1h-1zM524.3 135.2h1v1h-1zM499.2 133.8h1v1h-1zM507.2 134.7h1v1h-1zM522.7 138.1h1v1h-1zM544.8 134.7h1v1h-1zM464.4 133.5h1v1h-1zM491.6 136.7h1v1h-1zM450.5 135.3h1v1h-1zM503.1 135.4h1v1h-1zM526.5 135.7h1v1h-1zM496.4 136.3h1v1h-1zM491.8 135.0h1v1h-1zM572.7 135.4h1v1h-1zM466.9 138.3h1v1h-1zM505.3 136.2h1v1h-1zM548.4 134.9h1v1h-1zM476.7 134.7h1v1h-1zM503.6 135.3h1v1h-1zM536.3 134.1h1v1h-1zM505.1 136.4h1v1h-1zM506.6 136.1h1v1h-1zM480.6 135.6h1v1h-1zM547.0 136.4h1v1h-1zM480.9 134.2h1v1h-1zM488.3 135.6h1v1h-1zM497.0 136.3h1v1h-1zM438.1 135.4h1v1h-1zM516.8 135.0h1v1h-1zM476.8 136.2h1v1h-1zM490.1 135.0h1v1h-1zM497.8 135.8h1v1h-1zM500.6 135.3h1v1h-1zM496.0 136.2h1v1h-1zM496.9 135.0h1v1h-1zM507.6 135.8h1v1h-1zM494.3 136.6h1v1h-1zM578.9 135.4h1v1h-1zM490.0 133.2h1v1h-1zM534.2 135.2h1v1h-1zM554.9 134.7h1v1h-1zM490.0 137.2h1v1h-1zM525.4 134.9h1v1h-1zM485.2 135.0h1v1h-1zM507.3 135.4h1v1h-1zM533.8 134.1h1v1h-1zM480.2 135.1h1v1h-1zM501.0 135.5h1v1h-1zM526.7 136.8h1v1h-1zM554.2 135.3h1v1h-1zM466.0 135.4h1v1h-1zM556.0 135.5h1v1h-1zM523.5 134.5h1v1h-1zM497.5 134.7h1v1h-1zM456.5 133.1h1v1h-1zM478.8 133.7h1v1h-1zM553.3 135.2h1v1h-1zM483.4 136.5h1v1h-1zM528.6 133.0h1v1h-1zM467.3 137.8h1v1h-1zM499.6 135.7h1v1h-1zM508.0 134.6h1v1h-1zM526.7 134.1h1v1h-1zM532.2 135.5h1v1h-1zM495.3 136.7h1v1h-1zM544.2 134.9h1v1h-1zM520.9 135.1h1v1h-1zM519.7 134.7h1v1h-1zM449.0 134.8h1v1h-1zM495.0 135.7h1v1h-1zM504.2 135.1h1v1h-1zM507.0 131.8h1v1h-1zM582.9 135.2h1v1h-1zM506.3 135.3h1v1h-1zM522.8 135.2h1v1h-1zM482.1 135.6h1v1h-1zM545.4 134.3h1v1h-1zM499.6 134.3h1v1h-1zM539.1 135.5h1v1h-1zM542.7 135.2h1v1h-1zM559.9 135.3h1v1h-1zM453.2 135.0h1v1h-1zM521.5 132.9h1v1h-1zM561.6 137.1h1v1h-1zM503.8 135.3h1v1h-1zM523.7 135.7h1v1h-1zM569.0 136.2h1v1h-1zM481.6 134.7h1v1h-1zM496.1 137.3h1v1h-1zM471.3 136.0h1v1h-1zM503.1 134.1h1v1h-1zM477.4 135.1h1v1h-1zM468.6 135.0h1v1h-1zM485.2 135.9h1v1h-1zM497.4 137.5h1v1h-1zM568.5 134.4h1v1h-1zM551.8 135.0h1v1h-1zM498.2 135.4h1v1h-1zM458.6 137.7h1v1h-1zM504.7 135.1h1v1h-1zM489.7 136.6h1v1h-1zM454.2 135.5h1v1h-1zM531.8 134.6h1v1h-1zM540.7 135.1h1v1h-1zM492.6 134.6h1v1h-1zM521.5 135.7h1v1h-1zM570.9 137.1h1v1h-1zM582.9 133.6h1v1h-1zM484.4 137.2h1v1h-1zM495.7 135.3h1v1h-1zM546.2 136.7h1v1h-1zM540.2 135.2h1v1h-1zM587.8 133.1h1v1h-1zM538.7 135.4h1v1h-1zM483.8 135.1h1v1h-1zM535.9 135.4h1v1h-1zM519.3 135.3h1v1h-1zM489.7 135.9h1v1h-1zM533.1 134.8h1v1h-1zM466.1 137.4h1v1h-1zM470.6 135.0h1v1h-1zM529.0 135.6h1v1h-1zM493.0 135.1h1v1h-1zM494.8 132.8h1v1h-1zM518.7 136.8h1v1h-1zM568.9 136.3h1v1h-1zM483.9 137.1h1v1h-1zM569.4 134.6h1v1h-1zM483.3 136.0h1v1h-1zM502.3 134.2h1v1h-1zM531.2 135.7h1v1h-1zM547.3 136.1h1v1h-1zM528.4 134.1h1v1h-1zM461.8 136.4h1v1h-1zM501.3 134.2h1v1h-1zM470.0 135.1h1v1h-1zM491.4 134.3h1v1h-1zM510.7 133.1h1v1h-1zM472.8 134.0h1v1h-1zM487.5 135.1h1v1h-1zM509.6 135.2h1v1h-1zM487.5 136.2h1v1h-1zM483.1 135.6h1v1h-1zM481.6 135.3h1v1h-1zM481.0 136.3h1v1h-1zM516.4 134.3h1v1h-1zM484.5 132.9h1v1h-1zM557.6 136.0h1v1h-1zM497.6 134.9h1v1h-1zM471.5 134.9h1v1h-1zM509.7 135.8h1v1h-1zM529.8 133.9h1v1h-1zM460.2 134.7h1v1h-1zM512.2 141.6h1v1h-1zM494.6 135.4h1v1h-1zM522.6 137.3h1v1h-1zM482.7 135.4h1v1h-1zM567.8 134.3h1v1h-1zM485.5 135.2h1v1h-1zM497.3 132.5h1v1h-1zM484.4 135.9h1v1h-1zM524.6 134.7h1v1h-1zM462.0 134.0h1v1h-1zM472.6 134.5h1v1h-1zM541.2 135.7h1v1h-1zM491.0 135.1h1v1h-1zM594.3 135.2h1v1h-1zM518.6 135.2h1v1h-1zM565.2 135.2h1v1h-1zM568.8 133.9h1v1h-1zM558.9 134.2h1v1h-1zM519.7 135.8h1v1h-1zM493.8 136.2h1v1h-1zM491.8 133.5h1v1h-1zM541.0 135.1h1v1h-1zM506.1 135.2h1v1h-1zM515.4 134.8h1v1h-1zM479.2 136.1h1v1h-1zM545.5 132.7h1v1h-1zM561.7 135.8h1v1h-1zM464.9 135.2h1v1h-1zM477.6 133.0h1v1h-1zM448.9 134.7h1v1h-1zM465.0 136.0h1v1h-1zM585.6 136.5h1v1h-1zM549.8 134.3h1v1h-1zM564.6 134.8h1v1h-1zM516.0 135.2h1v1h-1zM486.2 133.5h1v1h-1zM485.0 135.3h1v1h-1zM504.7 135.5h1v1h-1zM486.3 135.2h1v1h-1zM523.4 135.0h1v1h-1zM562.5 136.8h1v1h-1zM475.1 135.8h1v1h-1zM538.6 135.1h1v1h-1zM523.6 136.8h1v1h-1zM453.7 136.3h1v1h-1zM532.7 135.7h1v1h-1zM527.8 135.4h1v1h-1zM461.8 135.8h1v1h-1zM556.2 131.5h1v1h-1zM485.4 135.5h1v1h-1zM506.1 135.7h1v1h-1zM524.9 135.5h1v1h-1zM491.4 134.8h1v1h-1zM468.9 135.1h1v1h-1zM521.7 136.2h1v1h-1zM576.0 135.2h1v1h-1zM522.2 135.7h1v1h-1zM527.2 135.8h1v1h-1zM544.7 135.0h1v1h-1zM463.6 134.9h1v1h-1zM515.8 134.4h1v1h-1zM457.0 135.5h1v1h-1zM492.4 133.0h1v1h-1zM566.1 135.3h1v1h-1zM502.6 134.7h1v1h-1zM497.8 135.1h1v1h-1zM511.5 134.1h1v1h-1zM477.8 134.2h1v1h-1zM493.0 133.1h1v1h-1zM523.8 135.3h1v1h-1zM545.8 135.8h1v1h-1zM503.3 136.3h1v1h-1zM523.1 136.6h1v1h-1zM518.8 134.4h1v1h-1zM553.4 135.5h1v1h-1zM530.1 134.6h1v1h-1zM495.4 135.8h1v1h-1zM540.6 135.4h1v1h-1zM531.4 136.3h1v1h-1zM501.6 135.1h1v1h-1zM508.3 132.7h1v1h-1zM548.0 138.6h1v1h-1zM518.2 135.8h1v1h-1zM436.4 135.2h1v1h-1zM470.3 135.5h1v1h-1zM473.8 137.2h1v1h-1zM526.8 135.5h1v1h-1zM535.9 135.8h1v1h-1zM501.9 134.9h1v1h-1zM559.9 136.3h1v1h-1zM520.3 133.7h1v1h-1zM471.9 135.0h1v1h-1zM537.0 135.8h1v1h-1zM554.3 136.2h1v1h-1zM454.8 135.3h1v1h-1zM580.9 135.6h1v1h-1zM556.3 135.3h1v1h-1zM526.4 135.1h1v1h-1zM460.2 135.1h1v1h-1zM526.8 134.4h1v1h-1zM470.9 135.1h1v1h-1zM504.3 133.2h1v1h-1zM503.3 134.4h1v1h-1zM505.8 137.0h1v1h-1zM475.6 135.2h1v1h-1zM496.1 134.4h1v1h-1zM532.0 135.1h1v1h-1zM541.5 136.4h1v1h-1zM459.6 135.9h1v1h-1zM475.0 136.5h1v1h-1zM479.5 135.4h1v1h-1zM575.0 135.3h1v1h-1zM542.1 134.9h1v1h-1zM536.6 137.1h1v1h-1zM482.0 135.2h1v1h-1zM542.1 136.6h1v1h-1zM501.8 136.2h1v1h-1zM529.8 136.5h1v1h-1zM502.5 134.9h1v1h-1zM489.0 135.8h1v1h-1zM478.2 135.4h1v1h-1zM475.3 135.5h1v1h-1zM549.2 136.6h1v1h-1zM542.1 134.3h1v1h-1zM480.4 135.0h1v1h-1zM518.8 136.0h1v1h-1zM546.8 135.9h1v1h-1zM527.8 136.0h1v1h-1zM530.9 134.9h1v1h-1zM505.6 134.3h1v1h-1zM502.1 136.8h1v1h-1zM551.5 135.7h1v1h-1zM515.5 136.6h1v1h-1zM518.0 135.4h1v1h-1zM514.7 131.4h1v1h-1zM518.2 135.2h1v1h-1zM509.1 132.7h1v1h-1zM512.2 136.4h1v1h-1zM509.8 137.2h1v1h-1zM516.4 133.1h1v1h-1zM508.5 133.6h1v1h-1zM516.9 133.8h1v1h-1zM517.1 140.1h1v1h-1zM510.9 135.9h1v1h-1zM512.1 138.3h1v1h-1zM506.9 135.5h1v1h-1zM511.7 139.6h1v1h-1zM512.1 133.7h1v1h-1zM510.8 133.9h1v1h-1zM508.4 136.0h1v1h-1zM517.9 133.9h1v1h-1z" fill="#111"/>
<line x1="391.70" y1="135.75" x2="636.60" y2="135.75" stroke="#111" stroke-width="1.1"/>
<line x1="514.30" y1="54.40" x2="514.30" y2="217.30" stroke="#111" stroke-width="1.1"/>
<line x1="391.90" y1="135.75" x2="391.90" y2="138.15" stroke="#111" stroke-width="1.0"/>
<line x1="432.70" y1="135.75" x2="432.70" y2="138.15" stroke="#111" stroke-width="1.0"/>
<line x1="473.50" y1="135.75" x2="473.50" y2="138.15" stroke="#111" stroke-width="1.0"/>
<line x1="555.10" y1="135.75" x2="555.10" y2="138.15" stroke="#111" stroke-width="1.0"/>
<line x1="595.90" y1="135.75" x2="595.90" y2="138.15" stroke="#111" stroke-width="1.0"/>
<line x1="636.70" y1="135.75" x2="636.70" y2="138.15" stroke="#111" stroke-width="1.0"/>
<line x1="510.70" y1="54.39" x2="514.30" y2="54.39" stroke="#111" stroke-width="1.0"/>
<line x1="510.70" y1="81.51" x2="514.30" y2="81.51" stroke="#111" stroke-width="1.0"/>
<line x1="510.70" y1="108.63" x2="514.30" y2="108.63" stroke="#111" stroke-width="1.0"/>
<line x1="510.70" y1="162.87" x2="514.30" y2="162.87" stroke="#111" stroke-width="1.0"/>
<line x1="510.70" y1="189.99" x2="514.30" y2="189.99" stroke="#111" stroke-width="1.0"/>
<line x1="510.70" y1="217.11" x2="514.30" y2="217.11" stroke="#111" stroke-width="1.0"/>
<text x="514.30" y="37.10" font-size="8.8" fill="#1a1a1a" text-anchor="middle">CMap Leptin</text>
<text x="514.30" y="46.90" font-size="8.8" fill="#1a1a1a" text-anchor="middle">Similarity Score</text>
<text x="600.40" y="121.40" font-size="8.8" fill="#1a1a1a">CMap TubA Similarity</text>
<text x="642.60" y="131.00" font-size="8.8" fill="#1a1a1a" text-anchor="middle">Score</text>
<circle cx="575.9" cy="84.3" r="1.3" fill="#4f6ef5"/><circle cx="586.8" cy="89.3" r="1.3" fill="#4f6ef5"/>
<circle cx="437.7" cy="185.8" r="1.3" fill="#c0281c"/><circle cx="434.6" cy="188.3" r="1.3" fill="#c0281c"/>
<text x="578.00" y="84.40" font-size="5.45" fill="#d0402e">SERPIND1</text>
<text x="588.80" y="94.10" font-size="5.35" fill="#d0402e">kinetin-riboside</text>
<text x="408.80" y="184.10" font-size="5.45" fill="#d0402e">PF-562271</text>
<text x="427.60" y="196.30" font-size="5.45" fill="#d0402e">ZG-10</text>
<line x1="472.80" y1="348.20" x2="615.30" y2="348.20" stroke="#111" stroke-width="0.7" stroke-dasharray="1.6,1.1"/>
<line x1="472.80" y1="301.50" x2="472.80" y2="417.30" stroke="#222" stroke-width="1.1"/>
<line x1="472.25" y1="417.20" x2="615.30" y2="417.20" stroke="#222" stroke-width="1.1"/>
<line x1="470.20" y1="302.00" x2="472.80" y2="302.00" stroke="#222" stroke-width="1.0"/>
<text x="468.00" y="305.50" font-size="10" fill="#222" text-anchor="end" letter-spacing="0.35">100</text>
<line x1="470.20" y1="325.10" x2="472.80" y2="325.10" stroke="#222" stroke-width="1.0"/>
<text x="468.00" y="328.60" font-size="10" fill="#222" text-anchor="end" letter-spacing="0.35">50</text>
<line x1="470.20" y1="348.20" x2="472.80" y2="348.20" stroke="#222" stroke-width="1.0"/>
<text x="468.00" y="351.70" font-size="10" fill="#222" text-anchor="end" letter-spacing="0.35">0</text>
<line x1="470.20" y1="371.30" x2="472.80" y2="371.30" stroke="#222" stroke-width="1.0"/>
<text x="468.00" y="374.80" font-size="10" fill="#222" text-anchor="end" letter-spacing="0.35">-50</text>
<line x1="470.20" y1="394.40" x2="472.80" y2="394.40" stroke="#222" stroke-width="1.0"/>
<text x="468.00" y="397.90" font-size="10" fill="#222" text-anchor="end" letter-spacing="0.35">-100</text>
<line x1="470.20" y1="417.50" x2="472.80" y2="417.50" stroke="#222" stroke-width="1.0"/>
<text x="468.00" y="421.00" font-size="10" fill="#222" text-anchor="end" letter-spacing="0.35">-150</text>
<text font-size="10" fill="#222" text-anchor="middle" transform="translate(443.2,358.6) rotate(-90)">Combined CMap Similarity Score</text>
<text x="535.70" y="429.40" font-size="10" fill="#222" text-anchor="middle">Perturbagens</text>
<text x="535.70" y="440.40" font-size="10" fill="#222" text-anchor="middle">(genes &amp; compounds)</text>
<path d="M473.00,393.50 C473.03,392.08 473.08,388.08 473.20,385.00 C473.32,381.92 473.40,377.67 473.70,375.00 C474.00,372.33 474.45,370.87 475.00,369.00 C475.55,367.13 476.25,365.10 477.00,363.80 C477.75,362.50 478.52,361.97 479.50,361.20 C480.48,360.43 481.68,359.90 482.90,359.20 C484.12,358.50 485.42,357.70 486.80,357.00 C488.18,356.30 489.78,355.57 491.20,355.00 C492.62,354.43 493.90,354.02 495.30,353.60 C496.70,353.18 497.98,352.88 499.60,352.50 C501.22,352.12 503.07,351.67 505.00,351.30 C506.93,350.93 509.03,350.58 511.20,350.30 C513.37,350.02 515.70,349.80 518.00,349.60 C520.30,349.40 522.50,349.25 525.00,349.10 C527.50,348.95 529.67,348.80 533.00,348.70 C536.33,348.60 540.83,348.54 545.00,348.50 C549.17,348.46 553.72,348.48 558.00,348.45 C562.28,348.42 567.37,348.39 570.70,348.30 C574.03,348.21 575.82,348.08 578.00,347.90 C580.18,347.72 581.80,347.55 583.80,347.20 C585.80,346.85 588.13,346.33 590.00,345.80 C591.87,345.27 593.23,344.67 595.00,344.00 C596.77,343.33 599.03,342.50 600.60,341.80 C602.17,341.10 603.28,340.43 604.40,339.80 C605.52,339.17 606.43,338.63 607.30,338.00 C608.17,337.37 608.90,336.73 609.60,336.00 C610.30,335.27 610.93,334.47 611.50,333.60 C612.07,332.73 612.62,331.70 613.00,330.80 C613.38,329.90 613.57,329.25 613.80,328.20 C614.03,327.15 614.25,325.58 614.40,324.50 C614.55,323.42 614.62,323.43 614.70,321.70 C614.78,319.97 614.86,316.30 614.90,314.10 C614.94,311.90 614.94,309.43 614.95,308.50" fill="none" stroke="#ad2a1c" stroke-width="1.1"/>
<rect x="610.20" y="305.20" width="9.10" height="6.40" fill="none" stroke="#999" stroke-width="0.6" rx="1.2"/>
<rect x="469.40" y="389.40" width="8.60" height="4.90" fill="none" stroke="#444" stroke-width="0.6" rx="0.8"/>
<circle cx="614.9" cy="308.5" r="1.0" fill="#b0181c"/><circle cx="472.9" cy="392.6" r="1.0" fill="#b0181c"/>
<line x1="594.80" y1="301.70" x2="611.40" y2="305.80" stroke="#333" stroke-width="0.6"/>
<line x1="595.60" y1="316.60" x2="610.80" y2="311.00" stroke="#333" stroke-width="0.6"/>
<line x1="478.00" y1="390.50" x2="504.20" y2="385.10" stroke="#333" stroke-width="0.6"/>
<line x1="478.00" y1="393.20" x2="504.20" y2="399.60" stroke="#333" stroke-width="0.6"/>
<text x="478.90" y="303.80" font-size="6.15" fill="#222">kinetin-riboside (87.12, apoptosis inducer)</text>
<text x="478.90" y="317.90" font-size="6.15" fill="#222">SERPIND1 (85.08, serine protease inh.)</text>
<text x="505.10" y="387.60" font-size="6.15" fill="#222">PF-562271 (-93.36, focal adhesion kinase inhibitor)</text>
<text x="505.10" y="401.60" font-size="6.15" fill="#222">ZG-10 (-97.49, JNK inhibitor)</text>
</svg></body></html>
